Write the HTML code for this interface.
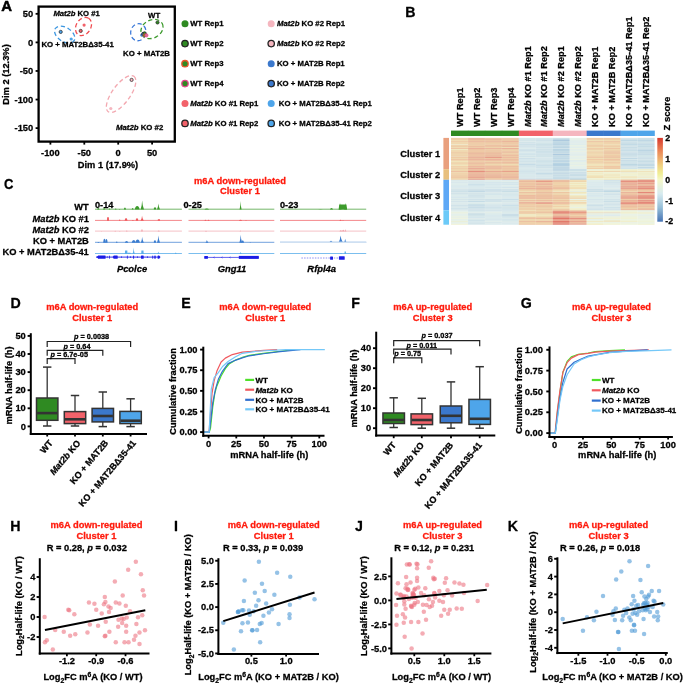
<!DOCTYPE html>
<html><head><meta charset="utf-8"><style>
html,body{margin:0;padding:0;background:#fff;overflow:hidden;}
svg{display:block;font-family:"Liberation Sans",sans-serif;will-change:transform;}
text{stroke-width:0.28px;stroke-linejoin:round;}
</style></head><body>
<svg width="685" height="683" viewBox="0 0 685 683">
<rect width="685" height="683" fill="#fff"/>
<text x="0" y="0" font-size="14.1" font-weight="bold" fill="#000" stroke="#000" style="stroke-width:0.5px" transform="translate(1.3 10.5) scale(1.06 1)">A</text>
<rect x="38.6" y="6.6" width="136.2" height="135" fill="none" stroke="#000" stroke-width="2.3"/>
<line x1="35.60" y1="13.82" x2="38.60" y2="13.82" stroke="#000" stroke-width="1.8"/>
<text x="33.20" y="17.12" font-size="9.3" text-anchor="end" fill="#000" stroke="#000" font-weight="bold">50</text>
<line x1="35.60" y1="42.40" x2="38.60" y2="42.40" stroke="#000" stroke-width="1.8"/>
<text x="33.20" y="45.70" font-size="9.3" text-anchor="end" fill="#000" stroke="#000" font-weight="bold">0</text>
<line x1="35.60" y1="70.97" x2="38.60" y2="70.97" stroke="#000" stroke-width="1.8"/>
<text x="33.20" y="74.27" font-size="9.3" text-anchor="end" fill="#000" stroke="#000" font-weight="bold">-50</text>
<line x1="35.60" y1="99.55" x2="38.60" y2="99.55" stroke="#000" stroke-width="1.8"/>
<text x="33.20" y="102.85" font-size="9.3" text-anchor="end" fill="#000" stroke="#000" font-weight="bold">-100</text>
<line x1="35.60" y1="128.12" x2="38.60" y2="128.12" stroke="#000" stroke-width="1.8"/>
<text x="33.20" y="131.43" font-size="9.3" text-anchor="end" fill="#000" stroke="#000" font-weight="bold">-150</text>
<line x1="50.40" y1="141.60" x2="50.40" y2="144.60" stroke="#000" stroke-width="1.8"/>
<text x="50.40" y="156.20" font-size="9.3" text-anchor="middle" fill="#000" stroke="#000" font-weight="bold">-100</text>
<line x1="84.30" y1="141.60" x2="84.30" y2="144.60" stroke="#000" stroke-width="1.8"/>
<text x="84.30" y="156.20" font-size="9.3" text-anchor="middle" fill="#000" stroke="#000" font-weight="bold">-50</text>
<line x1="118.20" y1="141.60" x2="118.20" y2="144.60" stroke="#000" stroke-width="1.8"/>
<text x="118.20" y="156.20" font-size="9.3" text-anchor="middle" fill="#000" stroke="#000" font-weight="bold">0</text>
<line x1="152.10" y1="141.60" x2="152.10" y2="144.60" stroke="#000" stroke-width="1.8"/>
<text x="152.10" y="156.20" font-size="9.3" text-anchor="middle" fill="#000" stroke="#000" font-weight="bold">50</text>
<text x="108.00" y="167.90" font-size="9.3" text-anchor="middle" fill="#000" stroke="#000" font-weight="bold">Dim 1 (17.9%)</text>
<text x="8.60" y="74.50" font-size="9.3" text-anchor="middle" fill="#000" stroke="#000" font-weight="bold" transform="rotate(-90 8.6 74.5)">Dim 2 (12.3%)</text>
<ellipse cx="83.5" cy="26.5" rx="9.7" ry="7.3" transform="rotate(-58 83.5 26.5)" fill="none" stroke="#f04a4e" stroke-width="1.3" stroke-dasharray="4.2 2.8"/>
<ellipse cx="64.7" cy="34.6" rx="11.2" ry="7" transform="rotate(33 64.7 34.6)" fill="none" stroke="#3a95e0" stroke-width="1.3" stroke-dasharray="4.2 2.8"/>
<ellipse cx="152" cy="29" rx="11.6" ry="9" transform="rotate(-28 152 29)" fill="none" stroke="#3c9a2c" stroke-width="1.3" stroke-dasharray="4.2 2.8"/>
<ellipse cx="138.3" cy="32.2" rx="7.6" ry="8.6" transform="rotate(15 138.3 32.2)" fill="none" stroke="#3a78d8" stroke-width="1.3" stroke-dasharray="4.2 2.8"/>
<ellipse cx="121.1" cy="94" rx="21.9" ry="8.9" transform="rotate(-54 121.1 94)" fill="none" stroke="#f3a8b0" stroke-width="1.3" stroke-dasharray="4.2 2.8"/>
<circle cx="84.10" cy="25.10" r="1.6" fill="#f2626a"/>
<circle cx="80.70" cy="30.90" r="1.6" fill="#f2626a" stroke="#222" stroke-width="0.7"/>
<circle cx="60.70" cy="31.90" r="1.6" fill="#4ea5ea" stroke="#222" stroke-width="0.7"/>
<circle cx="71.20" cy="39.00" r="1.6" fill="#4ea5ea"/>
<circle cx="131.60" cy="79.90" r="1.6" fill="#f5b6bf" stroke="#222" stroke-width="0.7"/>
<circle cx="110.80" cy="108.50" r="1.6" fill="#f5b6bf"/>
<circle cx="157.50" cy="22.50" r="1.6" fill="#2f8a22" stroke="#222" stroke-width="0.7"/>
<circle cx="141.80" cy="35.10" r="1.6" fill="#3b78cc"/>
<circle cx="143.20" cy="33.90" r="1.6" fill="#3b78cc" stroke="#222" stroke-width="0.7"/>
<circle cx="144.60" cy="33.30" r="1.6" fill="#2f8a22" stroke="#222" stroke-width="0.7"/>
<circle cx="144.60" cy="35.40" r="1.6" fill="#2f8a22" stroke="#e8552a" stroke-width="0.8"/>
<circle cx="146.40" cy="35.30" r="1.6" fill="#e86a96" stroke="#e0468c" stroke-width="0.8"/>
<text x="53.40" y="15.60" font-size="7.65" text-anchor="start" fill="#000" stroke="#000" font-weight="bold"><tspan font-style="italic">Mat2b</tspan> KO #1</text>
<text x="41.40" y="47.10" font-size="7.8" text-anchor="start" fill="#000" stroke="#000" font-weight="bold">KO + MAT2B&#916;35-41</text>
<text x="148.10" y="17.90" font-size="7.8" text-anchor="start" fill="#000" stroke="#000" font-weight="bold">WT</text>
<text x="123.10" y="55.90" font-size="7.8" text-anchor="start" fill="#000" stroke="#000" font-weight="bold">KO + MAT2B</text>
<text x="116.00" y="129.70" font-size="7.8" text-anchor="start" fill="#000" stroke="#000" font-weight="bold"><tspan font-style="italic">Mat2b</tspan> KO #2</text>
<circle cx="185.00" cy="23.70" r="3.5" fill="#2f8a22"/>
<text x="190.30" y="26.10" font-size="7.75" text-anchor="start" fill="#000" stroke="#000" font-weight="bold">WT Rep1</text>
<circle cx="185.00" cy="43.60" r="3.2" fill="#2f8a22" stroke="#222" stroke-width="1.3"/>
<text x="190.30" y="46.00" font-size="7.75" text-anchor="start" fill="#000" stroke="#000" font-weight="bold">WT Rep2</text>
<circle cx="185.00" cy="63.70" r="3.2" fill="#2f8a22" stroke="#e8552a" stroke-width="1.3"/>
<text x="190.30" y="66.10" font-size="7.75" text-anchor="start" fill="#000" stroke="#000" font-weight="bold">WT Rep3</text>
<circle cx="185.00" cy="83.60" r="3.2" fill="#2f8a22" stroke="#e0468c" stroke-width="1.3"/>
<text x="190.30" y="86.00" font-size="7.75" text-anchor="start" fill="#000" stroke="#000" font-weight="bold">WT Rep4</text>
<circle cx="185.00" cy="103.50" r="3.5" fill="#f2626a"/>
<text x="190.30" y="105.90" font-size="7.75" text-anchor="start" fill="#000" stroke="#000" font-weight="bold"><tspan font-style="italic">Mat2b</tspan> KO #1 Rep1</text>
<circle cx="185.00" cy="123.40" r="3.2" fill="#f2626a" stroke="#222" stroke-width="1.3"/>
<text x="190.30" y="125.80" font-size="7.75" text-anchor="start" fill="#000" stroke="#000" font-weight="bold"><tspan font-style="italic">Mat2b</tspan> KO #1 Rep2</text>
<circle cx="271.20" cy="23.70" r="3.5" fill="#f5b6bf"/>
<text x="277.00" y="26.10" font-size="7.75" text-anchor="start" fill="#000" stroke="#000" font-weight="bold"><tspan font-style="italic">Mat2b</tspan> KO #2 Rep1</text>
<circle cx="271.20" cy="43.60" r="3.2" fill="#f5b6bf" stroke="#222" stroke-width="1.3"/>
<text x="277.00" y="46.00" font-size="7.75" text-anchor="start" fill="#000" stroke="#000" font-weight="bold"><tspan font-style="italic">Mat2b</tspan> KO #2 Rep2</text>
<circle cx="271.20" cy="63.70" r="3.5" fill="#3b78cc"/>
<text x="277.00" y="66.10" font-size="7.75" text-anchor="start" fill="#000" stroke="#000" font-weight="bold">KO + MAT2B Rep1</text>
<circle cx="271.20" cy="83.60" r="3.2" fill="#3b78cc" stroke="#222" stroke-width="1.3"/>
<text x="277.00" y="86.00" font-size="7.75" text-anchor="start" fill="#000" stroke="#000" font-weight="bold">KO + MAT2B Rep2</text>
<circle cx="271.20" cy="103.50" r="3.5" fill="#4ea5ea"/>
<text x="278.80" y="105.90" font-size="7.75" text-anchor="start" fill="#000" stroke="#000" font-weight="bold">KO + MAT2B&#916;35-41 Rep1</text>
<circle cx="271.20" cy="123.40" r="3.2" fill="#4ea5ea" stroke="#222" stroke-width="1.3"/>
<text x="278.80" y="125.80" font-size="7.75" text-anchor="start" fill="#000" stroke="#000" font-weight="bold">KO + MAT2B&#916;35-41 Rep2</text>
<text x="405.30" y="16.80" font-size="14.2" text-anchor="start" fill="#000" stroke="#000" font-weight="bold">B</text>
<text x="462.68" y="126.90" font-size="9.2" text-anchor="start" fill="#000" stroke="#000" font-weight="bold" transform="rotate(-90 462.679 126.9)">WT Rep1</text>
<text x="479.64" y="126.90" font-size="9.2" text-anchor="start" fill="#000" stroke="#000" font-weight="bold" transform="rotate(-90 479.637 126.9)">WT Rep2</text>
<text x="496.60" y="126.90" font-size="9.2" text-anchor="start" fill="#000" stroke="#000" font-weight="bold" transform="rotate(-90 496.596 126.9)">WT Rep3</text>
<text x="513.55" y="126.90" font-size="9.2" text-anchor="start" fill="#000" stroke="#000" font-weight="bold" transform="rotate(-90 513.554 126.9)">WT Rep4</text>
<text x="530.51" y="126.90" font-size="9.2" text-anchor="start" fill="#000" stroke="#000" font-weight="bold" transform="rotate(-90 530.513 126.9)"><tspan font-style="italic">Mat2b</tspan> KO #1 Rep1</text>
<text x="547.47" y="126.90" font-size="9.2" text-anchor="start" fill="#000" stroke="#000" font-weight="bold" transform="rotate(-90 547.471 126.9)"><tspan font-style="italic">Mat2b</tspan> KO #1 Rep2</text>
<text x="564.43" y="126.90" font-size="9.2" text-anchor="start" fill="#000" stroke="#000" font-weight="bold" transform="rotate(-90 564.429 126.9)"><tspan font-style="italic">Mat2b</tspan> KO #2 Rep1</text>
<text x="581.39" y="126.90" font-size="9.2" text-anchor="start" fill="#000" stroke="#000" font-weight="bold" transform="rotate(-90 581.388 126.9)"><tspan font-style="italic">Mat2b</tspan> KO #2 Rep2</text>
<text x="598.35" y="126.90" font-size="9.2" text-anchor="start" fill="#000" stroke="#000" font-weight="bold" transform="rotate(-90 598.346 126.9)">KO + MAT2B Rep1</text>
<text x="615.30" y="126.90" font-size="9.2" text-anchor="start" fill="#000" stroke="#000" font-weight="bold" transform="rotate(-90 615.304 126.9)">KO + MAT2B Rep2</text>
<text x="632.26" y="126.90" font-size="9.2" text-anchor="start" fill="#000" stroke="#000" font-weight="bold" transform="rotate(-90 632.263 126.9)">KO + MAT2B&#916;35-41 Rep1</text>
<text x="649.22" y="126.90" font-size="9.2" text-anchor="start" fill="#000" stroke="#000" font-weight="bold" transform="rotate(-90 649.221 126.9)">KO + MAT2B&#916;35-41 Rep2</text>
<rect x="451.00" y="130.60" width="17.26" height="5.40" fill="#2f8a22"/>
<rect x="467.96" y="130.60" width="17.26" height="5.40" fill="#2f8a22"/>
<rect x="484.92" y="130.60" width="17.26" height="5.40" fill="#2f8a22"/>
<rect x="501.88" y="130.60" width="17.26" height="5.40" fill="#2f8a22"/>
<rect x="518.83" y="130.60" width="17.26" height="5.40" fill="#f2626a"/>
<rect x="535.79" y="130.60" width="17.26" height="5.40" fill="#f2626a"/>
<rect x="552.75" y="130.60" width="17.26" height="5.40" fill="#f5b6bf"/>
<rect x="569.71" y="130.60" width="17.26" height="5.40" fill="#f5b6bf"/>
<rect x="586.67" y="130.60" width="17.26" height="5.40" fill="#3b78cc"/>
<rect x="603.62" y="130.60" width="17.26" height="5.40" fill="#3b78cc"/>
<rect x="620.58" y="130.60" width="17.26" height="5.40" fill="#4ea5ea"/>
<rect x="637.54" y="130.60" width="17.26" height="5.40" fill="#4ea5ea"/>
<rect x="443.40" y="137.90" width="5.60" height="31.30" fill="#e9a07e"/>
<rect x="443.40" y="169.20" width="5.60" height="10.60" fill="#e8c07e"/>
<rect x="443.40" y="179.80" width="5.60" height="30.50" fill="#5ea8f6"/>
<rect x="443.40" y="210.30" width="5.60" height="14.40" fill="#6ccaf8"/>
<text x="440.20" y="157.40" font-size="9.35" text-anchor="end" fill="#000" stroke="#000" font-weight="bold">Cluster 1</text>
<text x="440.20" y="177.90" font-size="9.35" text-anchor="end" fill="#000" stroke="#000" font-weight="bold">Cluster 2</text>
<text x="440.20" y="199.20" font-size="9.35" text-anchor="end" fill="#000" stroke="#000" font-weight="bold">Cluster 3</text>
<text x="440.20" y="221.10" font-size="9.35" text-anchor="end" fill="#000" stroke="#000" font-weight="bold">Cluster 4</text>
<rect x="451.00" y="137.90" width="17.01" height="0.65" fill="#ebca98"/>
<rect x="467.96" y="137.90" width="17.01" height="0.65" fill="#e9b58b"/>
<rect x="484.92" y="137.90" width="17.01" height="0.65" fill="#e9b98d"/>
<rect x="501.88" y="137.90" width="17.01" height="0.65" fill="#eac091"/>
<rect x="518.83" y="137.90" width="17.01" height="0.65" fill="#cadfe5"/>
<rect x="535.79" y="137.90" width="17.01" height="0.65" fill="#cde1e6"/>
<rect x="552.75" y="137.90" width="17.01" height="0.65" fill="#b8d3e0"/>
<rect x="569.71" y="137.90" width="17.01" height="0.65" fill="#e2eee4"/>
<rect x="586.67" y="137.90" width="17.01" height="0.65" fill="#ebc997"/>
<rect x="603.62" y="137.90" width="17.01" height="0.65" fill="#ebc293"/>
<rect x="620.58" y="137.90" width="17.01" height="0.65" fill="#c5dbe4"/>
<rect x="637.54" y="137.90" width="17.01" height="0.65" fill="#adccdd"/>
<rect x="451.00" y="138.50" width="17.01" height="0.65" fill="#eabb8e"/>
<rect x="467.96" y="138.50" width="17.01" height="0.65" fill="#e49e83"/>
<rect x="484.92" y="138.50" width="17.01" height="0.65" fill="#e8b28a"/>
<rect x="501.88" y="138.50" width="17.01" height="0.65" fill="#e9b68c"/>
<rect x="518.83" y="138.50" width="17.01" height="0.65" fill="#cce1e6"/>
<rect x="535.79" y="138.50" width="17.01" height="0.65" fill="#cadfe5"/>
<rect x="552.75" y="138.50" width="17.01" height="0.65" fill="#c2d9e3"/>
<rect x="569.71" y="138.50" width="17.01" height="0.65" fill="#e2eee4"/>
<rect x="586.67" y="138.50" width="17.01" height="0.65" fill="#e9b88c"/>
<rect x="603.62" y="138.50" width="17.01" height="0.65" fill="#eaba8d"/>
<rect x="620.58" y="138.50" width="17.01" height="0.65" fill="#cce0e6"/>
<rect x="637.54" y="138.50" width="17.01" height="0.65" fill="#cadfe5"/>
<rect x="451.00" y="139.10" width="17.01" height="0.65" fill="#ebc796"/>
<rect x="467.96" y="139.10" width="17.01" height="0.65" fill="#e9b58b"/>
<rect x="484.92" y="139.10" width="17.01" height="0.65" fill="#e8b38b"/>
<rect x="501.88" y="139.10" width="17.01" height="0.65" fill="#ebc393"/>
<rect x="518.83" y="139.10" width="17.01" height="0.65" fill="#c4dbe3"/>
<rect x="535.79" y="139.10" width="17.01" height="0.65" fill="#c1d9e3"/>
<rect x="552.75" y="139.10" width="17.01" height="0.65" fill="#acccdd"/>
<rect x="569.71" y="139.10" width="17.01" height="0.65" fill="#deece5"/>
<rect x="586.67" y="139.10" width="17.01" height="0.65" fill="#ecce9b"/>
<rect x="603.62" y="139.10" width="17.01" height="0.65" fill="#eccd9a"/>
<rect x="620.58" y="139.10" width="17.01" height="0.65" fill="#b6d2df"/>
<rect x="637.54" y="139.10" width="17.01" height="0.65" fill="#b6d2df"/>
<rect x="451.00" y="139.71" width="17.01" height="0.65" fill="#eabf90"/>
<rect x="467.96" y="139.71" width="17.01" height="0.65" fill="#e3987f"/>
<rect x="484.92" y="139.71" width="17.01" height="0.65" fill="#e49c82"/>
<rect x="501.88" y="139.71" width="17.01" height="0.65" fill="#e7ae89"/>
<rect x="518.83" y="139.71" width="17.01" height="0.65" fill="#d4e6e9"/>
<rect x="535.79" y="139.71" width="17.01" height="0.65" fill="#d6e7e8"/>
<rect x="552.75" y="139.71" width="17.01" height="0.65" fill="#accbdd"/>
<rect x="569.71" y="139.71" width="17.01" height="0.65" fill="#e2eee3"/>
<rect x="586.67" y="139.71" width="17.01" height="0.65" fill="#e9b78c"/>
<rect x="603.62" y="139.71" width="17.01" height="0.65" fill="#e9b68c"/>
<rect x="620.58" y="139.71" width="17.01" height="0.65" fill="#cfe3e7"/>
<rect x="637.54" y="139.71" width="17.01" height="0.65" fill="#c9dfe5"/>
<rect x="451.00" y="140.31" width="17.01" height="0.65" fill="#edd9a5"/>
<rect x="467.96" y="140.31" width="17.01" height="0.65" fill="#eac091"/>
<rect x="484.92" y="140.31" width="17.01" height="0.65" fill="#eac192"/>
<rect x="501.88" y="140.31" width="17.01" height="0.65" fill="#eac091"/>
<rect x="518.83" y="140.31" width="17.01" height="0.65" fill="#c6dce4"/>
<rect x="535.79" y="140.31" width="17.01" height="0.65" fill="#bfd7e2"/>
<rect x="552.75" y="140.31" width="17.01" height="0.65" fill="#92bad5"/>
<rect x="569.71" y="140.31" width="17.01" height="0.65" fill="#dbeae7"/>
<rect x="586.67" y="140.31" width="17.01" height="0.65" fill="#ede1ae"/>
<rect x="603.62" y="140.31" width="17.01" height="0.65" fill="#edd9a6"/>
<rect x="620.58" y="140.31" width="17.01" height="0.65" fill="#a8c9dc"/>
<rect x="637.54" y="140.31" width="17.01" height="0.65" fill="#a7c8db"/>
<rect x="451.00" y="140.91" width="17.01" height="0.65" fill="#ebc897"/>
<rect x="467.96" y="140.91" width="17.01" height="0.65" fill="#ebc595"/>
<rect x="484.92" y="140.91" width="17.01" height="0.65" fill="#ebc494"/>
<rect x="501.88" y="140.91" width="17.01" height="0.65" fill="#eabc8e"/>
<rect x="518.83" y="140.91" width="17.01" height="0.65" fill="#d2e5e8"/>
<rect x="535.79" y="140.91" width="17.01" height="0.65" fill="#c8dde5"/>
<rect x="552.75" y="140.91" width="17.01" height="0.65" fill="#97bfd7"/>
<rect x="569.71" y="140.91" width="17.01" height="0.65" fill="#d1e4e8"/>
<rect x="586.67" y="140.91" width="17.01" height="0.65" fill="#ebcc99"/>
<rect x="603.62" y="140.91" width="17.01" height="0.65" fill="#eccd9b"/>
<rect x="620.58" y="140.91" width="17.01" height="0.65" fill="#b6d2df"/>
<rect x="637.54" y="140.91" width="17.01" height="0.65" fill="#c5dce4"/>
<rect x="451.00" y="141.51" width="17.01" height="0.65" fill="#eaba8d"/>
<rect x="467.96" y="141.51" width="17.01" height="0.65" fill="#e49c82"/>
<rect x="484.92" y="141.51" width="17.01" height="0.65" fill="#e49e83"/>
<rect x="501.88" y="141.51" width="17.01" height="0.65" fill="#e39279"/>
<rect x="518.83" y="141.51" width="17.01" height="0.65" fill="#d6e7e8"/>
<rect x="535.79" y="141.51" width="17.01" height="0.65" fill="#d1e4e8"/>
<rect x="552.75" y="141.51" width="17.01" height="0.65" fill="#c5dbe4"/>
<rect x="569.71" y="141.51" width="17.01" height="0.65" fill="#ddebe6"/>
<rect x="586.67" y="141.51" width="17.01" height="0.65" fill="#e7ae89"/>
<rect x="603.62" y="141.51" width="17.01" height="0.65" fill="#e7aa87"/>
<rect x="620.58" y="141.51" width="17.01" height="0.65" fill="#cfe2e7"/>
<rect x="637.54" y="141.51" width="17.01" height="0.65" fill="#bad4e0"/>
<rect x="451.00" y="142.11" width="17.01" height="0.65" fill="#eccd9a"/>
<rect x="467.96" y="142.11" width="17.01" height="0.65" fill="#ebc595"/>
<rect x="484.92" y="142.11" width="17.01" height="0.65" fill="#eabd8f"/>
<rect x="501.88" y="142.11" width="17.01" height="0.65" fill="#e9b88c"/>
<rect x="518.83" y="142.11" width="17.01" height="0.65" fill="#c1d9e2"/>
<rect x="535.79" y="142.11" width="17.01" height="0.65" fill="#cde1e7"/>
<rect x="552.75" y="142.11" width="17.01" height="0.65" fill="#b4d1df"/>
<rect x="569.71" y="142.11" width="17.01" height="0.65" fill="#dbeae6"/>
<rect x="586.67" y="142.11" width="17.01" height="0.65" fill="#eccd9b"/>
<rect x="603.62" y="142.11" width="17.01" height="0.65" fill="#ebc695"/>
<rect x="620.58" y="142.11" width="17.01" height="0.65" fill="#c2d9e3"/>
<rect x="637.54" y="142.11" width="17.01" height="0.65" fill="#c6dce4"/>
<rect x="451.00" y="142.72" width="17.01" height="0.65" fill="#ecd6a2"/>
<rect x="467.96" y="142.72" width="17.01" height="0.65" fill="#e8b18a"/>
<rect x="484.92" y="142.72" width="17.01" height="0.65" fill="#eabc8e"/>
<rect x="501.88" y="142.72" width="17.01" height="0.65" fill="#ebc595"/>
<rect x="518.83" y="142.72" width="17.01" height="0.65" fill="#cee2e7"/>
<rect x="535.79" y="142.72" width="17.01" height="0.65" fill="#cce1e6"/>
<rect x="552.75" y="142.72" width="17.01" height="0.65" fill="#a8c9dc"/>
<rect x="569.71" y="142.72" width="17.01" height="0.65" fill="#d6e7e8"/>
<rect x="586.67" y="142.72" width="17.01" height="0.65" fill="#ecd19d"/>
<rect x="603.62" y="142.72" width="17.01" height="0.65" fill="#ebcb99"/>
<rect x="620.58" y="142.72" width="17.01" height="0.65" fill="#bed7e2"/>
<rect x="637.54" y="142.72" width="17.01" height="0.65" fill="#c7dde4"/>
<rect x="451.00" y="143.32" width="17.01" height="0.65" fill="#eccf9c"/>
<rect x="467.96" y="143.32" width="17.01" height="0.65" fill="#ebc796"/>
<rect x="484.92" y="143.32" width="17.01" height="0.65" fill="#ebc796"/>
<rect x="501.88" y="143.32" width="17.01" height="0.65" fill="#eac091"/>
<rect x="518.83" y="143.32" width="17.01" height="0.65" fill="#cde1e7"/>
<rect x="535.79" y="143.32" width="17.01" height="0.65" fill="#c6dde4"/>
<rect x="552.75" y="143.32" width="17.01" height="0.65" fill="#adccdd"/>
<rect x="569.71" y="143.32" width="17.01" height="0.65" fill="#dbeae7"/>
<rect x="586.67" y="143.32" width="17.01" height="0.65" fill="#ecd4a0"/>
<rect x="603.62" y="143.32" width="17.01" height="0.65" fill="#ebcb99"/>
<rect x="620.58" y="143.32" width="17.01" height="0.65" fill="#bbd5e1"/>
<rect x="637.54" y="143.32" width="17.01" height="0.65" fill="#bcd5e1"/>
<rect x="451.00" y="143.92" width="17.01" height="0.65" fill="#ebc292"/>
<rect x="467.96" y="143.92" width="17.01" height="0.65" fill="#e5a184"/>
<rect x="484.92" y="143.92" width="17.01" height="0.65" fill="#e6a585"/>
<rect x="501.88" y="143.92" width="17.01" height="0.65" fill="#e49d83"/>
<rect x="518.83" y="143.92" width="17.01" height="0.65" fill="#d2e5e8"/>
<rect x="535.79" y="143.92" width="17.01" height="0.65" fill="#c8dee5"/>
<rect x="552.75" y="143.92" width="17.01" height="0.65" fill="#b8d3e0"/>
<rect x="569.71" y="143.92" width="17.01" height="0.65" fill="#e1ede4"/>
<rect x="586.67" y="143.92" width="17.01" height="0.65" fill="#e9b98d"/>
<rect x="603.62" y="143.92" width="17.01" height="0.65" fill="#eabc8e"/>
<rect x="620.58" y="143.92" width="17.01" height="0.65" fill="#cbe0e6"/>
<rect x="637.54" y="143.92" width="17.01" height="0.65" fill="#d1e4e8"/>
<rect x="451.00" y="144.52" width="17.01" height="0.65" fill="#ecf2d2"/>
<rect x="467.96" y="144.52" width="17.01" height="0.65" fill="#ecd19d"/>
<rect x="484.92" y="144.52" width="17.01" height="0.65" fill="#ecd39f"/>
<rect x="501.88" y="144.52" width="17.01" height="0.65" fill="#edd8a4"/>
<rect x="518.83" y="144.52" width="17.01" height="0.65" fill="#b5d1df"/>
<rect x="535.79" y="144.52" width="17.01" height="0.65" fill="#b8d3e0"/>
<rect x="552.75" y="144.52" width="17.01" height="0.65" fill="#99c0d8"/>
<rect x="569.71" y="144.52" width="17.01" height="0.65" fill="#d0e4e8"/>
<rect x="586.67" y="144.52" width="17.01" height="0.65" fill="#eddaa7"/>
<rect x="603.62" y="144.52" width="17.01" height="0.65" fill="#eee4b2"/>
<rect x="620.58" y="144.52" width="17.01" height="0.65" fill="#a3c6da"/>
<rect x="637.54" y="144.52" width="17.01" height="0.65" fill="#a4c6db"/>
<rect x="451.00" y="145.12" width="17.01" height="0.65" fill="#eccd9a"/>
<rect x="467.96" y="145.12" width="17.01" height="0.65" fill="#ebc695"/>
<rect x="484.92" y="145.12" width="17.01" height="0.65" fill="#eaba8d"/>
<rect x="501.88" y="145.12" width="17.01" height="0.65" fill="#e8b18a"/>
<rect x="518.83" y="145.12" width="17.01" height="0.65" fill="#c4dbe3"/>
<rect x="535.79" y="145.12" width="17.01" height="0.65" fill="#c6dce4"/>
<rect x="552.75" y="145.12" width="17.01" height="0.65" fill="#bfd7e2"/>
<rect x="569.71" y="145.12" width="17.01" height="0.65" fill="#e1eee4"/>
<rect x="586.67" y="145.12" width="17.01" height="0.65" fill="#eac091"/>
<rect x="603.62" y="145.12" width="17.01" height="0.65" fill="#ecd09c"/>
<rect x="620.58" y="145.12" width="17.01" height="0.65" fill="#c2d9e3"/>
<rect x="637.54" y="145.12" width="17.01" height="0.65" fill="#bed7e2"/>
<rect x="451.00" y="145.72" width="17.01" height="0.65" fill="#eaba8d"/>
<rect x="467.96" y="145.72" width="17.01" height="0.65" fill="#eaba8d"/>
<rect x="484.92" y="145.72" width="17.01" height="0.65" fill="#e5a084"/>
<rect x="501.88" y="145.72" width="17.01" height="0.65" fill="#e9b78c"/>
<rect x="518.83" y="145.72" width="17.01" height="0.65" fill="#d4e6e9"/>
<rect x="535.79" y="145.72" width="17.01" height="0.65" fill="#c2dae3"/>
<rect x="552.75" y="145.72" width="17.01" height="0.65" fill="#c0d8e2"/>
<rect x="569.71" y="145.72" width="17.01" height="0.65" fill="#e8f0d9"/>
<rect x="586.67" y="145.72" width="17.01" height="0.65" fill="#eac091"/>
<rect x="603.62" y="145.72" width="17.01" height="0.65" fill="#e9b78c"/>
<rect x="620.58" y="145.72" width="17.01" height="0.65" fill="#cee1e7"/>
<rect x="637.54" y="145.72" width="17.01" height="0.65" fill="#c7dde4"/>
<rect x="451.00" y="146.33" width="17.01" height="0.65" fill="#eac191"/>
<rect x="467.96" y="146.33" width="17.01" height="0.65" fill="#e6a987"/>
<rect x="484.92" y="146.33" width="17.01" height="0.65" fill="#e9b68c"/>
<rect x="501.88" y="146.33" width="17.01" height="0.65" fill="#e5a284"/>
<rect x="518.83" y="146.33" width="17.01" height="0.65" fill="#c5dce4"/>
<rect x="535.79" y="146.33" width="17.01" height="0.65" fill="#cce1e6"/>
<rect x="552.75" y="146.33" width="17.01" height="0.65" fill="#b1cfde"/>
<rect x="569.71" y="146.33" width="17.01" height="0.65" fill="#dfece5"/>
<rect x="586.67" y="146.33" width="17.01" height="0.65" fill="#ebc493"/>
<rect x="603.62" y="146.33" width="17.01" height="0.65" fill="#eac192"/>
<rect x="620.58" y="146.33" width="17.01" height="0.65" fill="#c8dee5"/>
<rect x="637.54" y="146.33" width="17.01" height="0.65" fill="#b1cfde"/>
<rect x="451.00" y="146.93" width="17.01" height="0.65" fill="#eddba8"/>
<rect x="467.96" y="146.93" width="17.01" height="0.65" fill="#ebcb99"/>
<rect x="484.92" y="146.93" width="17.01" height="0.65" fill="#ecce9b"/>
<rect x="501.88" y="146.93" width="17.01" height="0.65" fill="#ecd5a1"/>
<rect x="518.83" y="146.93" width="17.01" height="0.65" fill="#cbe0e6"/>
<rect x="535.79" y="146.93" width="17.01" height="0.65" fill="#c3dae3"/>
<rect x="552.75" y="146.93" width="17.01" height="0.65" fill="#b5d1df"/>
<rect x="569.71" y="146.93" width="17.01" height="0.65" fill="#d4e6e9"/>
<rect x="586.67" y="146.93" width="17.01" height="0.65" fill="#edddaa"/>
<rect x="603.62" y="146.93" width="17.01" height="0.65" fill="#eddfad"/>
<rect x="620.58" y="146.93" width="17.01" height="0.65" fill="#c1d8e2"/>
<rect x="637.54" y="146.93" width="17.01" height="0.65" fill="#c3dae3"/>
<rect x="451.00" y="147.53" width="17.01" height="0.65" fill="#ebcb99"/>
<rect x="467.96" y="147.53" width="17.01" height="0.65" fill="#e9b58b"/>
<rect x="484.92" y="147.53" width="17.01" height="0.65" fill="#eac191"/>
<rect x="501.88" y="147.53" width="17.01" height="0.65" fill="#eccf9c"/>
<rect x="518.83" y="147.53" width="17.01" height="0.65" fill="#d0e3e7"/>
<rect x="535.79" y="147.53" width="17.01" height="0.65" fill="#c2d9e3"/>
<rect x="552.75" y="147.53" width="17.01" height="0.65" fill="#a3c6da"/>
<rect x="569.71" y="147.53" width="17.01" height="0.65" fill="#dcebe6"/>
<rect x="586.67" y="147.53" width="17.01" height="0.65" fill="#ecd09d"/>
<rect x="603.62" y="147.53" width="17.01" height="0.65" fill="#ebc393"/>
<rect x="620.58" y="147.53" width="17.01" height="0.65" fill="#b2d0de"/>
<rect x="637.54" y="147.53" width="17.01" height="0.65" fill="#c4dbe3"/>
<rect x="451.00" y="148.13" width="17.01" height="0.65" fill="#e7aa87"/>
<rect x="467.96" y="148.13" width="17.01" height="0.65" fill="#e3967c"/>
<rect x="484.92" y="148.13" width="17.01" height="0.65" fill="#e5a184"/>
<rect x="501.88" y="148.13" width="17.01" height="0.65" fill="#e28d76"/>
<rect x="518.83" y="148.13" width="17.01" height="0.65" fill="#d5e7e8"/>
<rect x="535.79" y="148.13" width="17.01" height="0.65" fill="#d1e4e8"/>
<rect x="552.75" y="148.13" width="17.01" height="0.65" fill="#cce1e6"/>
<rect x="569.71" y="148.13" width="17.01" height="0.65" fill="#e4efe0"/>
<rect x="586.67" y="148.13" width="17.01" height="0.65" fill="#ebc393"/>
<rect x="603.62" y="148.13" width="17.01" height="0.65" fill="#e7af89"/>
<rect x="620.58" y="148.13" width="17.01" height="0.65" fill="#c3dae3"/>
<rect x="637.54" y="148.13" width="17.01" height="0.65" fill="#d0e3e8"/>
<rect x="451.00" y="148.73" width="17.01" height="0.65" fill="#ebca98"/>
<rect x="467.96" y="148.73" width="17.01" height="0.65" fill="#e7aa87"/>
<rect x="484.92" y="148.73" width="17.01" height="0.65" fill="#e6a786"/>
<rect x="501.88" y="148.73" width="17.01" height="0.65" fill="#e8b08a"/>
<rect x="518.83" y="148.73" width="17.01" height="0.65" fill="#d6e7e8"/>
<rect x="535.79" y="148.73" width="17.01" height="0.65" fill="#c9dee5"/>
<rect x="552.75" y="148.73" width="17.01" height="0.65" fill="#c3dae3"/>
<rect x="569.71" y="148.73" width="17.01" height="0.65" fill="#e8f0d9"/>
<rect x="586.67" y="148.73" width="17.01" height="0.65" fill="#e9b88c"/>
<rect x="603.62" y="148.73" width="17.01" height="0.65" fill="#ebc292"/>
<rect x="620.58" y="148.73" width="17.01" height="0.65" fill="#cce1e6"/>
<rect x="637.54" y="148.73" width="17.01" height="0.65" fill="#b2cfde"/>
<rect x="451.00" y="149.34" width="17.01" height="0.65" fill="#eee8b9"/>
<rect x="467.96" y="149.34" width="17.01" height="0.65" fill="#e9b88c"/>
<rect x="484.92" y="149.34" width="17.01" height="0.65" fill="#ebca98"/>
<rect x="501.88" y="149.34" width="17.01" height="0.65" fill="#ebc594"/>
<rect x="518.83" y="149.34" width="17.01" height="0.65" fill="#c5dbe4"/>
<rect x="535.79" y="149.34" width="17.01" height="0.65" fill="#c1d9e2"/>
<rect x="552.75" y="149.34" width="17.01" height="0.65" fill="#a0c4da"/>
<rect x="569.71" y="149.34" width="17.01" height="0.65" fill="#dbeae7"/>
<rect x="586.67" y="149.34" width="17.01" height="0.65" fill="#ebc998"/>
<rect x="603.62" y="149.34" width="17.01" height="0.65" fill="#ecd09c"/>
<rect x="620.58" y="149.34" width="17.01" height="0.65" fill="#c2d9e3"/>
<rect x="637.54" y="149.34" width="17.01" height="0.65" fill="#c2d9e3"/>
<rect x="451.00" y="149.94" width="17.01" height="0.65" fill="#ecd5a2"/>
<rect x="467.96" y="149.94" width="17.01" height="0.65" fill="#e9b78c"/>
<rect x="484.92" y="149.94" width="17.01" height="0.65" fill="#e7ad88"/>
<rect x="501.88" y="149.94" width="17.01" height="0.65" fill="#ebc494"/>
<rect x="518.83" y="149.94" width="17.01" height="0.65" fill="#c8dde5"/>
<rect x="535.79" y="149.94" width="17.01" height="0.65" fill="#cce1e6"/>
<rect x="552.75" y="149.94" width="17.01" height="0.65" fill="#bdd6e1"/>
<rect x="569.71" y="149.94" width="17.01" height="0.65" fill="#deece6"/>
<rect x="586.67" y="149.94" width="17.01" height="0.65" fill="#ebc494"/>
<rect x="603.62" y="149.94" width="17.01" height="0.65" fill="#ebc393"/>
<rect x="620.58" y="149.94" width="17.01" height="0.65" fill="#b9d4e0"/>
<rect x="637.54" y="149.94" width="17.01" height="0.65" fill="#afcede"/>
<rect x="451.00" y="150.54" width="17.01" height="0.65" fill="#ebcc9a"/>
<rect x="467.96" y="150.54" width="17.01" height="0.65" fill="#eabd8f"/>
<rect x="484.92" y="150.54" width="17.01" height="0.65" fill="#ebc292"/>
<rect x="501.88" y="150.54" width="17.01" height="0.65" fill="#ebc494"/>
<rect x="518.83" y="150.54" width="17.01" height="0.65" fill="#bfd7e2"/>
<rect x="535.79" y="150.54" width="17.01" height="0.65" fill="#c3dae3"/>
<rect x="552.75" y="150.54" width="17.01" height="0.65" fill="#9fc3d9"/>
<rect x="569.71" y="150.54" width="17.01" height="0.65" fill="#ddebe6"/>
<rect x="586.67" y="150.54" width="17.01" height="0.65" fill="#eee2af"/>
<rect x="603.62" y="150.54" width="17.01" height="0.65" fill="#ebc897"/>
<rect x="620.58" y="150.54" width="17.01" height="0.65" fill="#bad5e1"/>
<rect x="637.54" y="150.54" width="17.01" height="0.65" fill="#a5c7db"/>
<rect x="451.00" y="151.14" width="17.01" height="0.65" fill="#ebc292"/>
<rect x="467.96" y="151.14" width="17.01" height="0.65" fill="#e9b58b"/>
<rect x="484.92" y="151.14" width="17.01" height="0.65" fill="#e7ae89"/>
<rect x="501.88" y="151.14" width="17.01" height="0.65" fill="#e6a887"/>
<rect x="518.83" y="151.14" width="17.01" height="0.65" fill="#cee2e7"/>
<rect x="535.79" y="151.14" width="17.01" height="0.65" fill="#d1e4e8"/>
<rect x="552.75" y="151.14" width="17.01" height="0.65" fill="#c4dbe3"/>
<rect x="569.71" y="151.14" width="17.01" height="0.65" fill="#e5efde"/>
<rect x="586.67" y="151.14" width="17.01" height="0.65" fill="#eabb8e"/>
<rect x="603.62" y="151.14" width="17.01" height="0.65" fill="#e7ad88"/>
<rect x="620.58" y="151.14" width="17.01" height="0.65" fill="#cde1e7"/>
<rect x="637.54" y="151.14" width="17.01" height="0.65" fill="#cadfe5"/>
<rect x="451.00" y="151.74" width="17.01" height="0.65" fill="#eee2b0"/>
<rect x="467.96" y="151.74" width="17.01" height="0.65" fill="#ebc494"/>
<rect x="484.92" y="151.74" width="17.01" height="0.65" fill="#ecd19d"/>
<rect x="501.88" y="151.74" width="17.01" height="0.65" fill="#ecd6a2"/>
<rect x="518.83" y="151.74" width="17.01" height="0.65" fill="#cce0e6"/>
<rect x="535.79" y="151.74" width="17.01" height="0.65" fill="#9fc4d9"/>
<rect x="552.75" y="151.74" width="17.01" height="0.65" fill="#a1c5da"/>
<rect x="569.71" y="151.74" width="17.01" height="0.65" fill="#e0ede5"/>
<rect x="586.67" y="151.74" width="17.01" height="0.65" fill="#edeabf"/>
<rect x="603.62" y="151.74" width="17.01" height="0.65" fill="#eddaa7"/>
<rect x="620.58" y="151.74" width="17.01" height="0.65" fill="#c4dbe3"/>
<rect x="637.54" y="151.74" width="17.01" height="0.65" fill="#a9cadc"/>
<rect x="451.00" y="152.35" width="17.01" height="0.65" fill="#eabc8e"/>
<rect x="467.96" y="152.35" width="17.01" height="0.65" fill="#e7ae89"/>
<rect x="484.92" y="152.35" width="17.01" height="0.65" fill="#e7aa87"/>
<rect x="501.88" y="152.35" width="17.01" height="0.65" fill="#e7ab88"/>
<rect x="518.83" y="152.35" width="17.01" height="0.65" fill="#d5e6e9"/>
<rect x="535.79" y="152.35" width="17.01" height="0.65" fill="#cbdfe6"/>
<rect x="552.75" y="152.35" width="17.01" height="0.65" fill="#bad4e0"/>
<rect x="569.71" y="152.35" width="17.01" height="0.65" fill="#ddebe6"/>
<rect x="586.67" y="152.35" width="17.01" height="0.65" fill="#ebc292"/>
<rect x="603.62" y="152.35" width="17.01" height="0.65" fill="#e8b38b"/>
<rect x="620.58" y="152.35" width="17.01" height="0.65" fill="#c9dee5"/>
<rect x="637.54" y="152.35" width="17.01" height="0.65" fill="#c1d9e2"/>
<rect x="451.00" y="152.95" width="17.01" height="0.65" fill="#ebc393"/>
<rect x="467.96" y="152.95" width="17.01" height="0.65" fill="#e8b38b"/>
<rect x="484.92" y="152.95" width="17.01" height="0.65" fill="#eaba8d"/>
<rect x="501.88" y="152.95" width="17.01" height="0.65" fill="#ecd39f"/>
<rect x="518.83" y="152.95" width="17.01" height="0.65" fill="#cbe0e6"/>
<rect x="535.79" y="152.95" width="17.01" height="0.65" fill="#c5dce4"/>
<rect x="552.75" y="152.95" width="17.01" height="0.65" fill="#c0d8e2"/>
<rect x="569.71" y="152.95" width="17.01" height="0.65" fill="#ddebe6"/>
<rect x="586.67" y="152.95" width="17.01" height="0.65" fill="#ecd39f"/>
<rect x="603.62" y="152.95" width="17.01" height="0.65" fill="#ebc998"/>
<rect x="620.58" y="152.95" width="17.01" height="0.65" fill="#a7c9dc"/>
<rect x="637.54" y="152.95" width="17.01" height="0.65" fill="#c4dbe3"/>
<rect x="451.00" y="153.55" width="17.01" height="0.65" fill="#ebca98"/>
<rect x="467.96" y="153.55" width="17.01" height="0.65" fill="#e5a084"/>
<rect x="484.92" y="153.55" width="17.01" height="0.65" fill="#e5a083"/>
<rect x="501.88" y="153.55" width="17.01" height="0.65" fill="#eabb8e"/>
<rect x="518.83" y="153.55" width="17.01" height="0.65" fill="#cadfe6"/>
<rect x="535.79" y="153.55" width="17.01" height="0.65" fill="#cbe0e6"/>
<rect x="552.75" y="153.55" width="17.01" height="0.65" fill="#bcd5e1"/>
<rect x="569.71" y="153.55" width="17.01" height="0.65" fill="#deece5"/>
<rect x="586.67" y="153.55" width="17.01" height="0.65" fill="#ebc998"/>
<rect x="603.62" y="153.55" width="17.01" height="0.65" fill="#e7ad88"/>
<rect x="620.58" y="153.55" width="17.01" height="0.65" fill="#cde1e7"/>
<rect x="637.54" y="153.55" width="17.01" height="0.65" fill="#bad4e1"/>
<rect x="451.00" y="154.15" width="17.01" height="0.65" fill="#ecd09d"/>
<rect x="467.96" y="154.15" width="17.01" height="0.65" fill="#eabc8e"/>
<rect x="484.92" y="154.15" width="17.01" height="0.65" fill="#e9b98d"/>
<rect x="501.88" y="154.15" width="17.01" height="0.65" fill="#ebc393"/>
<rect x="518.83" y="154.15" width="17.01" height="0.65" fill="#bed7e2"/>
<rect x="535.79" y="154.15" width="17.01" height="0.65" fill="#c1d9e2"/>
<rect x="552.75" y="154.15" width="17.01" height="0.65" fill="#87b0d1"/>
<rect x="569.71" y="154.15" width="17.01" height="0.65" fill="#d6e7e8"/>
<rect x="586.67" y="154.15" width="17.01" height="0.65" fill="#eddba8"/>
<rect x="603.62" y="154.15" width="17.01" height="0.65" fill="#ecd09c"/>
<rect x="620.58" y="154.15" width="17.01" height="0.65" fill="#b0cede"/>
<rect x="637.54" y="154.15" width="17.01" height="0.65" fill="#b3d0df"/>
<rect x="451.00" y="154.75" width="17.01" height="0.65" fill="#eac192"/>
<rect x="467.96" y="154.75" width="17.01" height="0.65" fill="#e5a385"/>
<rect x="484.92" y="154.75" width="17.01" height="0.65" fill="#e7aa87"/>
<rect x="501.88" y="154.75" width="17.01" height="0.65" fill="#e8b18a"/>
<rect x="518.83" y="154.75" width="17.01" height="0.65" fill="#d4e6e9"/>
<rect x="535.79" y="154.75" width="17.01" height="0.65" fill="#cbdfe6"/>
<rect x="552.75" y="154.75" width="17.01" height="0.65" fill="#b1cfde"/>
<rect x="569.71" y="154.75" width="17.01" height="0.65" fill="#deece6"/>
<rect x="586.67" y="154.75" width="17.01" height="0.65" fill="#eac192"/>
<rect x="603.62" y="154.75" width="17.01" height="0.65" fill="#eabc8e"/>
<rect x="620.58" y="154.75" width="17.01" height="0.65" fill="#c9dee5"/>
<rect x="637.54" y="154.75" width="17.01" height="0.65" fill="#c5dce4"/>
<rect x="451.00" y="155.36" width="17.01" height="0.65" fill="#ebc897"/>
<rect x="467.96" y="155.36" width="17.01" height="0.65" fill="#e9b68c"/>
<rect x="484.92" y="155.36" width="17.01" height="0.65" fill="#e7ac88"/>
<rect x="501.88" y="155.36" width="17.01" height="0.65" fill="#e7ab88"/>
<rect x="518.83" y="155.36" width="17.01" height="0.65" fill="#d0e3e8"/>
<rect x="535.79" y="155.36" width="17.01" height="0.65" fill="#c7dde5"/>
<rect x="552.75" y="155.36" width="17.01" height="0.65" fill="#bdd6e1"/>
<rect x="569.71" y="155.36" width="17.01" height="0.65" fill="#dbeae6"/>
<rect x="586.67" y="155.36" width="17.01" height="0.65" fill="#ecd19d"/>
<rect x="603.62" y="155.36" width="17.01" height="0.65" fill="#eabf90"/>
<rect x="620.58" y="155.36" width="17.01" height="0.65" fill="#c0d8e2"/>
<rect x="637.54" y="155.36" width="17.01" height="0.65" fill="#c8dee5"/>
<rect x="451.00" y="155.96" width="17.01" height="0.65" fill="#edebc1"/>
<rect x="467.96" y="155.96" width="17.01" height="0.65" fill="#ebc695"/>
<rect x="484.92" y="155.96" width="17.01" height="0.65" fill="#e9b78c"/>
<rect x="501.88" y="155.96" width="17.01" height="0.65" fill="#ebc796"/>
<rect x="518.83" y="155.96" width="17.01" height="0.65" fill="#bbd5e1"/>
<rect x="535.79" y="155.96" width="17.01" height="0.65" fill="#b8d3e0"/>
<rect x="552.75" y="155.96" width="17.01" height="0.65" fill="#aecddd"/>
<rect x="569.71" y="155.96" width="17.01" height="0.65" fill="#dcebe6"/>
<rect x="586.67" y="155.96" width="17.01" height="0.65" fill="#ecd5a1"/>
<rect x="603.62" y="155.96" width="17.01" height="0.65" fill="#ebc695"/>
<rect x="620.58" y="155.96" width="17.01" height="0.65" fill="#c3dae3"/>
<rect x="637.54" y="155.96" width="17.01" height="0.65" fill="#b7d3e0"/>
<rect x="451.00" y="156.56" width="17.01" height="0.65" fill="#e9b68c"/>
<rect x="467.96" y="156.56" width="17.01" height="0.65" fill="#e49f83"/>
<rect x="484.92" y="156.56" width="17.01" height="0.65" fill="#e5a184"/>
<rect x="501.88" y="156.56" width="17.01" height="0.65" fill="#e9b58b"/>
<rect x="518.83" y="156.56" width="17.01" height="0.65" fill="#cfe3e7"/>
<rect x="535.79" y="156.56" width="17.01" height="0.65" fill="#cfe3e7"/>
<rect x="552.75" y="156.56" width="17.01" height="0.65" fill="#b9d4e0"/>
<rect x="569.71" y="156.56" width="17.01" height="0.65" fill="#e7f0db"/>
<rect x="586.67" y="156.56" width="17.01" height="0.65" fill="#eabb8e"/>
<rect x="603.62" y="156.56" width="17.01" height="0.65" fill="#e8b28a"/>
<rect x="620.58" y="156.56" width="17.01" height="0.65" fill="#c7dde5"/>
<rect x="637.54" y="156.56" width="17.01" height="0.65" fill="#d5e7e9"/>
<rect x="451.00" y="157.16" width="17.01" height="0.65" fill="#eabb8d"/>
<rect x="467.96" y="157.16" width="17.01" height="0.65" fill="#e49a81"/>
<rect x="484.92" y="157.16" width="17.01" height="0.65" fill="#de6c5a"/>
<rect x="501.88" y="157.16" width="17.01" height="0.65" fill="#e6a585"/>
<rect x="518.83" y="157.16" width="17.01" height="0.65" fill="#d8e8e8"/>
<rect x="535.79" y="157.16" width="17.01" height="0.65" fill="#d5e6e9"/>
<rect x="552.75" y="157.16" width="17.01" height="0.65" fill="#c2dae3"/>
<rect x="569.71" y="157.16" width="17.01" height="0.65" fill="#dfece5"/>
<rect x="586.67" y="157.16" width="17.01" height="0.65" fill="#e9b48b"/>
<rect x="603.62" y="157.16" width="17.01" height="0.65" fill="#e7ad88"/>
<rect x="620.58" y="157.16" width="17.01" height="0.65" fill="#d3e5e9"/>
<rect x="637.54" y="157.16" width="17.01" height="0.65" fill="#cfe2e7"/>
<rect x="451.00" y="157.76" width="17.01" height="0.65" fill="#ebc494"/>
<rect x="467.96" y="157.76" width="17.01" height="0.65" fill="#e7ab88"/>
<rect x="484.92" y="157.76" width="17.01" height="0.65" fill="#e8b08a"/>
<rect x="501.88" y="157.76" width="17.01" height="0.65" fill="#e9b58b"/>
<rect x="518.83" y="157.76" width="17.01" height="0.65" fill="#cbe0e6"/>
<rect x="535.79" y="157.76" width="17.01" height="0.65" fill="#cce0e6"/>
<rect x="552.75" y="157.76" width="17.01" height="0.65" fill="#a9c9dc"/>
<rect x="569.71" y="157.76" width="17.01" height="0.65" fill="#dcebe6"/>
<rect x="586.67" y="157.76" width="17.01" height="0.65" fill="#ebc796"/>
<rect x="603.62" y="157.76" width="17.01" height="0.65" fill="#ebcb99"/>
<rect x="620.58" y="157.76" width="17.01" height="0.65" fill="#c3dae3"/>
<rect x="637.54" y="157.76" width="17.01" height="0.65" fill="#acccdd"/>
<rect x="451.00" y="158.37" width="17.01" height="0.65" fill="#eccf9c"/>
<rect x="467.96" y="158.37" width="17.01" height="0.65" fill="#e9b58c"/>
<rect x="484.92" y="158.37" width="17.01" height="0.65" fill="#eabd8f"/>
<rect x="501.88" y="158.37" width="17.01" height="0.65" fill="#eac192"/>
<rect x="518.83" y="158.37" width="17.01" height="0.65" fill="#c0d8e2"/>
<rect x="535.79" y="158.37" width="17.01" height="0.65" fill="#cee2e7"/>
<rect x="552.75" y="158.37" width="17.01" height="0.65" fill="#b3d0df"/>
<rect x="569.71" y="158.37" width="17.01" height="0.65" fill="#e0ede5"/>
<rect x="586.67" y="158.37" width="17.01" height="0.65" fill="#ecd7a3"/>
<rect x="603.62" y="158.37" width="17.01" height="0.65" fill="#ebcc99"/>
<rect x="620.58" y="158.37" width="17.01" height="0.65" fill="#abcbdc"/>
<rect x="637.54" y="158.37" width="17.01" height="0.65" fill="#c3dae3"/>
<rect x="451.00" y="158.97" width="17.01" height="0.65" fill="#ebca98"/>
<rect x="467.96" y="158.97" width="17.01" height="0.65" fill="#e5a184"/>
<rect x="484.92" y="158.97" width="17.01" height="0.65" fill="#e59f83"/>
<rect x="501.88" y="158.97" width="17.01" height="0.65" fill="#e9b58b"/>
<rect x="518.83" y="158.97" width="17.01" height="0.65" fill="#c7dde5"/>
<rect x="535.79" y="158.97" width="17.01" height="0.65" fill="#c7dde4"/>
<rect x="552.75" y="158.97" width="17.01" height="0.65" fill="#b9d4e0"/>
<rect x="569.71" y="158.97" width="17.01" height="0.65" fill="#ddebe6"/>
<rect x="586.67" y="158.97" width="17.01" height="0.65" fill="#eaba8d"/>
<rect x="603.62" y="158.97" width="17.01" height="0.65" fill="#e8b28a"/>
<rect x="620.58" y="158.97" width="17.01" height="0.65" fill="#cee2e7"/>
<rect x="637.54" y="158.97" width="17.01" height="0.65" fill="#cce1e6"/>
<rect x="451.00" y="159.57" width="17.01" height="0.65" fill="#e7ac88"/>
<rect x="467.96" y="159.57" width="17.01" height="0.65" fill="#e5a284"/>
<rect x="484.92" y="159.57" width="17.01" height="0.65" fill="#e59f83"/>
<rect x="501.88" y="159.57" width="17.01" height="0.65" fill="#e6a786"/>
<rect x="518.83" y="159.57" width="17.01" height="0.65" fill="#cfe3e7"/>
<rect x="535.79" y="159.57" width="17.01" height="0.65" fill="#d0e3e8"/>
<rect x="552.75" y="159.57" width="17.01" height="0.65" fill="#c4dbe3"/>
<rect x="569.71" y="159.57" width="17.01" height="0.65" fill="#e9f1d7"/>
<rect x="586.67" y="159.57" width="17.01" height="0.65" fill="#eabe8f"/>
<rect x="603.62" y="159.57" width="17.01" height="0.65" fill="#e9b58b"/>
<rect x="620.58" y="159.57" width="17.01" height="0.65" fill="#cee2e7"/>
<rect x="637.54" y="159.57" width="17.01" height="0.65" fill="#cadfe6"/>
<rect x="451.00" y="160.17" width="17.01" height="0.65" fill="#ecce9b"/>
<rect x="467.96" y="160.17" width="17.01" height="0.65" fill="#eaba8d"/>
<rect x="484.92" y="160.17" width="17.01" height="0.65" fill="#e8b28a"/>
<rect x="501.88" y="160.17" width="17.01" height="0.65" fill="#e9b88c"/>
<rect x="518.83" y="160.17" width="17.01" height="0.65" fill="#cadfe6"/>
<rect x="535.79" y="160.17" width="17.01" height="0.65" fill="#c2d9e3"/>
<rect x="552.75" y="160.17" width="17.01" height="0.65" fill="#afcede"/>
<rect x="569.71" y="160.17" width="17.01" height="0.65" fill="#d1e4e8"/>
<rect x="586.67" y="160.17" width="17.01" height="0.65" fill="#ecd29e"/>
<rect x="603.62" y="160.17" width="17.01" height="0.65" fill="#ebc595"/>
<rect x="620.58" y="160.17" width="17.01" height="0.65" fill="#b4d0df"/>
<rect x="637.54" y="160.17" width="17.01" height="0.65" fill="#c2d9e3"/>
<rect x="451.00" y="160.77" width="17.01" height="0.65" fill="#ecd19d"/>
<rect x="467.96" y="160.77" width="17.01" height="0.65" fill="#e8af89"/>
<rect x="484.92" y="160.77" width="17.01" height="0.65" fill="#e8b38a"/>
<rect x="501.88" y="160.77" width="17.01" height="0.65" fill="#e8b089"/>
<rect x="518.83" y="160.77" width="17.01" height="0.65" fill="#d1e4e8"/>
<rect x="535.79" y="160.77" width="17.01" height="0.65" fill="#c8dee5"/>
<rect x="552.75" y="160.77" width="17.01" height="0.65" fill="#adccdd"/>
<rect x="569.71" y="160.77" width="17.01" height="0.65" fill="#dfece5"/>
<rect x="586.67" y="160.77" width="17.01" height="0.65" fill="#ebc595"/>
<rect x="603.62" y="160.77" width="17.01" height="0.65" fill="#eaba8d"/>
<rect x="620.58" y="160.77" width="17.01" height="0.65" fill="#c8dde5"/>
<rect x="637.54" y="160.77" width="17.01" height="0.65" fill="#bed7e1"/>
<rect x="451.00" y="161.38" width="17.01" height="0.65" fill="#ede1ae"/>
<rect x="467.96" y="161.38" width="17.01" height="0.65" fill="#ebc897"/>
<rect x="484.92" y="161.38" width="17.01" height="0.65" fill="#eccd9a"/>
<rect x="501.88" y="161.38" width="17.01" height="0.65" fill="#ebc998"/>
<rect x="518.83" y="161.38" width="17.01" height="0.65" fill="#c1d9e2"/>
<rect x="535.79" y="161.38" width="17.01" height="0.65" fill="#c0d8e2"/>
<rect x="552.75" y="161.38" width="17.01" height="0.65" fill="#abcbdd"/>
<rect x="569.71" y="161.38" width="17.01" height="0.65" fill="#d7e8e8"/>
<rect x="586.67" y="161.38" width="17.01" height="0.65" fill="#ebca98"/>
<rect x="603.62" y="161.38" width="17.01" height="0.65" fill="#ecd6a3"/>
<rect x="620.58" y="161.38" width="17.01" height="0.65" fill="#c3dae3"/>
<rect x="637.54" y="161.38" width="17.01" height="0.65" fill="#b6d2df"/>
<rect x="451.00" y="161.98" width="17.01" height="0.65" fill="#ebcb99"/>
<rect x="467.96" y="161.98" width="17.01" height="0.65" fill="#e5a485"/>
<rect x="484.92" y="161.98" width="17.01" height="0.65" fill="#e59f83"/>
<rect x="501.88" y="161.98" width="17.01" height="0.65" fill="#e5a083"/>
<rect x="518.83" y="161.98" width="17.01" height="0.65" fill="#ddebe6"/>
<rect x="535.79" y="161.98" width="17.01" height="0.65" fill="#d0e3e8"/>
<rect x="552.75" y="161.98" width="17.01" height="0.65" fill="#c9dfe5"/>
<rect x="569.71" y="161.98" width="17.01" height="0.65" fill="#e8f1d9"/>
<rect x="586.67" y="161.98" width="17.01" height="0.65" fill="#e8b08a"/>
<rect x="603.62" y="161.98" width="17.01" height="0.65" fill="#e7ad89"/>
<rect x="620.58" y="161.98" width="17.01" height="0.65" fill="#cbe0e6"/>
<rect x="637.54" y="161.98" width="17.01" height="0.65" fill="#cce1e6"/>
<rect x="451.00" y="162.58" width="17.01" height="0.65" fill="#ecd09d"/>
<rect x="467.96" y="162.58" width="17.01" height="0.65" fill="#ebc695"/>
<rect x="484.92" y="162.58" width="17.01" height="0.65" fill="#eac091"/>
<rect x="501.88" y="162.58" width="17.01" height="0.65" fill="#e9b68c"/>
<rect x="518.83" y="162.58" width="17.01" height="0.65" fill="#c5dbe4"/>
<rect x="535.79" y="162.58" width="17.01" height="0.65" fill="#c1d9e2"/>
<rect x="552.75" y="162.58" width="17.01" height="0.65" fill="#b7d2e0"/>
<rect x="569.71" y="162.58" width="17.01" height="0.65" fill="#dae9e7"/>
<rect x="586.67" y="162.58" width="17.01" height="0.65" fill="#eddca9"/>
<rect x="603.62" y="162.58" width="17.01" height="0.65" fill="#ecce9b"/>
<rect x="620.58" y="162.58" width="17.01" height="0.65" fill="#c2d9e3"/>
<rect x="637.54" y="162.58" width="17.01" height="0.65" fill="#c0d8e2"/>
<rect x="451.00" y="163.18" width="17.01" height="0.65" fill="#ebc897"/>
<rect x="467.96" y="163.18" width="17.01" height="0.65" fill="#e7ae89"/>
<rect x="484.92" y="163.18" width="17.01" height="0.65" fill="#eabe8f"/>
<rect x="501.88" y="163.18" width="17.01" height="0.65" fill="#eabf90"/>
<rect x="518.83" y="163.18" width="17.01" height="0.65" fill="#c5dce4"/>
<rect x="535.79" y="163.18" width="17.01" height="0.65" fill="#cbe0e6"/>
<rect x="552.75" y="163.18" width="17.01" height="0.65" fill="#a3c6da"/>
<rect x="569.71" y="163.18" width="17.01" height="0.65" fill="#deece5"/>
<rect x="586.67" y="163.18" width="17.01" height="0.65" fill="#ecd5a1"/>
<rect x="603.62" y="163.18" width="17.01" height="0.65" fill="#ecd09d"/>
<rect x="620.58" y="163.18" width="17.01" height="0.65" fill="#c5dbe4"/>
<rect x="637.54" y="163.18" width="17.01" height="0.65" fill="#c6dce4"/>
<rect x="451.00" y="163.78" width="17.01" height="0.65" fill="#ecce9b"/>
<rect x="467.96" y="163.78" width="17.01" height="0.65" fill="#e6a987"/>
<rect x="484.92" y="163.78" width="17.01" height="0.65" fill="#e8b38b"/>
<rect x="501.88" y="163.78" width="17.01" height="0.65" fill="#e8b38b"/>
<rect x="518.83" y="163.78" width="17.01" height="0.65" fill="#d5e7e9"/>
<rect x="535.79" y="163.78" width="17.01" height="0.65" fill="#cee2e7"/>
<rect x="552.75" y="163.78" width="17.01" height="0.65" fill="#afcdde"/>
<rect x="569.71" y="163.78" width="17.01" height="0.65" fill="#ebf1d4"/>
<rect x="586.67" y="163.78" width="17.01" height="0.65" fill="#ebc796"/>
<rect x="603.62" y="163.78" width="17.01" height="0.65" fill="#eabc8e"/>
<rect x="620.58" y="163.78" width="17.01" height="0.65" fill="#c1d9e2"/>
<rect x="637.54" y="163.78" width="17.01" height="0.65" fill="#c2dae3"/>
<rect x="451.00" y="164.38" width="17.01" height="0.65" fill="#ecd6a2"/>
<rect x="467.96" y="164.38" width="17.01" height="0.65" fill="#eabf90"/>
<rect x="484.92" y="164.38" width="17.01" height="0.65" fill="#ecd39f"/>
<rect x="501.88" y="164.38" width="17.01" height="0.65" fill="#edd9a5"/>
<rect x="518.83" y="164.38" width="17.01" height="0.65" fill="#b0cede"/>
<rect x="535.79" y="164.38" width="17.01" height="0.65" fill="#c4dbe3"/>
<rect x="552.75" y="164.38" width="17.01" height="0.65" fill="#9ac0d8"/>
<rect x="569.71" y="164.38" width="17.01" height="0.65" fill="#d7e8e8"/>
<rect x="586.67" y="164.38" width="17.01" height="0.65" fill="#eee3b1"/>
<rect x="603.62" y="164.38" width="17.01" height="0.65" fill="#eddba8"/>
<rect x="620.58" y="164.38" width="17.01" height="0.65" fill="#a7c8db"/>
<rect x="637.54" y="164.38" width="17.01" height="0.65" fill="#b0cede"/>
<rect x="451.00" y="164.99" width="17.01" height="0.65" fill="#ede0ad"/>
<rect x="467.96" y="164.99" width="17.01" height="0.65" fill="#ebc292"/>
<rect x="484.92" y="164.99" width="17.01" height="0.65" fill="#ebc494"/>
<rect x="501.88" y="164.99" width="17.01" height="0.65" fill="#ebcb99"/>
<rect x="518.83" y="164.99" width="17.01" height="0.65" fill="#bdd6e1"/>
<rect x="535.79" y="164.99" width="17.01" height="0.65" fill="#c0d8e2"/>
<rect x="552.75" y="164.99" width="17.01" height="0.65" fill="#9dc3d9"/>
<rect x="569.71" y="164.99" width="17.01" height="0.65" fill="#dfece5"/>
<rect x="586.67" y="164.99" width="17.01" height="0.65" fill="#ecd6a2"/>
<rect x="603.62" y="164.99" width="17.01" height="0.65" fill="#ecd6a2"/>
<rect x="620.58" y="164.99" width="17.01" height="0.65" fill="#b2d0de"/>
<rect x="637.54" y="164.99" width="17.01" height="0.65" fill="#aacbdc"/>
<rect x="451.00" y="165.59" width="17.01" height="0.65" fill="#eddaa7"/>
<rect x="467.96" y="165.59" width="17.01" height="0.65" fill="#eabb8e"/>
<rect x="484.92" y="165.59" width="17.01" height="0.65" fill="#eabd8f"/>
<rect x="501.88" y="165.59" width="17.01" height="0.65" fill="#eabf90"/>
<rect x="518.83" y="165.59" width="17.01" height="0.65" fill="#d3e6e9"/>
<rect x="535.79" y="165.59" width="17.01" height="0.65" fill="#bbd5e1"/>
<rect x="552.75" y="165.59" width="17.01" height="0.65" fill="#aacadc"/>
<rect x="569.71" y="165.59" width="17.01" height="0.65" fill="#e8f0d9"/>
<rect x="586.67" y="165.59" width="17.01" height="0.65" fill="#eee3b0"/>
<rect x="603.62" y="165.59" width="17.01" height="0.65" fill="#ecd19e"/>
<rect x="620.58" y="165.59" width="17.01" height="0.65" fill="#c0d8e2"/>
<rect x="637.54" y="165.59" width="17.01" height="0.65" fill="#bbd5e1"/>
<rect x="451.00" y="166.19" width="17.01" height="0.65" fill="#ebc695"/>
<rect x="467.96" y="166.19" width="17.01" height="0.65" fill="#e6a686"/>
<rect x="484.92" y="166.19" width="17.01" height="0.65" fill="#e7ac88"/>
<rect x="501.88" y="166.19" width="17.01" height="0.65" fill="#e7a987"/>
<rect x="518.83" y="166.19" width="17.01" height="0.65" fill="#c4dbe3"/>
<rect x="535.79" y="166.19" width="17.01" height="0.65" fill="#c5dbe4"/>
<rect x="552.75" y="166.19" width="17.01" height="0.65" fill="#bbd5e1"/>
<rect x="569.71" y="166.19" width="17.01" height="0.65" fill="#dcebe6"/>
<rect x="586.67" y="166.19" width="17.01" height="0.65" fill="#ebc997"/>
<rect x="603.62" y="166.19" width="17.01" height="0.65" fill="#e9b78c"/>
<rect x="620.58" y="166.19" width="17.01" height="0.65" fill="#c4dae3"/>
<rect x="637.54" y="166.19" width="17.01" height="0.65" fill="#c9dee5"/>
<rect x="451.00" y="166.79" width="17.01" height="0.65" fill="#eabe8f"/>
<rect x="467.96" y="166.79" width="17.01" height="0.65" fill="#e5a083"/>
<rect x="484.92" y="166.79" width="17.01" height="0.65" fill="#e6a886"/>
<rect x="501.88" y="166.79" width="17.01" height="0.65" fill="#e9b58b"/>
<rect x="518.83" y="166.79" width="17.01" height="0.65" fill="#d1e4e8"/>
<rect x="535.79" y="166.79" width="17.01" height="0.65" fill="#cfe2e7"/>
<rect x="552.75" y="166.79" width="17.01" height="0.65" fill="#b8d3e0"/>
<rect x="569.71" y="166.79" width="17.01" height="0.65" fill="#e1eee4"/>
<rect x="586.67" y="166.79" width="17.01" height="0.65" fill="#e9b88c"/>
<rect x="603.62" y="166.79" width="17.01" height="0.65" fill="#eabd8f"/>
<rect x="620.58" y="166.79" width="17.01" height="0.65" fill="#cde1e7"/>
<rect x="637.54" y="166.79" width="17.01" height="0.65" fill="#d2e5e8"/>
<rect x="451.00" y="167.39" width="17.01" height="0.65" fill="#ecd09d"/>
<rect x="467.96" y="167.39" width="17.01" height="0.65" fill="#e9b98d"/>
<rect x="484.92" y="167.39" width="17.01" height="0.65" fill="#e8af89"/>
<rect x="501.88" y="167.39" width="17.01" height="0.65" fill="#eabc8e"/>
<rect x="518.83" y="167.39" width="17.01" height="0.65" fill="#cfe2e7"/>
<rect x="535.79" y="167.39" width="17.01" height="0.65" fill="#c0d8e2"/>
<rect x="552.75" y="167.39" width="17.01" height="0.65" fill="#aecddd"/>
<rect x="569.71" y="167.39" width="17.01" height="0.65" fill="#dcebe6"/>
<rect x="586.67" y="167.39" width="17.01" height="0.65" fill="#eddca9"/>
<rect x="603.62" y="167.39" width="17.01" height="0.65" fill="#eabf90"/>
<rect x="620.58" y="167.39" width="17.01" height="0.65" fill="#c7dde4"/>
<rect x="637.54" y="167.39" width="17.01" height="0.65" fill="#a8c9dc"/>
<rect x="451.00" y="168.00" width="17.01" height="0.65" fill="#eac191"/>
<rect x="467.96" y="168.00" width="17.01" height="0.65" fill="#e5a084"/>
<rect x="484.92" y="168.00" width="17.01" height="0.65" fill="#e6a485"/>
<rect x="501.88" y="168.00" width="17.01" height="0.65" fill="#e9b68c"/>
<rect x="518.83" y="168.00" width="17.01" height="0.65" fill="#d0e3e7"/>
<rect x="535.79" y="168.00" width="17.01" height="0.65" fill="#d5e6e9"/>
<rect x="552.75" y="168.00" width="17.01" height="0.65" fill="#b8d3e0"/>
<rect x="569.71" y="168.00" width="17.01" height="0.65" fill="#ddebe6"/>
<rect x="586.67" y="168.00" width="17.01" height="0.65" fill="#ebc695"/>
<rect x="603.62" y="168.00" width="17.01" height="0.65" fill="#eac091"/>
<rect x="620.58" y="168.00" width="17.01" height="0.65" fill="#cbe0e6"/>
<rect x="637.54" y="168.00" width="17.01" height="0.65" fill="#d1e4e8"/>
<rect x="451.00" y="168.60" width="17.01" height="0.65" fill="#ebc293"/>
<rect x="467.96" y="168.60" width="17.01" height="0.65" fill="#e28f77"/>
<rect x="484.92" y="168.60" width="17.01" height="0.65" fill="#e8b089"/>
<rect x="501.88" y="168.60" width="17.01" height="0.65" fill="#e9b48b"/>
<rect x="518.83" y="168.60" width="17.01" height="0.65" fill="#d2e5e8"/>
<rect x="535.79" y="168.60" width="17.01" height="0.65" fill="#cde1e7"/>
<rect x="552.75" y="168.60" width="17.01" height="0.65" fill="#aecddd"/>
<rect x="569.71" y="168.60" width="17.01" height="0.65" fill="#dbeae6"/>
<rect x="586.67" y="168.60" width="17.01" height="0.65" fill="#eabf90"/>
<rect x="603.62" y="168.60" width="17.01" height="0.65" fill="#eaba8d"/>
<rect x="620.58" y="168.60" width="17.01" height="0.65" fill="#bfd8e2"/>
<rect x="637.54" y="168.60" width="17.01" height="0.65" fill="#c4dbe3"/>
<rect x="451.00" y="169.20" width="17.01" height="0.64" fill="#ebcb99"/>
<rect x="467.96" y="169.20" width="17.01" height="0.64" fill="#e9b58b"/>
<rect x="484.92" y="169.20" width="17.01" height="0.64" fill="#eabb8e"/>
<rect x="501.88" y="169.20" width="17.01" height="0.64" fill="#eabd8f"/>
<rect x="518.83" y="169.20" width="17.01" height="0.64" fill="#d0e3e7"/>
<rect x="535.79" y="169.20" width="17.01" height="0.64" fill="#cde1e6"/>
<rect x="552.75" y="169.20" width="17.01" height="0.64" fill="#afcede"/>
<rect x="569.71" y="169.20" width="17.01" height="0.64" fill="#c4dbe4"/>
<rect x="586.67" y="169.20" width="17.01" height="0.64" fill="#e8f1d8"/>
<rect x="603.62" y="169.20" width="17.01" height="0.64" fill="#edefca"/>
<rect x="620.58" y="169.20" width="17.01" height="0.64" fill="#edeec7"/>
<rect x="637.54" y="169.20" width="17.01" height="0.64" fill="#edecc3"/>
<rect x="451.00" y="169.79" width="17.01" height="0.64" fill="#eccd9a"/>
<rect x="467.96" y="169.79" width="17.01" height="0.64" fill="#e8b08a"/>
<rect x="484.92" y="169.79" width="17.01" height="0.64" fill="#ebc393"/>
<rect x="501.88" y="169.79" width="17.01" height="0.64" fill="#e9b88d"/>
<rect x="518.83" y="169.79" width="17.01" height="0.64" fill="#c6dce4"/>
<rect x="535.79" y="169.79" width="17.01" height="0.64" fill="#c7dde5"/>
<rect x="552.75" y="169.79" width="17.01" height="0.64" fill="#a8c9dc"/>
<rect x="569.71" y="169.79" width="17.01" height="0.64" fill="#a8c9dc"/>
<rect x="586.67" y="169.79" width="17.01" height="0.64" fill="#ecefcc"/>
<rect x="603.62" y="169.79" width="17.01" height="0.64" fill="#edecc4"/>
<rect x="620.58" y="169.79" width="17.01" height="0.64" fill="#ecf2d3"/>
<rect x="637.54" y="169.79" width="17.01" height="0.64" fill="#ededc7"/>
<rect x="451.00" y="170.38" width="17.01" height="0.64" fill="#eccf9c"/>
<rect x="467.96" y="170.38" width="17.01" height="0.64" fill="#e7ad88"/>
<rect x="484.92" y="170.38" width="17.01" height="0.64" fill="#ebc292"/>
<rect x="501.88" y="170.38" width="17.01" height="0.64" fill="#eabc8e"/>
<rect x="518.83" y="170.38" width="17.01" height="0.64" fill="#cbe0e6"/>
<rect x="535.79" y="170.38" width="17.01" height="0.64" fill="#cbe0e6"/>
<rect x="552.75" y="170.38" width="17.01" height="0.64" fill="#b5d1df"/>
<rect x="569.71" y="170.38" width="17.01" height="0.64" fill="#c3dae3"/>
<rect x="586.67" y="170.38" width="17.01" height="0.64" fill="#ecf2d1"/>
<rect x="603.62" y="170.38" width="17.01" height="0.64" fill="#edebc1"/>
<rect x="620.58" y="170.38" width="17.01" height="0.64" fill="#eee7b6"/>
<rect x="637.54" y="170.38" width="17.01" height="0.64" fill="#eaf1d6"/>
<rect x="451.00" y="170.97" width="17.01" height="0.64" fill="#e7a987"/>
<rect x="467.96" y="170.97" width="17.01" height="0.64" fill="#dc6150"/>
<rect x="484.92" y="170.97" width="17.01" height="0.64" fill="#de705d"/>
<rect x="501.88" y="170.97" width="17.01" height="0.64" fill="#dc5d4d"/>
<rect x="518.83" y="170.97" width="17.01" height="0.64" fill="#d3e5e9"/>
<rect x="535.79" y="170.97" width="17.01" height="0.64" fill="#c9dee5"/>
<rect x="552.75" y="170.97" width="17.01" height="0.64" fill="#cfe3e7"/>
<rect x="569.71" y="170.97" width="17.01" height="0.64" fill="#d5e7e9"/>
<rect x="586.67" y="170.97" width="17.01" height="0.64" fill="#ebc796"/>
<rect x="603.62" y="170.97" width="17.01" height="0.64" fill="#e9b78c"/>
<rect x="620.58" y="170.97" width="17.01" height="0.64" fill="#ebca98"/>
<rect x="637.54" y="170.97" width="17.01" height="0.64" fill="#eccd9a"/>
<rect x="451.00" y="171.56" width="17.01" height="0.64" fill="#e9b88c"/>
<rect x="467.96" y="171.56" width="17.01" height="0.64" fill="#e07c67"/>
<rect x="484.92" y="171.56" width="17.01" height="0.64" fill="#e7ae89"/>
<rect x="501.88" y="171.56" width="17.01" height="0.64" fill="#e6a786"/>
<rect x="518.83" y="171.56" width="17.01" height="0.64" fill="#bbd5e1"/>
<rect x="535.79" y="171.56" width="17.01" height="0.64" fill="#d2e5e8"/>
<rect x="552.75" y="171.56" width="17.01" height="0.64" fill="#c1d9e2"/>
<rect x="569.71" y="171.56" width="17.01" height="0.64" fill="#cee2e7"/>
<rect x="586.67" y="171.56" width="17.01" height="0.64" fill="#ecd09d"/>
<rect x="603.62" y="171.56" width="17.01" height="0.64" fill="#eddeab"/>
<rect x="620.58" y="171.56" width="17.01" height="0.64" fill="#eee3b1"/>
<rect x="637.54" y="171.56" width="17.01" height="0.64" fill="#eee7b8"/>
<rect x="451.00" y="172.14" width="17.01" height="0.64" fill="#edd7a4"/>
<rect x="467.96" y="172.14" width="17.01" height="0.64" fill="#e8b48b"/>
<rect x="484.92" y="172.14" width="17.01" height="0.64" fill="#eabf90"/>
<rect x="501.88" y="172.14" width="17.01" height="0.64" fill="#eabe90"/>
<rect x="518.83" y="172.14" width="17.01" height="0.64" fill="#c6dde4"/>
<rect x="535.79" y="172.14" width="17.01" height="0.64" fill="#c8dee5"/>
<rect x="552.75" y="172.14" width="17.01" height="0.64" fill="#b6d2df"/>
<rect x="569.71" y="172.14" width="17.01" height="0.64" fill="#b9d4e0"/>
<rect x="586.67" y="172.14" width="17.01" height="0.64" fill="#ecf1cf"/>
<rect x="603.62" y="172.14" width="17.01" height="0.64" fill="#ebf2d4"/>
<rect x="620.58" y="172.14" width="17.01" height="0.64" fill="#e3eee3"/>
<rect x="637.54" y="172.14" width="17.01" height="0.64" fill="#ecefcb"/>
<rect x="451.00" y="172.73" width="17.01" height="0.64" fill="#ebc796"/>
<rect x="467.96" y="172.73" width="17.01" height="0.64" fill="#e49d82"/>
<rect x="484.92" y="172.73" width="17.01" height="0.64" fill="#e6a987"/>
<rect x="501.88" y="172.73" width="17.01" height="0.64" fill="#e9b78c"/>
<rect x="518.83" y="172.73" width="17.01" height="0.64" fill="#d7e8e8"/>
<rect x="535.79" y="172.73" width="17.01" height="0.64" fill="#cce1e6"/>
<rect x="552.75" y="172.73" width="17.01" height="0.64" fill="#c6dce4"/>
<rect x="569.71" y="172.73" width="17.01" height="0.64" fill="#c6dde4"/>
<rect x="586.67" y="172.73" width="17.01" height="0.64" fill="#eee8ba"/>
<rect x="603.62" y="172.73" width="17.01" height="0.64" fill="#ededc5"/>
<rect x="620.58" y="172.73" width="17.01" height="0.64" fill="#ede1ae"/>
<rect x="637.54" y="172.73" width="17.01" height="0.64" fill="#ede9bc"/>
<rect x="451.00" y="173.32" width="17.01" height="0.64" fill="#ebc897"/>
<rect x="467.96" y="173.32" width="17.01" height="0.64" fill="#e8b089"/>
<rect x="484.92" y="173.32" width="17.01" height="0.64" fill="#e8b28a"/>
<rect x="501.88" y="173.32" width="17.01" height="0.64" fill="#eaba8d"/>
<rect x="518.83" y="173.32" width="17.01" height="0.64" fill="#cbdfe6"/>
<rect x="535.79" y="173.32" width="17.01" height="0.64" fill="#b1cfde"/>
<rect x="552.75" y="173.32" width="17.01" height="0.64" fill="#b2cfde"/>
<rect x="569.71" y="173.32" width="17.01" height="0.64" fill="#c5dbe4"/>
<rect x="586.67" y="173.32" width="17.01" height="0.64" fill="#eee8ba"/>
<rect x="603.62" y="173.32" width="17.01" height="0.64" fill="#edeec9"/>
<rect x="620.58" y="173.32" width="17.01" height="0.64" fill="#ecefcb"/>
<rect x="637.54" y="173.32" width="17.01" height="0.64" fill="#ede9bc"/>
<rect x="451.00" y="173.91" width="17.01" height="0.64" fill="#ebc696"/>
<rect x="467.96" y="173.91" width="17.01" height="0.64" fill="#e6a485"/>
<rect x="484.92" y="173.91" width="17.01" height="0.64" fill="#e9b78c"/>
<rect x="501.88" y="173.91" width="17.01" height="0.64" fill="#e7ae89"/>
<rect x="518.83" y="173.91" width="17.01" height="0.64" fill="#c6dce4"/>
<rect x="535.79" y="173.91" width="17.01" height="0.64" fill="#c7dde4"/>
<rect x="552.75" y="173.91" width="17.01" height="0.64" fill="#b6d2df"/>
<rect x="569.71" y="173.91" width="17.01" height="0.64" fill="#c1d9e2"/>
<rect x="586.67" y="173.91" width="17.01" height="0.64" fill="#edeabd"/>
<rect x="603.62" y="173.91" width="17.01" height="0.64" fill="#eddfac"/>
<rect x="620.58" y="173.91" width="17.01" height="0.64" fill="#ecf2d3"/>
<rect x="637.54" y="173.91" width="17.01" height="0.64" fill="#eaf1d6"/>
<rect x="451.00" y="174.50" width="17.01" height="0.64" fill="#ebc796"/>
<rect x="467.96" y="174.50" width="17.01" height="0.64" fill="#e5a184"/>
<rect x="484.92" y="174.50" width="17.01" height="0.64" fill="#e6a686"/>
<rect x="501.88" y="174.50" width="17.01" height="0.64" fill="#e7ad88"/>
<rect x="518.83" y="174.50" width="17.01" height="0.64" fill="#d3e5e9"/>
<rect x="535.79" y="174.50" width="17.01" height="0.64" fill="#c1d9e2"/>
<rect x="552.75" y="174.50" width="17.01" height="0.64" fill="#c5dce4"/>
<rect x="569.71" y="174.50" width="17.01" height="0.64" fill="#b8d3e0"/>
<rect x="586.67" y="174.50" width="17.01" height="0.64" fill="#edebbf"/>
<rect x="603.62" y="174.50" width="17.01" height="0.64" fill="#eee8b9"/>
<rect x="620.58" y="174.50" width="17.01" height="0.64" fill="#ede9bc"/>
<rect x="637.54" y="174.50" width="17.01" height="0.64" fill="#eee5b2"/>
<rect x="451.00" y="175.09" width="17.01" height="0.64" fill="#ebc997"/>
<rect x="467.96" y="175.09" width="17.01" height="0.64" fill="#e6a786"/>
<rect x="484.92" y="175.09" width="17.01" height="0.64" fill="#e6a585"/>
<rect x="501.88" y="175.09" width="17.01" height="0.64" fill="#e8b18a"/>
<rect x="518.83" y="175.09" width="17.01" height="0.64" fill="#cfe3e7"/>
<rect x="535.79" y="175.09" width="17.01" height="0.64" fill="#cfe3e7"/>
<rect x="552.75" y="175.09" width="17.01" height="0.64" fill="#bfd7e2"/>
<rect x="569.71" y="175.09" width="17.01" height="0.64" fill="#b6d2df"/>
<rect x="586.67" y="175.09" width="17.01" height="0.64" fill="#eddba8"/>
<rect x="603.62" y="175.09" width="17.01" height="0.64" fill="#eddaa6"/>
<rect x="620.58" y="175.09" width="17.01" height="0.64" fill="#e9f1d8"/>
<rect x="637.54" y="175.09" width="17.01" height="0.64" fill="#ededc7"/>
<rect x="451.00" y="175.68" width="17.01" height="0.64" fill="#eabb8e"/>
<rect x="467.96" y="175.68" width="17.01" height="0.64" fill="#e5a084"/>
<rect x="484.92" y="175.68" width="17.01" height="0.64" fill="#e7ae89"/>
<rect x="501.88" y="175.68" width="17.01" height="0.64" fill="#e9b48b"/>
<rect x="518.83" y="175.68" width="17.01" height="0.64" fill="#d0e3e7"/>
<rect x="535.79" y="175.68" width="17.01" height="0.64" fill="#d0e3e8"/>
<rect x="552.75" y="175.68" width="17.01" height="0.64" fill="#b2d0de"/>
<rect x="569.71" y="175.68" width="17.01" height="0.64" fill="#bed6e1"/>
<rect x="586.67" y="175.68" width="17.01" height="0.64" fill="#eee8b9"/>
<rect x="603.62" y="175.68" width="17.01" height="0.64" fill="#ecefcb"/>
<rect x="620.58" y="175.68" width="17.01" height="0.64" fill="#ede9bc"/>
<rect x="637.54" y="175.68" width="17.01" height="0.64" fill="#edecc3"/>
<rect x="451.00" y="176.27" width="17.01" height="0.64" fill="#ebc695"/>
<rect x="467.96" y="176.27" width="17.01" height="0.64" fill="#e7ac88"/>
<rect x="484.92" y="176.27" width="17.01" height="0.64" fill="#e7af89"/>
<rect x="501.88" y="176.27" width="17.01" height="0.64" fill="#e7ac88"/>
<rect x="518.83" y="176.27" width="17.01" height="0.64" fill="#cbe0e6"/>
<rect x="535.79" y="176.27" width="17.01" height="0.64" fill="#cadfe6"/>
<rect x="552.75" y="176.27" width="17.01" height="0.64" fill="#c5dbe4"/>
<rect x="569.71" y="176.27" width="17.01" height="0.64" fill="#cce1e6"/>
<rect x="586.67" y="176.27" width="17.01" height="0.64" fill="#eddba8"/>
<rect x="603.62" y="176.27" width="17.01" height="0.64" fill="#ede9bd"/>
<rect x="620.58" y="176.27" width="17.01" height="0.64" fill="#edeabd"/>
<rect x="637.54" y="176.27" width="17.01" height="0.64" fill="#e8f0da"/>
<rect x="451.00" y="176.86" width="17.01" height="0.64" fill="#e8b18a"/>
<rect x="467.96" y="176.86" width="17.01" height="0.64" fill="#df7763"/>
<rect x="484.92" y="176.86" width="17.01" height="0.64" fill="#e07d68"/>
<rect x="501.88" y="176.86" width="17.01" height="0.64" fill="#e5a083"/>
<rect x="518.83" y="176.86" width="17.01" height="0.64" fill="#d9e9e7"/>
<rect x="535.79" y="176.86" width="17.01" height="0.64" fill="#d3e5e9"/>
<rect x="552.75" y="176.86" width="17.01" height="0.64" fill="#bcd5e1"/>
<rect x="569.71" y="176.86" width="17.01" height="0.64" fill="#d0e3e7"/>
<rect x="586.67" y="176.86" width="17.01" height="0.64" fill="#ebca98"/>
<rect x="603.62" y="176.86" width="17.01" height="0.64" fill="#edddaa"/>
<rect x="620.58" y="176.86" width="17.01" height="0.64" fill="#ebcc9a"/>
<rect x="637.54" y="176.86" width="17.01" height="0.64" fill="#ecd39f"/>
<rect x="451.00" y="177.44" width="17.01" height="0.64" fill="#eabe8f"/>
<rect x="467.96" y="177.44" width="17.01" height="0.64" fill="#e4987f"/>
<rect x="484.92" y="177.44" width="17.01" height="0.64" fill="#e7ad88"/>
<rect x="501.88" y="177.44" width="17.01" height="0.64" fill="#e6a485"/>
<rect x="518.83" y="177.44" width="17.01" height="0.64" fill="#cde1e7"/>
<rect x="535.79" y="177.44" width="17.01" height="0.64" fill="#cfe2e7"/>
<rect x="552.75" y="177.44" width="17.01" height="0.64" fill="#b6d2e0"/>
<rect x="569.71" y="177.44" width="17.01" height="0.64" fill="#c5dbe4"/>
<rect x="586.67" y="177.44" width="17.01" height="0.64" fill="#eddba7"/>
<rect x="603.62" y="177.44" width="17.01" height="0.64" fill="#eee2af"/>
<rect x="620.58" y="177.44" width="17.01" height="0.64" fill="#eee8ba"/>
<rect x="637.54" y="177.44" width="17.01" height="0.64" fill="#edefca"/>
<rect x="451.00" y="178.03" width="17.01" height="0.64" fill="#ecd09d"/>
<rect x="467.96" y="178.03" width="17.01" height="0.64" fill="#e8b18a"/>
<rect x="484.92" y="178.03" width="17.01" height="0.64" fill="#eabb8e"/>
<rect x="501.88" y="178.03" width="17.01" height="0.64" fill="#eabb8d"/>
<rect x="518.83" y="178.03" width="17.01" height="0.64" fill="#c8dde5"/>
<rect x="535.79" y="178.03" width="17.01" height="0.64" fill="#cbe0e6"/>
<rect x="552.75" y="178.03" width="17.01" height="0.64" fill="#acccdd"/>
<rect x="569.71" y="178.03" width="17.01" height="0.64" fill="#b4d1df"/>
<rect x="586.67" y="178.03" width="17.01" height="0.64" fill="#ecefcb"/>
<rect x="603.62" y="178.03" width="17.01" height="0.64" fill="#ecf1d0"/>
<rect x="620.58" y="178.03" width="17.01" height="0.64" fill="#e8f1d9"/>
<rect x="637.54" y="178.03" width="17.01" height="0.64" fill="#e4efe0"/>
<rect x="451.00" y="178.62" width="17.01" height="0.64" fill="#ebc695"/>
<rect x="467.96" y="178.62" width="17.01" height="0.64" fill="#e7ad88"/>
<rect x="484.92" y="178.62" width="17.01" height="0.64" fill="#eabf90"/>
<rect x="501.88" y="178.62" width="17.01" height="0.64" fill="#e8b38b"/>
<rect x="518.83" y="178.62" width="17.01" height="0.64" fill="#cce0e6"/>
<rect x="535.79" y="178.62" width="17.01" height="0.64" fill="#c0d8e2"/>
<rect x="552.75" y="178.62" width="17.01" height="0.64" fill="#c1d8e2"/>
<rect x="569.71" y="178.62" width="17.01" height="0.64" fill="#bed7e2"/>
<rect x="586.67" y="178.62" width="17.01" height="0.64" fill="#ecf0cd"/>
<rect x="603.62" y="178.62" width="17.01" height="0.64" fill="#eee9bb"/>
<rect x="620.58" y="178.62" width="17.01" height="0.64" fill="#eee8b9"/>
<rect x="637.54" y="178.62" width="17.01" height="0.64" fill="#eaf1d6"/>
<rect x="451.00" y="179.21" width="17.01" height="0.64" fill="#ebc796"/>
<rect x="467.96" y="179.21" width="17.01" height="0.64" fill="#e1846d"/>
<rect x="484.92" y="179.21" width="17.01" height="0.64" fill="#e8af89"/>
<rect x="501.88" y="179.21" width="17.01" height="0.64" fill="#e5a284"/>
<rect x="518.83" y="179.21" width="17.01" height="0.64" fill="#cbe0e6"/>
<rect x="535.79" y="179.21" width="17.01" height="0.64" fill="#cfe2e7"/>
<rect x="552.75" y="179.21" width="17.01" height="0.64" fill="#cde1e7"/>
<rect x="569.71" y="179.21" width="17.01" height="0.64" fill="#abcbdc"/>
<rect x="586.67" y="179.21" width="17.01" height="0.64" fill="#edeabe"/>
<rect x="603.62" y="179.21" width="17.01" height="0.64" fill="#eee2af"/>
<rect x="620.58" y="179.21" width="17.01" height="0.64" fill="#eee8ba"/>
<rect x="637.54" y="179.21" width="17.01" height="0.64" fill="#ededc6"/>
<rect x="451.00" y="179.80" width="17.01" height="0.65" fill="#dae9e7"/>
<rect x="467.96" y="179.80" width="17.01" height="0.65" fill="#cde1e7"/>
<rect x="484.92" y="179.80" width="17.01" height="0.65" fill="#dbeae6"/>
<rect x="501.88" y="179.80" width="17.01" height="0.65" fill="#cfe3e7"/>
<rect x="518.83" y="179.80" width="17.01" height="0.65" fill="#e18972"/>
<rect x="535.79" y="179.80" width="17.01" height="0.65" fill="#e3937b"/>
<rect x="552.75" y="179.80" width="17.01" height="0.65" fill="#e5a385"/>
<rect x="569.71" y="179.80" width="17.01" height="0.65" fill="#eac191"/>
<rect x="586.67" y="179.80" width="17.01" height="0.65" fill="#dae9e7"/>
<rect x="603.62" y="179.80" width="17.01" height="0.65" fill="#d1e4e8"/>
<rect x="620.58" y="179.80" width="17.01" height="0.65" fill="#e29078"/>
<rect x="637.54" y="179.80" width="17.01" height="0.65" fill="#d84034"/>
<rect x="451.00" y="180.40" width="17.01" height="0.65" fill="#cfe2e7"/>
<rect x="467.96" y="180.40" width="17.01" height="0.65" fill="#d4e6e9"/>
<rect x="484.92" y="180.40" width="17.01" height="0.65" fill="#d4e6e9"/>
<rect x="501.88" y="180.40" width="17.01" height="0.65" fill="#d5e6e9"/>
<rect x="518.83" y="180.40" width="17.01" height="0.65" fill="#ebc494"/>
<rect x="535.79" y="180.40" width="17.01" height="0.65" fill="#e7ad88"/>
<rect x="552.75" y="180.40" width="17.01" height="0.65" fill="#e8b38b"/>
<rect x="569.71" y="180.40" width="17.01" height="0.65" fill="#edd8a4"/>
<rect x="586.67" y="180.40" width="17.01" height="0.65" fill="#d7e8e8"/>
<rect x="603.62" y="180.40" width="17.01" height="0.65" fill="#c2dae3"/>
<rect x="620.58" y="180.40" width="17.01" height="0.65" fill="#e59f83"/>
<rect x="637.54" y="180.40" width="17.01" height="0.65" fill="#e28c74"/>
<rect x="451.00" y="181.00" width="17.01" height="0.65" fill="#d7e8e8"/>
<rect x="467.96" y="181.00" width="17.01" height="0.65" fill="#d6e7e8"/>
<rect x="484.92" y="181.00" width="17.01" height="0.65" fill="#dae9e7"/>
<rect x="501.88" y="181.00" width="17.01" height="0.65" fill="#ddebe6"/>
<rect x="518.83" y="181.00" width="17.01" height="0.65" fill="#e49a81"/>
<rect x="535.79" y="181.00" width="17.01" height="0.65" fill="#dc5c4b"/>
<rect x="552.75" y="181.00" width="17.01" height="0.65" fill="#e6a485"/>
<rect x="569.71" y="181.00" width="17.01" height="0.65" fill="#ebc292"/>
<rect x="586.67" y="181.00" width="17.01" height="0.65" fill="#d9e9e7"/>
<rect x="603.62" y="181.00" width="17.01" height="0.65" fill="#daeae7"/>
<rect x="620.58" y="181.00" width="17.01" height="0.65" fill="#dd6956"/>
<rect x="637.54" y="181.00" width="17.01" height="0.65" fill="#de6a58"/>
<rect x="451.00" y="181.59" width="17.01" height="0.65" fill="#d6e7e8"/>
<rect x="467.96" y="181.59" width="17.01" height="0.65" fill="#cde1e7"/>
<rect x="484.92" y="181.59" width="17.01" height="0.65" fill="#d4e6e9"/>
<rect x="501.88" y="181.59" width="17.01" height="0.65" fill="#d7e8e8"/>
<rect x="518.83" y="181.59" width="17.01" height="0.65" fill="#e9b68c"/>
<rect x="535.79" y="181.59" width="17.01" height="0.65" fill="#e6a686"/>
<rect x="552.75" y="181.59" width="17.01" height="0.65" fill="#e8b18a"/>
<rect x="569.71" y="181.59" width="17.01" height="0.65" fill="#ecd4a0"/>
<rect x="586.67" y="181.59" width="17.01" height="0.65" fill="#d4e6e9"/>
<rect x="603.62" y="181.59" width="17.01" height="0.65" fill="#c6dce4"/>
<rect x="620.58" y="181.59" width="17.01" height="0.65" fill="#e07e69"/>
<rect x="637.54" y="181.59" width="17.01" height="0.65" fill="#e0806a"/>
<rect x="451.00" y="182.19" width="17.01" height="0.65" fill="#cde1e7"/>
<rect x="467.96" y="182.19" width="17.01" height="0.65" fill="#cce0e6"/>
<rect x="484.92" y="182.19" width="17.01" height="0.65" fill="#cadfe6"/>
<rect x="501.88" y="182.19" width="17.01" height="0.65" fill="#c6dde4"/>
<rect x="518.83" y="182.19" width="17.01" height="0.65" fill="#ebc393"/>
<rect x="535.79" y="182.19" width="17.01" height="0.65" fill="#eaba8d"/>
<rect x="552.75" y="182.19" width="17.01" height="0.65" fill="#ebc897"/>
<rect x="569.71" y="182.19" width="17.01" height="0.65" fill="#ededc7"/>
<rect x="586.67" y="182.19" width="17.01" height="0.65" fill="#d3e5e9"/>
<rect x="603.62" y="182.19" width="17.01" height="0.65" fill="#c5dbe4"/>
<rect x="620.58" y="182.19" width="17.01" height="0.65" fill="#e6a786"/>
<rect x="637.54" y="182.19" width="17.01" height="0.65" fill="#e7ad88"/>
<rect x="451.00" y="182.79" width="17.01" height="0.65" fill="#d8e8e8"/>
<rect x="467.96" y="182.79" width="17.01" height="0.65" fill="#cde1e7"/>
<rect x="484.92" y="182.79" width="17.01" height="0.65" fill="#cadfe6"/>
<rect x="501.88" y="182.79" width="17.01" height="0.65" fill="#cfe2e7"/>
<rect x="518.83" y="182.79" width="17.01" height="0.65" fill="#e9b98d"/>
<rect x="535.79" y="182.79" width="17.01" height="0.65" fill="#eabd8f"/>
<rect x="552.75" y="182.79" width="17.01" height="0.65" fill="#ebc494"/>
<rect x="569.71" y="182.79" width="17.01" height="0.65" fill="#eee2b0"/>
<rect x="586.67" y="182.79" width="17.01" height="0.65" fill="#cee2e7"/>
<rect x="603.62" y="182.79" width="17.01" height="0.65" fill="#cfe3e7"/>
<rect x="620.58" y="182.79" width="17.01" height="0.65" fill="#e5a184"/>
<rect x="637.54" y="182.79" width="17.01" height="0.65" fill="#e3977e"/>
<rect x="451.00" y="183.39" width="17.01" height="0.65" fill="#d7e8e8"/>
<rect x="467.96" y="183.39" width="17.01" height="0.65" fill="#cee2e7"/>
<rect x="484.92" y="183.39" width="17.01" height="0.65" fill="#d2e4e8"/>
<rect x="501.88" y="183.39" width="17.01" height="0.65" fill="#d0e3e8"/>
<rect x="518.83" y="183.39" width="17.01" height="0.65" fill="#e8b48b"/>
<rect x="535.79" y="183.39" width="17.01" height="0.65" fill="#e6a987"/>
<rect x="552.75" y="183.39" width="17.01" height="0.65" fill="#ebc494"/>
<rect x="569.71" y="183.39" width="17.01" height="0.65" fill="#eddeab"/>
<rect x="586.67" y="183.39" width="17.01" height="0.65" fill="#d4e6e9"/>
<rect x="603.62" y="183.39" width="17.01" height="0.65" fill="#cce0e6"/>
<rect x="620.58" y="183.39" width="17.01" height="0.65" fill="#e49e83"/>
<rect x="637.54" y="183.39" width="17.01" height="0.65" fill="#e1846e"/>
<rect x="451.00" y="183.99" width="17.01" height="0.65" fill="#d9e9e7"/>
<rect x="467.96" y="183.99" width="17.01" height="0.65" fill="#b2cfde"/>
<rect x="484.92" y="183.99" width="17.01" height="0.65" fill="#cadfe6"/>
<rect x="501.88" y="183.99" width="17.01" height="0.65" fill="#c1d8e2"/>
<rect x="518.83" y="183.99" width="17.01" height="0.65" fill="#eaba8d"/>
<rect x="535.79" y="183.99" width="17.01" height="0.65" fill="#e5a485"/>
<rect x="552.75" y="183.99" width="17.01" height="0.65" fill="#edd8a5"/>
<rect x="569.71" y="183.99" width="17.01" height="0.65" fill="#eee9bb"/>
<rect x="586.67" y="183.99" width="17.01" height="0.65" fill="#d1e4e8"/>
<rect x="603.62" y="183.99" width="17.01" height="0.65" fill="#cadfe5"/>
<rect x="620.58" y="183.99" width="17.01" height="0.65" fill="#e7aa87"/>
<rect x="637.54" y="183.99" width="17.01" height="0.65" fill="#eab98d"/>
<rect x="451.00" y="184.58" width="17.01" height="0.65" fill="#d6e7e8"/>
<rect x="467.96" y="184.58" width="17.01" height="0.65" fill="#cfe3e7"/>
<rect x="484.92" y="184.58" width="17.01" height="0.65" fill="#cee2e7"/>
<rect x="501.88" y="184.58" width="17.01" height="0.65" fill="#d5e7e9"/>
<rect x="518.83" y="184.58" width="17.01" height="0.65" fill="#e9b68c"/>
<rect x="535.79" y="184.58" width="17.01" height="0.65" fill="#e6a786"/>
<rect x="552.75" y="184.58" width="17.01" height="0.65" fill="#eabc8e"/>
<rect x="569.71" y="184.58" width="17.01" height="0.65" fill="#edebc0"/>
<rect x="586.67" y="184.58" width="17.01" height="0.65" fill="#d4e6e9"/>
<rect x="603.62" y="184.58" width="17.01" height="0.65" fill="#d3e5e9"/>
<rect x="620.58" y="184.58" width="17.01" height="0.65" fill="#e3947b"/>
<rect x="637.54" y="184.58" width="17.01" height="0.65" fill="#e59f83"/>
<rect x="451.00" y="185.18" width="17.01" height="0.65" fill="#d3e5e8"/>
<rect x="467.96" y="185.18" width="17.01" height="0.65" fill="#cbdfe6"/>
<rect x="484.92" y="185.18" width="17.01" height="0.65" fill="#d4e6e9"/>
<rect x="501.88" y="185.18" width="17.01" height="0.65" fill="#d7e8e8"/>
<rect x="518.83" y="185.18" width="17.01" height="0.65" fill="#ebc595"/>
<rect x="535.79" y="185.18" width="17.01" height="0.65" fill="#ebc494"/>
<rect x="552.75" y="185.18" width="17.01" height="0.65" fill="#eabf90"/>
<rect x="569.71" y="185.18" width="17.01" height="0.65" fill="#eddeab"/>
<rect x="586.67" y="185.18" width="17.01" height="0.65" fill="#d4e6e9"/>
<rect x="603.62" y="185.18" width="17.01" height="0.65" fill="#d1e4e8"/>
<rect x="620.58" y="185.18" width="17.01" height="0.65" fill="#e8b18a"/>
<rect x="637.54" y="185.18" width="17.01" height="0.65" fill="#e7ac88"/>
<rect x="451.00" y="185.78" width="17.01" height="0.65" fill="#cfe2e7"/>
<rect x="467.96" y="185.78" width="17.01" height="0.65" fill="#c4dbe4"/>
<rect x="484.92" y="185.78" width="17.01" height="0.65" fill="#cce0e6"/>
<rect x="501.88" y="185.78" width="17.01" height="0.65" fill="#ddebe6"/>
<rect x="518.83" y="185.78" width="17.01" height="0.65" fill="#e5a385"/>
<rect x="535.79" y="185.78" width="17.01" height="0.65" fill="#e7ad88"/>
<rect x="552.75" y="185.78" width="17.01" height="0.65" fill="#eabd8f"/>
<rect x="569.71" y="185.78" width="17.01" height="0.65" fill="#edd9a6"/>
<rect x="586.67" y="185.78" width="17.01" height="0.65" fill="#d0e3e8"/>
<rect x="603.62" y="185.78" width="17.01" height="0.65" fill="#d8e8e8"/>
<rect x="620.58" y="185.78" width="17.01" height="0.65" fill="#e59f83"/>
<rect x="637.54" y="185.78" width="17.01" height="0.65" fill="#e5a084"/>
<rect x="451.00" y="186.38" width="17.01" height="0.65" fill="#d3e6e9"/>
<rect x="467.96" y="186.38" width="17.01" height="0.65" fill="#d3e5e9"/>
<rect x="484.92" y="186.38" width="17.01" height="0.65" fill="#d4e6e9"/>
<rect x="501.88" y="186.38" width="17.01" height="0.65" fill="#d2e5e8"/>
<rect x="518.83" y="186.38" width="17.01" height="0.65" fill="#e6a987"/>
<rect x="535.79" y="186.38" width="17.01" height="0.65" fill="#e6a786"/>
<rect x="552.75" y="186.38" width="17.01" height="0.65" fill="#eabf90"/>
<rect x="569.71" y="186.38" width="17.01" height="0.65" fill="#eee6b4"/>
<rect x="586.67" y="186.38" width="17.01" height="0.65" fill="#cfe3e7"/>
<rect x="603.62" y="186.38" width="17.01" height="0.65" fill="#d0e3e8"/>
<rect x="620.58" y="186.38" width="17.01" height="0.65" fill="#e39178"/>
<rect x="637.54" y="186.38" width="17.01" height="0.65" fill="#e07d67"/>
<rect x="451.00" y="186.98" width="17.01" height="0.65" fill="#d3e5e9"/>
<rect x="467.96" y="186.98" width="17.01" height="0.65" fill="#c9dee5"/>
<rect x="484.92" y="186.98" width="17.01" height="0.65" fill="#cce0e6"/>
<rect x="501.88" y="186.98" width="17.01" height="0.65" fill="#c3dae3"/>
<rect x="518.83" y="186.98" width="17.01" height="0.65" fill="#e9b88c"/>
<rect x="535.79" y="186.98" width="17.01" height="0.65" fill="#e7a987"/>
<rect x="552.75" y="186.98" width="17.01" height="0.65" fill="#e9b98d"/>
<rect x="569.71" y="186.98" width="17.01" height="0.65" fill="#eee1af"/>
<rect x="586.67" y="186.98" width="17.01" height="0.65" fill="#d1e4e8"/>
<rect x="603.62" y="186.98" width="17.01" height="0.65" fill="#d5e7e9"/>
<rect x="620.58" y="186.98" width="17.01" height="0.65" fill="#e5a385"/>
<rect x="637.54" y="186.98" width="17.01" height="0.65" fill="#e28f77"/>
<rect x="451.00" y="187.57" width="17.01" height="0.65" fill="#d4e6e9"/>
<rect x="467.96" y="187.57" width="17.01" height="0.65" fill="#d5e7e9"/>
<rect x="484.92" y="187.57" width="17.01" height="0.65" fill="#cde1e6"/>
<rect x="501.88" y="187.57" width="17.01" height="0.65" fill="#cee2e7"/>
<rect x="518.83" y="187.57" width="17.01" height="0.65" fill="#eabc8e"/>
<rect x="535.79" y="187.57" width="17.01" height="0.65" fill="#e8b38b"/>
<rect x="552.75" y="187.57" width="17.01" height="0.65" fill="#e8b18a"/>
<rect x="569.71" y="187.57" width="17.01" height="0.65" fill="#ecd29e"/>
<rect x="586.67" y="187.57" width="17.01" height="0.65" fill="#d3e5e9"/>
<rect x="603.62" y="187.57" width="17.01" height="0.65" fill="#d3e6e9"/>
<rect x="620.58" y="187.57" width="17.01" height="0.65" fill="#e3967d"/>
<rect x="637.54" y="187.57" width="17.01" height="0.65" fill="#e28c74"/>
<rect x="451.00" y="188.17" width="17.01" height="0.65" fill="#cfe2e7"/>
<rect x="467.96" y="188.17" width="17.01" height="0.65" fill="#cde1e7"/>
<rect x="484.92" y="188.17" width="17.01" height="0.65" fill="#d6e7e8"/>
<rect x="501.88" y="188.17" width="17.01" height="0.65" fill="#dae9e7"/>
<rect x="518.83" y="188.17" width="17.01" height="0.65" fill="#e7ac88"/>
<rect x="535.79" y="188.17" width="17.01" height="0.65" fill="#e7aa87"/>
<rect x="552.75" y="188.17" width="17.01" height="0.65" fill="#e9b68c"/>
<rect x="569.71" y="188.17" width="17.01" height="0.65" fill="#eddba8"/>
<rect x="586.67" y="188.17" width="17.01" height="0.65" fill="#d1e4e8"/>
<rect x="603.62" y="188.17" width="17.01" height="0.65" fill="#dae9e7"/>
<rect x="620.58" y="188.17" width="17.01" height="0.65" fill="#e49e83"/>
<rect x="637.54" y="188.17" width="17.01" height="0.65" fill="#e1826c"/>
<rect x="451.00" y="188.77" width="17.01" height="0.65" fill="#dfece5"/>
<rect x="467.96" y="188.77" width="17.01" height="0.65" fill="#d7e8e8"/>
<rect x="484.92" y="188.77" width="17.01" height="0.65" fill="#d5e7e9"/>
<rect x="501.88" y="188.77" width="17.01" height="0.65" fill="#dae9e7"/>
<rect x="518.83" y="188.77" width="17.01" height="0.65" fill="#e07e68"/>
<rect x="535.79" y="188.77" width="17.01" height="0.65" fill="#df7864"/>
<rect x="552.75" y="188.77" width="17.01" height="0.65" fill="#e4987f"/>
<rect x="569.71" y="188.77" width="17.01" height="0.65" fill="#ebc897"/>
<rect x="586.67" y="188.77" width="17.01" height="0.65" fill="#dceae6"/>
<rect x="603.62" y="188.77" width="17.01" height="0.65" fill="#d7e8e8"/>
<rect x="620.58" y="188.77" width="17.01" height="0.65" fill="#dc6150"/>
<rect x="637.54" y="188.77" width="17.01" height="0.65" fill="#d84034"/>
<rect x="451.00" y="189.37" width="17.01" height="0.65" fill="#c6dce4"/>
<rect x="467.96" y="189.37" width="17.01" height="0.65" fill="#c3dae3"/>
<rect x="484.92" y="189.37" width="17.01" height="0.65" fill="#c0d8e2"/>
<rect x="501.88" y="189.37" width="17.01" height="0.65" fill="#c2d9e3"/>
<rect x="518.83" y="189.37" width="17.01" height="0.65" fill="#ebcc9a"/>
<rect x="535.79" y="189.37" width="17.01" height="0.65" fill="#eabc8e"/>
<rect x="552.75" y="189.37" width="17.01" height="0.65" fill="#ecd39f"/>
<rect x="569.71" y="189.37" width="17.01" height="0.65" fill="#e9f1d7"/>
<rect x="586.67" y="189.37" width="17.01" height="0.65" fill="#bad4e0"/>
<rect x="603.62" y="189.37" width="17.01" height="0.65" fill="#cfe3e7"/>
<rect x="620.58" y="189.37" width="17.01" height="0.65" fill="#eac191"/>
<rect x="637.54" y="189.37" width="17.01" height="0.65" fill="#eabc8e"/>
<rect x="451.00" y="189.97" width="17.01" height="0.65" fill="#c8dee5"/>
<rect x="467.96" y="189.97" width="17.01" height="0.65" fill="#b9d4e0"/>
<rect x="484.92" y="189.97" width="17.01" height="0.65" fill="#c6dce4"/>
<rect x="501.88" y="189.97" width="17.01" height="0.65" fill="#c9dee5"/>
<rect x="518.83" y="189.97" width="17.01" height="0.65" fill="#eccd9b"/>
<rect x="535.79" y="189.97" width="17.01" height="0.65" fill="#ebc393"/>
<rect x="552.75" y="189.97" width="17.01" height="0.65" fill="#eddaa7"/>
<rect x="569.71" y="189.97" width="17.01" height="0.65" fill="#edecc3"/>
<rect x="586.67" y="189.97" width="17.01" height="0.65" fill="#c4dbe4"/>
<rect x="603.62" y="189.97" width="17.01" height="0.65" fill="#b5d1df"/>
<rect x="620.58" y="189.97" width="17.01" height="0.65" fill="#eabe90"/>
<rect x="637.54" y="189.97" width="17.01" height="0.65" fill="#eabd8e"/>
<rect x="451.00" y="190.56" width="17.01" height="0.65" fill="#c7dde4"/>
<rect x="467.96" y="190.56" width="17.01" height="0.65" fill="#c6dce4"/>
<rect x="484.92" y="190.56" width="17.01" height="0.65" fill="#bfd7e2"/>
<rect x="501.88" y="190.56" width="17.01" height="0.65" fill="#c6dce4"/>
<rect x="518.83" y="190.56" width="17.01" height="0.65" fill="#ebc393"/>
<rect x="535.79" y="190.56" width="17.01" height="0.65" fill="#eabf90"/>
<rect x="552.75" y="190.56" width="17.01" height="0.65" fill="#ecd39f"/>
<rect x="569.71" y="190.56" width="17.01" height="0.65" fill="#ecf1d0"/>
<rect x="586.67" y="190.56" width="17.01" height="0.65" fill="#c8dee5"/>
<rect x="603.62" y="190.56" width="17.01" height="0.65" fill="#c6dce4"/>
<rect x="620.58" y="190.56" width="17.01" height="0.65" fill="#e9b68c"/>
<rect x="637.54" y="190.56" width="17.01" height="0.65" fill="#e9b68c"/>
<rect x="451.00" y="191.16" width="17.01" height="0.65" fill="#c0d8e2"/>
<rect x="467.96" y="191.16" width="17.01" height="0.65" fill="#abcbdd"/>
<rect x="484.92" y="191.16" width="17.01" height="0.65" fill="#c2d9e3"/>
<rect x="501.88" y="191.16" width="17.01" height="0.65" fill="#b4d1df"/>
<rect x="518.83" y="191.16" width="17.01" height="0.65" fill="#ede0ad"/>
<rect x="535.79" y="191.16" width="17.01" height="0.65" fill="#ebc897"/>
<rect x="552.75" y="191.16" width="17.01" height="0.65" fill="#edecc3"/>
<rect x="569.71" y="191.16" width="17.01" height="0.65" fill="#d9e9e7"/>
<rect x="586.67" y="191.16" width="17.01" height="0.65" fill="#afcede"/>
<rect x="603.62" y="191.16" width="17.01" height="0.65" fill="#9ec3d9"/>
<rect x="620.58" y="191.16" width="17.01" height="0.65" fill="#eddca9"/>
<rect x="637.54" y="191.16" width="17.01" height="0.65" fill="#ebc695"/>
<rect x="451.00" y="191.76" width="17.01" height="0.65" fill="#c0d8e2"/>
<rect x="467.96" y="191.76" width="17.01" height="0.65" fill="#bad4e1"/>
<rect x="484.92" y="191.76" width="17.01" height="0.65" fill="#cce1e6"/>
<rect x="501.88" y="191.76" width="17.01" height="0.65" fill="#c4dbe3"/>
<rect x="518.83" y="191.76" width="17.01" height="0.65" fill="#ebca98"/>
<rect x="535.79" y="191.76" width="17.01" height="0.65" fill="#eabd8f"/>
<rect x="552.75" y="191.76" width="17.01" height="0.65" fill="#ebc494"/>
<rect x="569.71" y="191.76" width="17.01" height="0.65" fill="#eee4b2"/>
<rect x="586.67" y="191.76" width="17.01" height="0.65" fill="#d1e4e8"/>
<rect x="603.62" y="191.76" width="17.01" height="0.65" fill="#cadfe5"/>
<rect x="620.58" y="191.76" width="17.01" height="0.65" fill="#e9b48b"/>
<rect x="637.54" y="191.76" width="17.01" height="0.65" fill="#e5a284"/>
<rect x="451.00" y="192.36" width="17.01" height="0.65" fill="#d5e7e9"/>
<rect x="467.96" y="192.36" width="17.01" height="0.65" fill="#d5e7e9"/>
<rect x="484.92" y="192.36" width="17.01" height="0.65" fill="#d6e7e8"/>
<rect x="501.88" y="192.36" width="17.01" height="0.65" fill="#d5e7e9"/>
<rect x="518.83" y="192.36" width="17.01" height="0.65" fill="#e7ad88"/>
<rect x="535.79" y="192.36" width="17.01" height="0.65" fill="#e7aa87"/>
<rect x="552.75" y="192.36" width="17.01" height="0.65" fill="#e8b48b"/>
<rect x="569.71" y="192.36" width="17.01" height="0.65" fill="#eddfac"/>
<rect x="586.67" y="192.36" width="17.01" height="0.65" fill="#dceae6"/>
<rect x="603.62" y="192.36" width="17.01" height="0.65" fill="#d7e8e8"/>
<rect x="620.58" y="192.36" width="17.01" height="0.65" fill="#e59f83"/>
<rect x="637.54" y="192.36" width="17.01" height="0.65" fill="#db5a4a"/>
<rect x="451.00" y="192.96" width="17.01" height="0.65" fill="#c9dee5"/>
<rect x="467.96" y="192.96" width="17.01" height="0.65" fill="#d8e9e7"/>
<rect x="484.92" y="192.96" width="17.01" height="0.65" fill="#d6e7e8"/>
<rect x="501.88" y="192.96" width="17.01" height="0.65" fill="#dbeae6"/>
<rect x="518.83" y="192.96" width="17.01" height="0.65" fill="#eabb8e"/>
<rect x="535.79" y="192.96" width="17.01" height="0.65" fill="#e5a485"/>
<rect x="552.75" y="192.96" width="17.01" height="0.65" fill="#e9b58b"/>
<rect x="569.71" y="192.96" width="17.01" height="0.65" fill="#edd9a6"/>
<rect x="586.67" y="192.96" width="17.01" height="0.65" fill="#d5e7e9"/>
<rect x="603.62" y="192.96" width="17.01" height="0.65" fill="#d7e8e8"/>
<rect x="620.58" y="192.96" width="17.01" height="0.65" fill="#e7aa87"/>
<rect x="637.54" y="192.96" width="17.01" height="0.65" fill="#e5a184"/>
<rect x="451.00" y="193.55" width="17.01" height="0.65" fill="#c3dae3"/>
<rect x="467.96" y="193.55" width="17.01" height="0.65" fill="#bcd5e1"/>
<rect x="484.92" y="193.55" width="17.01" height="0.65" fill="#c6dce4"/>
<rect x="501.88" y="193.55" width="17.01" height="0.65" fill="#c6dce4"/>
<rect x="518.83" y="193.55" width="17.01" height="0.65" fill="#ecd19d"/>
<rect x="535.79" y="193.55" width="17.01" height="0.65" fill="#eccd9b"/>
<rect x="552.75" y="193.55" width="17.01" height="0.65" fill="#eddba8"/>
<rect x="569.71" y="193.55" width="17.01" height="0.65" fill="#ecf1cf"/>
<rect x="586.67" y="193.55" width="17.01" height="0.65" fill="#cbe0e6"/>
<rect x="603.62" y="193.55" width="17.01" height="0.65" fill="#c5dbe4"/>
<rect x="620.58" y="193.55" width="17.01" height="0.65" fill="#ebc393"/>
<rect x="637.54" y="193.55" width="17.01" height="0.65" fill="#e8af89"/>
<rect x="451.00" y="194.15" width="17.01" height="0.65" fill="#cfe3e7"/>
<rect x="467.96" y="194.15" width="17.01" height="0.65" fill="#cde1e7"/>
<rect x="484.92" y="194.15" width="17.01" height="0.65" fill="#c7dde5"/>
<rect x="501.88" y="194.15" width="17.01" height="0.65" fill="#cee2e7"/>
<rect x="518.83" y="194.15" width="17.01" height="0.65" fill="#ecce9b"/>
<rect x="535.79" y="194.15" width="17.01" height="0.65" fill="#e9b78c"/>
<rect x="552.75" y="194.15" width="17.01" height="0.65" fill="#ebcb99"/>
<rect x="569.71" y="194.15" width="17.01" height="0.65" fill="#e8f0d9"/>
<rect x="586.67" y="194.15" width="17.01" height="0.65" fill="#cfe3e7"/>
<rect x="603.62" y="194.15" width="17.01" height="0.65" fill="#c4dbe3"/>
<rect x="620.58" y="194.15" width="17.01" height="0.65" fill="#e7ab88"/>
<rect x="637.54" y="194.15" width="17.01" height="0.65" fill="#e8b48b"/>
<rect x="451.00" y="194.75" width="17.01" height="0.65" fill="#d0e3e7"/>
<rect x="467.96" y="194.75" width="17.01" height="0.65" fill="#c7dde4"/>
<rect x="484.92" y="194.75" width="17.01" height="0.65" fill="#cde1e7"/>
<rect x="501.88" y="194.75" width="17.01" height="0.65" fill="#c8dee5"/>
<rect x="518.83" y="194.75" width="17.01" height="0.65" fill="#eabc8e"/>
<rect x="535.79" y="194.75" width="17.01" height="0.65" fill="#e9b88d"/>
<rect x="552.75" y="194.75" width="17.01" height="0.65" fill="#ebc595"/>
<rect x="569.71" y="194.75" width="17.01" height="0.65" fill="#e6f0dd"/>
<rect x="586.67" y="194.75" width="17.01" height="0.65" fill="#d5e6e9"/>
<rect x="603.62" y="194.75" width="17.01" height="0.65" fill="#cce0e6"/>
<rect x="620.58" y="194.75" width="17.01" height="0.65" fill="#eabc8e"/>
<rect x="637.54" y="194.75" width="17.01" height="0.65" fill="#e6a786"/>
<rect x="451.00" y="195.35" width="17.01" height="0.65" fill="#d7e8e8"/>
<rect x="467.96" y="195.35" width="17.01" height="0.65" fill="#c6dce4"/>
<rect x="484.92" y="195.35" width="17.01" height="0.65" fill="#d7e8e8"/>
<rect x="501.88" y="195.35" width="17.01" height="0.65" fill="#cee2e7"/>
<rect x="518.83" y="195.35" width="17.01" height="0.65" fill="#e6a686"/>
<rect x="535.79" y="195.35" width="17.01" height="0.65" fill="#e8b089"/>
<rect x="552.75" y="195.35" width="17.01" height="0.65" fill="#e9b98d"/>
<rect x="569.71" y="195.35" width="17.01" height="0.65" fill="#eee5b3"/>
<rect x="586.67" y="195.35" width="17.01" height="0.65" fill="#cbe0e6"/>
<rect x="603.62" y="195.35" width="17.01" height="0.65" fill="#d5e7e9"/>
<rect x="620.58" y="195.35" width="17.01" height="0.65" fill="#e49e83"/>
<rect x="637.54" y="195.35" width="17.01" height="0.65" fill="#e0816b"/>
<rect x="451.00" y="195.95" width="17.01" height="0.65" fill="#d1e4e8"/>
<rect x="467.96" y="195.95" width="17.01" height="0.65" fill="#c5dce4"/>
<rect x="484.92" y="195.95" width="17.01" height="0.65" fill="#cee2e7"/>
<rect x="501.88" y="195.95" width="17.01" height="0.65" fill="#cee2e7"/>
<rect x="518.83" y="195.95" width="17.01" height="0.65" fill="#e9b88d"/>
<rect x="535.79" y="195.95" width="17.01" height="0.65" fill="#e5a485"/>
<rect x="552.75" y="195.95" width="17.01" height="0.65" fill="#e9b68c"/>
<rect x="569.71" y="195.95" width="17.01" height="0.65" fill="#eddeab"/>
<rect x="586.67" y="195.95" width="17.01" height="0.65" fill="#d5e6e9"/>
<rect x="603.62" y="195.95" width="17.01" height="0.65" fill="#d1e4e8"/>
<rect x="620.58" y="195.95" width="17.01" height="0.65" fill="#e49d82"/>
<rect x="637.54" y="195.95" width="17.01" height="0.65" fill="#e0816b"/>
<rect x="451.00" y="196.55" width="17.01" height="0.65" fill="#d1e4e8"/>
<rect x="467.96" y="196.55" width="17.01" height="0.65" fill="#c7dde4"/>
<rect x="484.92" y="196.55" width="17.01" height="0.65" fill="#d9e9e7"/>
<rect x="501.88" y="196.55" width="17.01" height="0.65" fill="#d3e5e9"/>
<rect x="518.83" y="196.55" width="17.01" height="0.65" fill="#e6a886"/>
<rect x="535.79" y="196.55" width="17.01" height="0.65" fill="#e8b38b"/>
<rect x="552.75" y="196.55" width="17.01" height="0.65" fill="#eab98d"/>
<rect x="569.71" y="196.55" width="17.01" height="0.65" fill="#eddaa7"/>
<rect x="586.67" y="196.55" width="17.01" height="0.65" fill="#cce0e6"/>
<rect x="603.62" y="196.55" width="17.01" height="0.65" fill="#cfe3e7"/>
<rect x="620.58" y="196.55" width="17.01" height="0.65" fill="#e29078"/>
<rect x="637.54" y="196.55" width="17.01" height="0.65" fill="#df7561"/>
<rect x="451.00" y="197.14" width="17.01" height="0.65" fill="#d3e6e9"/>
<rect x="467.96" y="197.14" width="17.01" height="0.65" fill="#cbe0e6"/>
<rect x="484.92" y="197.14" width="17.01" height="0.65" fill="#d8e8e8"/>
<rect x="501.88" y="197.14" width="17.01" height="0.65" fill="#d9e9e7"/>
<rect x="518.83" y="197.14" width="17.01" height="0.65" fill="#e6a585"/>
<rect x="535.79" y="197.14" width="17.01" height="0.65" fill="#e6a786"/>
<rect x="552.75" y="197.14" width="17.01" height="0.65" fill="#e6a786"/>
<rect x="569.71" y="197.14" width="17.01" height="0.65" fill="#ebcb99"/>
<rect x="586.67" y="197.14" width="17.01" height="0.65" fill="#dae9e7"/>
<rect x="603.62" y="197.14" width="17.01" height="0.65" fill="#d3e5e9"/>
<rect x="620.58" y="197.14" width="17.01" height="0.65" fill="#e07d68"/>
<rect x="637.54" y="197.14" width="17.01" height="0.65" fill="#dc604f"/>
<rect x="451.00" y="197.74" width="17.01" height="0.65" fill="#c1d8e2"/>
<rect x="467.96" y="197.74" width="17.01" height="0.65" fill="#c9dee5"/>
<rect x="484.92" y="197.74" width="17.01" height="0.65" fill="#cce0e6"/>
<rect x="501.88" y="197.74" width="17.01" height="0.65" fill="#c9dee5"/>
<rect x="518.83" y="197.74" width="17.01" height="0.65" fill="#eac091"/>
<rect x="535.79" y="197.74" width="17.01" height="0.65" fill="#ebc292"/>
<rect x="552.75" y="197.74" width="17.01" height="0.65" fill="#ebcc9a"/>
<rect x="569.71" y="197.74" width="17.01" height="0.65" fill="#edefca"/>
<rect x="586.67" y="197.74" width="17.01" height="0.65" fill="#cfe3e7"/>
<rect x="603.62" y="197.74" width="17.01" height="0.65" fill="#d3e5e9"/>
<rect x="620.58" y="197.74" width="17.01" height="0.65" fill="#e9b78c"/>
<rect x="637.54" y="197.74" width="17.01" height="0.65" fill="#e49e83"/>
<rect x="451.00" y="198.34" width="17.01" height="0.65" fill="#daeae7"/>
<rect x="467.96" y="198.34" width="17.01" height="0.65" fill="#d6e7e8"/>
<rect x="484.92" y="198.34" width="17.01" height="0.65" fill="#ddebe6"/>
<rect x="501.88" y="198.34" width="17.01" height="0.65" fill="#d4e6e9"/>
<rect x="518.83" y="198.34" width="17.01" height="0.65" fill="#e6a987"/>
<rect x="535.79" y="198.34" width="17.01" height="0.65" fill="#e6a686"/>
<rect x="552.75" y="198.34" width="17.01" height="0.65" fill="#e7aa87"/>
<rect x="569.71" y="198.34" width="17.01" height="0.65" fill="#ebc897"/>
<rect x="586.67" y="198.34" width="17.01" height="0.65" fill="#d9e9e7"/>
<rect x="603.62" y="198.34" width="17.01" height="0.65" fill="#d7e8e8"/>
<rect x="620.58" y="198.34" width="17.01" height="0.65" fill="#e28b74"/>
<rect x="637.54" y="198.34" width="17.01" height="0.65" fill="#de705d"/>
<rect x="451.00" y="198.94" width="17.01" height="0.65" fill="#cde1e6"/>
<rect x="467.96" y="198.94" width="17.01" height="0.65" fill="#bed7e1"/>
<rect x="484.92" y="198.94" width="17.01" height="0.65" fill="#bad5e1"/>
<rect x="501.88" y="198.94" width="17.01" height="0.65" fill="#bfd7e2"/>
<rect x="518.83" y="198.94" width="17.01" height="0.65" fill="#edd8a5"/>
<rect x="535.79" y="198.94" width="17.01" height="0.65" fill="#ebc494"/>
<rect x="552.75" y="198.94" width="17.01" height="0.65" fill="#ecd09d"/>
<rect x="569.71" y="198.94" width="17.01" height="0.65" fill="#e0ede5"/>
<rect x="586.67" y="198.94" width="17.01" height="0.65" fill="#cce0e6"/>
<rect x="603.62" y="198.94" width="17.01" height="0.65" fill="#c9dee5"/>
<rect x="620.58" y="198.94" width="17.01" height="0.65" fill="#ebc594"/>
<rect x="637.54" y="198.94" width="17.01" height="0.65" fill="#ebc595"/>
<rect x="451.00" y="199.54" width="17.01" height="0.65" fill="#c7dde4"/>
<rect x="467.96" y="199.54" width="17.01" height="0.65" fill="#c8dde5"/>
<rect x="484.92" y="199.54" width="17.01" height="0.65" fill="#c6dce4"/>
<rect x="501.88" y="199.54" width="17.01" height="0.65" fill="#b7d3e0"/>
<rect x="518.83" y="199.54" width="17.01" height="0.65" fill="#ebc796"/>
<rect x="535.79" y="199.54" width="17.01" height="0.65" fill="#ebca99"/>
<rect x="552.75" y="199.54" width="17.01" height="0.65" fill="#ebc897"/>
<rect x="569.71" y="199.54" width="17.01" height="0.65" fill="#e8f1d9"/>
<rect x="586.67" y="199.54" width="17.01" height="0.65" fill="#c6dce4"/>
<rect x="603.62" y="199.54" width="17.01" height="0.65" fill="#c3dae3"/>
<rect x="620.58" y="199.54" width="17.01" height="0.65" fill="#eabc8e"/>
<rect x="637.54" y="199.54" width="17.01" height="0.65" fill="#e6a786"/>
<rect x="451.00" y="200.13" width="17.01" height="0.65" fill="#d7e7e8"/>
<rect x="467.96" y="200.13" width="17.01" height="0.65" fill="#d1e4e8"/>
<rect x="484.92" y="200.13" width="17.01" height="0.65" fill="#c8dee5"/>
<rect x="501.88" y="200.13" width="17.01" height="0.65" fill="#cee2e7"/>
<rect x="518.83" y="200.13" width="17.01" height="0.65" fill="#e9b68c"/>
<rect x="535.79" y="200.13" width="17.01" height="0.65" fill="#e8b08a"/>
<rect x="552.75" y="200.13" width="17.01" height="0.65" fill="#e9b58b"/>
<rect x="569.71" y="200.13" width="17.01" height="0.65" fill="#eee2af"/>
<rect x="586.67" y="200.13" width="17.01" height="0.65" fill="#d0e3e8"/>
<rect x="603.62" y="200.13" width="17.01" height="0.65" fill="#cbe0e6"/>
<rect x="620.58" y="200.13" width="17.01" height="0.65" fill="#e8af89"/>
<rect x="637.54" y="200.13" width="17.01" height="0.65" fill="#e1856e"/>
<rect x="451.00" y="200.73" width="17.01" height="0.65" fill="#d7e8e8"/>
<rect x="467.96" y="200.73" width="17.01" height="0.65" fill="#cce0e6"/>
<rect x="484.92" y="200.73" width="17.01" height="0.65" fill="#c4dbe3"/>
<rect x="501.88" y="200.73" width="17.01" height="0.65" fill="#d5e7e9"/>
<rect x="518.83" y="200.73" width="17.01" height="0.65" fill="#e5a184"/>
<rect x="535.79" y="200.73" width="17.01" height="0.65" fill="#e59f83"/>
<rect x="552.75" y="200.73" width="17.01" height="0.65" fill="#e7aa87"/>
<rect x="569.71" y="200.73" width="17.01" height="0.65" fill="#ebca98"/>
<rect x="586.67" y="200.73" width="17.01" height="0.65" fill="#dbeae7"/>
<rect x="603.62" y="200.73" width="17.01" height="0.65" fill="#d2e4e8"/>
<rect x="620.58" y="200.73" width="17.01" height="0.65" fill="#df7863"/>
<rect x="637.54" y="200.73" width="17.01" height="0.65" fill="#de6c59"/>
<rect x="451.00" y="201.33" width="17.01" height="0.65" fill="#c3dae3"/>
<rect x="467.96" y="201.33" width="17.01" height="0.65" fill="#b0cede"/>
<rect x="484.92" y="201.33" width="17.01" height="0.65" fill="#c3dae3"/>
<rect x="501.88" y="201.33" width="17.01" height="0.65" fill="#c7dde4"/>
<rect x="518.83" y="201.33" width="17.01" height="0.65" fill="#eddca9"/>
<rect x="535.79" y="201.33" width="17.01" height="0.65" fill="#eddaa6"/>
<rect x="552.75" y="201.33" width="17.01" height="0.65" fill="#ecd09d"/>
<rect x="569.71" y="201.33" width="17.01" height="0.65" fill="#e8f1d9"/>
<rect x="586.67" y="201.33" width="17.01" height="0.65" fill="#cfe2e7"/>
<rect x="603.62" y="201.33" width="17.01" height="0.65" fill="#b6d2df"/>
<rect x="620.58" y="201.33" width="17.01" height="0.65" fill="#eabb8e"/>
<rect x="637.54" y="201.33" width="17.01" height="0.65" fill="#e7ad88"/>
<rect x="451.00" y="201.93" width="17.01" height="0.65" fill="#d8e8e8"/>
<rect x="467.96" y="201.93" width="17.01" height="0.65" fill="#d7e7e8"/>
<rect x="484.92" y="201.93" width="17.01" height="0.65" fill="#d7e7e8"/>
<rect x="501.88" y="201.93" width="17.01" height="0.65" fill="#dbeae6"/>
<rect x="518.83" y="201.93" width="17.01" height="0.65" fill="#e39279"/>
<rect x="535.79" y="201.93" width="17.01" height="0.65" fill="#e28b74"/>
<rect x="552.75" y="201.93" width="17.01" height="0.65" fill="#e8b18a"/>
<rect x="569.71" y="201.93" width="17.01" height="0.65" fill="#ebc695"/>
<rect x="586.67" y="201.93" width="17.01" height="0.65" fill="#d7e8e8"/>
<rect x="603.62" y="201.93" width="17.01" height="0.65" fill="#dae9e7"/>
<rect x="620.58" y="201.93" width="17.01" height="0.65" fill="#de6c59"/>
<rect x="637.54" y="201.93" width="17.01" height="0.65" fill="#d84034"/>
<rect x="451.00" y="202.53" width="17.01" height="0.65" fill="#d3e5e9"/>
<rect x="467.96" y="202.53" width="17.01" height="0.65" fill="#d3e5e9"/>
<rect x="484.92" y="202.53" width="17.01" height="0.65" fill="#dbeae7"/>
<rect x="501.88" y="202.53" width="17.01" height="0.65" fill="#d0e3e8"/>
<rect x="518.83" y="202.53" width="17.01" height="0.65" fill="#e7aa87"/>
<rect x="535.79" y="202.53" width="17.01" height="0.65" fill="#e49980"/>
<rect x="552.75" y="202.53" width="17.01" height="0.65" fill="#e7aa87"/>
<rect x="569.71" y="202.53" width="17.01" height="0.65" fill="#ecd39f"/>
<rect x="586.67" y="202.53" width="17.01" height="0.65" fill="#cee2e7"/>
<rect x="603.62" y="202.53" width="17.01" height="0.65" fill="#cce0e6"/>
<rect x="620.58" y="202.53" width="17.01" height="0.65" fill="#e3927a"/>
<rect x="637.54" y="202.53" width="17.01" height="0.65" fill="#e07d68"/>
<rect x="451.00" y="203.12" width="17.01" height="0.65" fill="#d8e8e8"/>
<rect x="467.96" y="203.12" width="17.01" height="0.65" fill="#dcebe6"/>
<rect x="484.92" y="203.12" width="17.01" height="0.65" fill="#ddebe6"/>
<rect x="501.88" y="203.12" width="17.01" height="0.65" fill="#d2e4e8"/>
<rect x="518.83" y="203.12" width="17.01" height="0.65" fill="#e49e83"/>
<rect x="535.79" y="203.12" width="17.01" height="0.65" fill="#de715e"/>
<rect x="552.75" y="203.12" width="17.01" height="0.65" fill="#e5a284"/>
<rect x="569.71" y="203.12" width="17.01" height="0.65" fill="#ebc594"/>
<rect x="586.67" y="203.12" width="17.01" height="0.65" fill="#ddebe6"/>
<rect x="603.62" y="203.12" width="17.01" height="0.65" fill="#d6e7e8"/>
<rect x="620.58" y="203.12" width="17.01" height="0.65" fill="#da4f41"/>
<rect x="637.54" y="203.12" width="17.01" height="0.65" fill="#db5546"/>
<rect x="451.00" y="203.72" width="17.01" height="0.65" fill="#cfe2e7"/>
<rect x="467.96" y="203.72" width="17.01" height="0.65" fill="#c3dae3"/>
<rect x="484.92" y="203.72" width="17.01" height="0.65" fill="#cbe0e6"/>
<rect x="501.88" y="203.72" width="17.01" height="0.65" fill="#d3e5e9"/>
<rect x="518.83" y="203.72" width="17.01" height="0.65" fill="#ebc695"/>
<rect x="535.79" y="203.72" width="17.01" height="0.65" fill="#eabf90"/>
<rect x="552.75" y="203.72" width="17.01" height="0.65" fill="#ebc796"/>
<rect x="569.71" y="203.72" width="17.01" height="0.65" fill="#edefca"/>
<rect x="586.67" y="203.72" width="17.01" height="0.65" fill="#d2e5e8"/>
<rect x="603.62" y="203.72" width="17.01" height="0.65" fill="#c2d9e3"/>
<rect x="620.58" y="203.72" width="17.01" height="0.65" fill="#e8b089"/>
<rect x="637.54" y="203.72" width="17.01" height="0.65" fill="#e8b28a"/>
<rect x="451.00" y="204.32" width="17.01" height="0.65" fill="#d5e6e9"/>
<rect x="467.96" y="204.32" width="17.01" height="0.65" fill="#c0d8e2"/>
<rect x="484.92" y="204.32" width="17.01" height="0.65" fill="#d2e5e8"/>
<rect x="501.88" y="204.32" width="17.01" height="0.65" fill="#cce0e6"/>
<rect x="518.83" y="204.32" width="17.01" height="0.65" fill="#eac091"/>
<rect x="535.79" y="204.32" width="17.01" height="0.65" fill="#ebc796"/>
<rect x="552.75" y="204.32" width="17.01" height="0.65" fill="#ebc796"/>
<rect x="569.71" y="204.32" width="17.01" height="0.65" fill="#eee9bb"/>
<rect x="586.67" y="204.32" width="17.01" height="0.65" fill="#cadfe5"/>
<rect x="603.62" y="204.32" width="17.01" height="0.65" fill="#c7dde4"/>
<rect x="620.58" y="204.32" width="17.01" height="0.65" fill="#e6a586"/>
<rect x="637.54" y="204.32" width="17.01" height="0.65" fill="#e8b18a"/>
<rect x="451.00" y="204.92" width="17.01" height="0.65" fill="#c9dee5"/>
<rect x="467.96" y="204.92" width="17.01" height="0.65" fill="#cadfe6"/>
<rect x="484.92" y="204.92" width="17.01" height="0.65" fill="#cce0e6"/>
<rect x="501.88" y="204.92" width="17.01" height="0.65" fill="#cbe0e6"/>
<rect x="518.83" y="204.92" width="17.01" height="0.65" fill="#e9b88d"/>
<rect x="535.79" y="204.92" width="17.01" height="0.65" fill="#eabe90"/>
<rect x="552.75" y="204.92" width="17.01" height="0.65" fill="#ebc796"/>
<rect x="569.71" y="204.92" width="17.01" height="0.65" fill="#eee4b2"/>
<rect x="586.67" y="204.92" width="17.01" height="0.65" fill="#c6dde4"/>
<rect x="603.62" y="204.92" width="17.01" height="0.65" fill="#d0e3e8"/>
<rect x="620.58" y="204.92" width="17.01" height="0.65" fill="#e6a485"/>
<rect x="637.54" y="204.92" width="17.01" height="0.65" fill="#e9b68c"/>
<rect x="451.00" y="205.52" width="17.01" height="0.65" fill="#c2dae3"/>
<rect x="467.96" y="205.52" width="17.01" height="0.65" fill="#b0cede"/>
<rect x="484.92" y="205.52" width="17.01" height="0.65" fill="#c9dee5"/>
<rect x="501.88" y="205.52" width="17.01" height="0.65" fill="#b5d1df"/>
<rect x="518.83" y="205.52" width="17.01" height="0.65" fill="#ebca98"/>
<rect x="535.79" y="205.52" width="17.01" height="0.65" fill="#eabb8e"/>
<rect x="552.75" y="205.52" width="17.01" height="0.65" fill="#ede0ad"/>
<rect x="569.71" y="205.52" width="17.01" height="0.65" fill="#e9f1d7"/>
<rect x="586.67" y="205.52" width="17.01" height="0.65" fill="#bad4e0"/>
<rect x="603.62" y="205.52" width="17.01" height="0.65" fill="#cbdfe6"/>
<rect x="620.58" y="205.52" width="17.01" height="0.65" fill="#ebc292"/>
<rect x="637.54" y="205.52" width="17.01" height="0.65" fill="#e9b88d"/>
<rect x="451.00" y="206.11" width="17.01" height="0.65" fill="#d3e5e9"/>
<rect x="467.96" y="206.11" width="17.01" height="0.65" fill="#c8dee5"/>
<rect x="484.92" y="206.11" width="17.01" height="0.65" fill="#cde1e7"/>
<rect x="501.88" y="206.11" width="17.01" height="0.65" fill="#cadfe5"/>
<rect x="518.83" y="206.11" width="17.01" height="0.65" fill="#eabd8f"/>
<rect x="535.79" y="206.11" width="17.01" height="0.65" fill="#eabe8f"/>
<rect x="552.75" y="206.11" width="17.01" height="0.65" fill="#ebc393"/>
<rect x="569.71" y="206.11" width="17.01" height="0.65" fill="#ecf1cf"/>
<rect x="586.67" y="206.11" width="17.01" height="0.65" fill="#cce1e6"/>
<rect x="603.62" y="206.11" width="17.01" height="0.65" fill="#d7e8e8"/>
<rect x="620.58" y="206.11" width="17.01" height="0.65" fill="#e7ab87"/>
<rect x="637.54" y="206.11" width="17.01" height="0.65" fill="#e7ae89"/>
<rect x="451.00" y="206.71" width="17.01" height="0.65" fill="#cbdfe6"/>
<rect x="467.96" y="206.71" width="17.01" height="0.65" fill="#c2d9e3"/>
<rect x="484.92" y="206.71" width="17.01" height="0.65" fill="#cadfe5"/>
<rect x="501.88" y="206.71" width="17.01" height="0.65" fill="#d2e5e8"/>
<rect x="518.83" y="206.71" width="17.01" height="0.65" fill="#e9b88d"/>
<rect x="535.79" y="206.71" width="17.01" height="0.65" fill="#e8b28a"/>
<rect x="552.75" y="206.71" width="17.01" height="0.65" fill="#ebc796"/>
<rect x="569.71" y="206.71" width="17.01" height="0.65" fill="#edebc0"/>
<rect x="586.67" y="206.71" width="17.01" height="0.65" fill="#d7e8e8"/>
<rect x="603.62" y="206.71" width="17.01" height="0.65" fill="#d0e3e7"/>
<rect x="620.58" y="206.71" width="17.01" height="0.65" fill="#e8af89"/>
<rect x="637.54" y="206.71" width="17.01" height="0.65" fill="#e8b28a"/>
<rect x="451.00" y="207.31" width="17.01" height="0.65" fill="#d5e7e9"/>
<rect x="467.96" y="207.31" width="17.01" height="0.65" fill="#b5d1df"/>
<rect x="484.92" y="207.31" width="17.01" height="0.65" fill="#c4dbe3"/>
<rect x="501.88" y="207.31" width="17.01" height="0.65" fill="#c6dce4"/>
<rect x="518.83" y="207.31" width="17.01" height="0.65" fill="#ecd29e"/>
<rect x="535.79" y="207.31" width="17.01" height="0.65" fill="#ebca98"/>
<rect x="552.75" y="207.31" width="17.01" height="0.65" fill="#eee2b0"/>
<rect x="569.71" y="207.31" width="17.01" height="0.65" fill="#e2eee4"/>
<rect x="586.67" y="207.31" width="17.01" height="0.65" fill="#d1e4e8"/>
<rect x="603.62" y="207.31" width="17.01" height="0.65" fill="#bfd8e2"/>
<rect x="620.58" y="207.31" width="17.01" height="0.65" fill="#eabb8d"/>
<rect x="637.54" y="207.31" width="17.01" height="0.65" fill="#ebc695"/>
<rect x="451.00" y="207.91" width="17.01" height="0.65" fill="#cfe2e7"/>
<rect x="467.96" y="207.91" width="17.01" height="0.65" fill="#cfe2e7"/>
<rect x="484.92" y="207.91" width="17.01" height="0.65" fill="#c4dbe3"/>
<rect x="501.88" y="207.91" width="17.01" height="0.65" fill="#cee2e7"/>
<rect x="518.83" y="207.91" width="17.01" height="0.65" fill="#eac091"/>
<rect x="535.79" y="207.91" width="17.01" height="0.65" fill="#eabf90"/>
<rect x="552.75" y="207.91" width="17.01" height="0.65" fill="#ebc594"/>
<rect x="569.71" y="207.91" width="17.01" height="0.65" fill="#edefca"/>
<rect x="586.67" y="207.91" width="17.01" height="0.65" fill="#c9dee5"/>
<rect x="603.62" y="207.91" width="17.01" height="0.65" fill="#cbe0e6"/>
<rect x="620.58" y="207.91" width="17.01" height="0.65" fill="#ebc494"/>
<rect x="637.54" y="207.91" width="17.01" height="0.65" fill="#e7ab87"/>
<rect x="451.00" y="208.51" width="17.01" height="0.65" fill="#c0d8e2"/>
<rect x="467.96" y="208.51" width="17.01" height="0.65" fill="#c1d9e3"/>
<rect x="484.92" y="208.51" width="17.01" height="0.65" fill="#cbe0e6"/>
<rect x="501.88" y="208.51" width="17.01" height="0.65" fill="#c4dbe3"/>
<rect x="518.83" y="208.51" width="17.01" height="0.65" fill="#ebc494"/>
<rect x="535.79" y="208.51" width="17.01" height="0.65" fill="#ebcb99"/>
<rect x="552.75" y="208.51" width="17.01" height="0.65" fill="#eddca9"/>
<rect x="569.71" y="208.51" width="17.01" height="0.65" fill="#edeabe"/>
<rect x="586.67" y="208.51" width="17.01" height="0.65" fill="#cbe0e6"/>
<rect x="603.62" y="208.51" width="17.01" height="0.65" fill="#cce1e6"/>
<rect x="620.58" y="208.51" width="17.01" height="0.65" fill="#eac192"/>
<rect x="637.54" y="208.51" width="17.01" height="0.65" fill="#e8af89"/>
<rect x="451.00" y="209.10" width="17.01" height="0.65" fill="#d4e6e9"/>
<rect x="467.96" y="209.10" width="17.01" height="0.65" fill="#cce0e6"/>
<rect x="484.92" y="209.10" width="17.01" height="0.65" fill="#d5e7e9"/>
<rect x="501.88" y="209.10" width="17.01" height="0.65" fill="#cadfe6"/>
<rect x="518.83" y="209.10" width="17.01" height="0.65" fill="#ebc292"/>
<rect x="535.79" y="209.10" width="17.01" height="0.65" fill="#eabd8f"/>
<rect x="552.75" y="209.10" width="17.01" height="0.65" fill="#e9b98d"/>
<rect x="569.71" y="209.10" width="17.01" height="0.65" fill="#ede9bc"/>
<rect x="586.67" y="209.10" width="17.01" height="0.65" fill="#cadfe6"/>
<rect x="603.62" y="209.10" width="17.01" height="0.65" fill="#c8dee5"/>
<rect x="620.58" y="209.10" width="17.01" height="0.65" fill="#e7ab88"/>
<rect x="637.54" y="209.10" width="17.01" height="0.65" fill="#e7ab88"/>
<rect x="451.00" y="209.70" width="17.01" height="0.65" fill="#c9dfe5"/>
<rect x="467.96" y="209.70" width="17.01" height="0.65" fill="#c5dbe4"/>
<rect x="484.92" y="209.70" width="17.01" height="0.65" fill="#c5dce4"/>
<rect x="501.88" y="209.70" width="17.01" height="0.65" fill="#cbe0e6"/>
<rect x="518.83" y="209.70" width="17.01" height="0.65" fill="#ebc695"/>
<rect x="535.79" y="209.70" width="17.01" height="0.65" fill="#e9b98d"/>
<rect x="552.75" y="209.70" width="17.01" height="0.65" fill="#ebc696"/>
<rect x="569.71" y="209.70" width="17.01" height="0.65" fill="#ede9bc"/>
<rect x="586.67" y="209.70" width="17.01" height="0.65" fill="#c0d8e2"/>
<rect x="603.62" y="209.70" width="17.01" height="0.65" fill="#c8dde5"/>
<rect x="620.58" y="209.70" width="17.01" height="0.65" fill="#e9b78c"/>
<rect x="637.54" y="209.70" width="17.01" height="0.65" fill="#e6a485"/>
<rect x="451.00" y="210.30" width="17.01" height="0.65" fill="#d8e8e7"/>
<rect x="467.96" y="210.30" width="17.01" height="0.65" fill="#c4dbe3"/>
<rect x="484.92" y="210.30" width="17.01" height="0.65" fill="#c9dee5"/>
<rect x="501.88" y="210.30" width="17.01" height="0.65" fill="#cbe0e6"/>
<rect x="518.83" y="210.30" width="17.01" height="0.65" fill="#eee1af"/>
<rect x="535.79" y="210.30" width="17.01" height="0.65" fill="#ecd09d"/>
<rect x="552.75" y="210.30" width="17.01" height="0.65" fill="#e9b68c"/>
<rect x="569.71" y="210.30" width="17.01" height="0.65" fill="#ebca98"/>
<rect x="586.67" y="210.30" width="17.01" height="0.65" fill="#e3eee2"/>
<rect x="603.62" y="210.30" width="17.01" height="0.65" fill="#dfece5"/>
<rect x="620.58" y="210.30" width="17.01" height="0.65" fill="#e5efde"/>
<rect x="637.54" y="210.30" width="17.01" height="0.65" fill="#e1eee4"/>
<rect x="451.00" y="210.90" width="17.01" height="0.65" fill="#dfece5"/>
<rect x="467.96" y="210.90" width="17.01" height="0.65" fill="#d7e7e8"/>
<rect x="484.92" y="210.90" width="17.01" height="0.65" fill="#d4e6e9"/>
<rect x="501.88" y="210.90" width="17.01" height="0.65" fill="#d7e8e8"/>
<rect x="518.83" y="210.90" width="17.01" height="0.65" fill="#eac091"/>
<rect x="535.79" y="210.90" width="17.01" height="0.65" fill="#ebc897"/>
<rect x="552.75" y="210.90" width="17.01" height="0.65" fill="#e18771"/>
<rect x="569.71" y="210.90" width="17.01" height="0.65" fill="#e28972"/>
<rect x="586.67" y="210.90" width="17.01" height="0.65" fill="#edecc3"/>
<rect x="603.62" y="210.90" width="17.01" height="0.65" fill="#ededc6"/>
<rect x="620.58" y="210.90" width="17.01" height="0.65" fill="#edefc9"/>
<rect x="637.54" y="210.90" width="17.01" height="0.65" fill="#eaf1d6"/>
<rect x="451.00" y="211.49" width="17.01" height="0.65" fill="#e0ede5"/>
<rect x="467.96" y="211.49" width="17.01" height="0.65" fill="#cde1e6"/>
<rect x="484.92" y="211.49" width="17.01" height="0.65" fill="#d8e8e8"/>
<rect x="501.88" y="211.49" width="17.01" height="0.65" fill="#cce0e6"/>
<rect x="518.83" y="211.49" width="17.01" height="0.65" fill="#ebc292"/>
<rect x="535.79" y="211.49" width="17.01" height="0.65" fill="#eabd8f"/>
<rect x="552.75" y="211.49" width="17.01" height="0.65" fill="#df735f"/>
<rect x="569.71" y="211.49" width="17.01" height="0.65" fill="#e6a686"/>
<rect x="586.67" y="211.49" width="17.01" height="0.65" fill="#e9f1d8"/>
<rect x="603.62" y="211.49" width="17.01" height="0.65" fill="#e9f1d8"/>
<rect x="620.58" y="211.49" width="17.01" height="0.65" fill="#e8f0d9"/>
<rect x="637.54" y="211.49" width="17.01" height="0.65" fill="#e2eee4"/>
<rect x="451.00" y="212.09" width="17.01" height="0.65" fill="#dfece5"/>
<rect x="467.96" y="212.09" width="17.01" height="0.65" fill="#d7e8e8"/>
<rect x="484.92" y="212.09" width="17.01" height="0.65" fill="#d6e7e8"/>
<rect x="501.88" y="212.09" width="17.01" height="0.65" fill="#cce0e6"/>
<rect x="518.83" y="212.09" width="17.01" height="0.65" fill="#ecd5a1"/>
<rect x="535.79" y="212.09" width="17.01" height="0.65" fill="#ebc393"/>
<rect x="552.75" y="212.09" width="17.01" height="0.65" fill="#e28d75"/>
<rect x="569.71" y="212.09" width="17.01" height="0.65" fill="#e8af89"/>
<rect x="586.67" y="212.09" width="17.01" height="0.65" fill="#e7f0db"/>
<rect x="603.62" y="212.09" width="17.01" height="0.65" fill="#e1ede4"/>
<rect x="620.58" y="212.09" width="17.01" height="0.65" fill="#ecf0cc"/>
<rect x="637.54" y="212.09" width="17.01" height="0.65" fill="#e9f1d8"/>
<rect x="451.00" y="212.68" width="17.01" height="0.65" fill="#edeec7"/>
<rect x="467.96" y="212.68" width="17.01" height="0.65" fill="#dbeae7"/>
<rect x="484.92" y="212.68" width="17.01" height="0.65" fill="#e6f0dd"/>
<rect x="501.88" y="212.68" width="17.01" height="0.65" fill="#dcebe6"/>
<rect x="518.83" y="212.68" width="17.01" height="0.65" fill="#e5a083"/>
<rect x="535.79" y="212.68" width="17.01" height="0.65" fill="#e49e83"/>
<rect x="552.75" y="212.68" width="17.01" height="0.65" fill="#d84034"/>
<rect x="569.71" y="212.68" width="17.01" height="0.65" fill="#d84034"/>
<rect x="586.67" y="212.68" width="17.01" height="0.65" fill="#ebc896"/>
<rect x="603.62" y="212.68" width="17.01" height="0.65" fill="#ebc393"/>
<rect x="620.58" y="212.68" width="17.01" height="0.65" fill="#eee7b7"/>
<rect x="637.54" y="212.68" width="17.01" height="0.65" fill="#eee7b8"/>
<rect x="451.00" y="213.28" width="17.01" height="0.65" fill="#e3eee3"/>
<rect x="467.96" y="213.28" width="17.01" height="0.65" fill="#c1d9e2"/>
<rect x="484.92" y="213.28" width="17.01" height="0.65" fill="#d2e5e8"/>
<rect x="501.88" y="213.28" width="17.01" height="0.65" fill="#d0e3e8"/>
<rect x="518.83" y="213.28" width="17.01" height="0.65" fill="#ebc998"/>
<rect x="535.79" y="213.28" width="17.01" height="0.65" fill="#ecd4a0"/>
<rect x="552.75" y="213.28" width="17.01" height="0.65" fill="#e28f77"/>
<rect x="569.71" y="213.28" width="17.01" height="0.65" fill="#e9b98d"/>
<rect x="586.67" y="213.28" width="17.01" height="0.65" fill="#e0ede5"/>
<rect x="603.62" y="213.28" width="17.01" height="0.65" fill="#deece6"/>
<rect x="620.58" y="213.28" width="17.01" height="0.65" fill="#ecf1cf"/>
<rect x="637.54" y="213.28" width="17.01" height="0.65" fill="#ecf0ce"/>
<rect x="451.00" y="213.88" width="17.01" height="0.65" fill="#dcebe6"/>
<rect x="467.96" y="213.88" width="17.01" height="0.65" fill="#c9dfe5"/>
<rect x="484.92" y="213.88" width="17.01" height="0.65" fill="#dcebe6"/>
<rect x="501.88" y="213.88" width="17.01" height="0.65" fill="#d1e4e8"/>
<rect x="518.83" y="213.88" width="17.01" height="0.65" fill="#ecd39f"/>
<rect x="535.79" y="213.88" width="17.01" height="0.65" fill="#ecd6a2"/>
<rect x="552.75" y="213.88" width="17.01" height="0.65" fill="#e5a184"/>
<rect x="569.71" y="213.88" width="17.01" height="0.65" fill="#e6a686"/>
<rect x="586.67" y="213.88" width="17.01" height="0.65" fill="#ededc5"/>
<rect x="603.62" y="213.88" width="17.01" height="0.65" fill="#e6f0dd"/>
<rect x="620.58" y="213.88" width="17.01" height="0.65" fill="#e4efe0"/>
<rect x="637.54" y="213.88" width="17.01" height="0.65" fill="#e3eee2"/>
<rect x="451.00" y="214.47" width="17.01" height="0.65" fill="#deece5"/>
<rect x="467.96" y="214.47" width="17.01" height="0.65" fill="#bad4e0"/>
<rect x="484.92" y="214.47" width="17.01" height="0.65" fill="#cfe3e7"/>
<rect x="501.88" y="214.47" width="17.01" height="0.65" fill="#b2cfde"/>
<rect x="518.83" y="214.47" width="17.01" height="0.65" fill="#edeabe"/>
<rect x="535.79" y="214.47" width="17.01" height="0.65" fill="#eddaa7"/>
<rect x="552.75" y="214.47" width="17.01" height="0.65" fill="#e9b58b"/>
<rect x="569.71" y="214.47" width="17.01" height="0.65" fill="#eabc8e"/>
<rect x="586.67" y="214.47" width="17.01" height="0.65" fill="#dbeae7"/>
<rect x="603.62" y="214.47" width="17.01" height="0.65" fill="#d6e7e8"/>
<rect x="620.58" y="214.47" width="17.01" height="0.65" fill="#e4efe0"/>
<rect x="637.54" y="214.47" width="17.01" height="0.65" fill="#e3eee2"/>
<rect x="451.00" y="215.07" width="17.01" height="0.65" fill="#e2eee4"/>
<rect x="467.96" y="215.07" width="17.01" height="0.65" fill="#c7dde4"/>
<rect x="484.92" y="215.07" width="17.01" height="0.65" fill="#cde1e7"/>
<rect x="501.88" y="215.07" width="17.01" height="0.65" fill="#b0cede"/>
<rect x="518.83" y="215.07" width="17.01" height="0.65" fill="#eee8b9"/>
<rect x="535.79" y="215.07" width="17.01" height="0.65" fill="#eddfad"/>
<rect x="552.75" y="215.07" width="17.01" height="0.65" fill="#e6a886"/>
<rect x="569.71" y="215.07" width="17.01" height="0.65" fill="#ebcc99"/>
<rect x="586.67" y="215.07" width="17.01" height="0.65" fill="#d7e8e8"/>
<rect x="603.62" y="215.07" width="17.01" height="0.65" fill="#d1e4e8"/>
<rect x="620.58" y="215.07" width="17.01" height="0.65" fill="#e0ede5"/>
<rect x="637.54" y="215.07" width="17.01" height="0.65" fill="#e1ede4"/>
<rect x="451.00" y="215.66" width="17.01" height="0.65" fill="#d8e9e7"/>
<rect x="467.96" y="215.66" width="17.01" height="0.65" fill="#c8dee5"/>
<rect x="484.92" y="215.66" width="17.01" height="0.65" fill="#d3e6e9"/>
<rect x="501.88" y="215.66" width="17.01" height="0.65" fill="#c9dee5"/>
<rect x="518.83" y="215.66" width="17.01" height="0.65" fill="#eee2b0"/>
<rect x="535.79" y="215.66" width="17.01" height="0.65" fill="#eee2b0"/>
<rect x="552.75" y="215.66" width="17.01" height="0.65" fill="#e8b38b"/>
<rect x="569.71" y="215.66" width="17.01" height="0.65" fill="#ebc393"/>
<rect x="586.67" y="215.66" width="17.01" height="0.65" fill="#ddebe6"/>
<rect x="603.62" y="215.66" width="17.01" height="0.65" fill="#dcebe6"/>
<rect x="620.58" y="215.66" width="17.01" height="0.65" fill="#ecf2d2"/>
<rect x="637.54" y="215.66" width="17.01" height="0.65" fill="#e1eee4"/>
<rect x="451.00" y="216.26" width="17.01" height="0.65" fill="#e5efdf"/>
<rect x="467.96" y="216.26" width="17.01" height="0.65" fill="#cee2e7"/>
<rect x="484.92" y="216.26" width="17.01" height="0.65" fill="#cee2e7"/>
<rect x="501.88" y="216.26" width="17.01" height="0.65" fill="#c4dbe3"/>
<rect x="518.83" y="216.26" width="17.01" height="0.65" fill="#eee5b3"/>
<rect x="535.79" y="216.26" width="17.01" height="0.65" fill="#edd7a4"/>
<rect x="552.75" y="216.26" width="17.01" height="0.65" fill="#e49c82"/>
<rect x="569.71" y="216.26" width="17.01" height="0.65" fill="#eabc8e"/>
<rect x="586.67" y="216.26" width="17.01" height="0.65" fill="#dcebe6"/>
<rect x="603.62" y="216.26" width="17.01" height="0.65" fill="#e3eee3"/>
<rect x="620.58" y="216.26" width="17.01" height="0.65" fill="#e7f0db"/>
<rect x="637.54" y="216.26" width="17.01" height="0.65" fill="#e7f0dc"/>
<rect x="451.00" y="216.85" width="17.01" height="0.65" fill="#ecf0cd"/>
<rect x="467.96" y="216.85" width="17.01" height="0.65" fill="#cee2e7"/>
<rect x="484.92" y="216.85" width="17.01" height="0.65" fill="#dbeae7"/>
<rect x="501.88" y="216.85" width="17.01" height="0.65" fill="#cde1e7"/>
<rect x="518.83" y="216.85" width="17.01" height="0.65" fill="#eab98d"/>
<rect x="535.79" y="216.85" width="17.01" height="0.65" fill="#e9b78c"/>
<rect x="552.75" y="216.85" width="17.01" height="0.65" fill="#dc5e4e"/>
<rect x="569.71" y="216.85" width="17.01" height="0.65" fill="#e1856f"/>
<rect x="586.67" y="216.85" width="17.01" height="0.65" fill="#edeabd"/>
<rect x="603.62" y="216.85" width="17.01" height="0.65" fill="#eee3b1"/>
<rect x="620.58" y="216.85" width="17.01" height="0.65" fill="#edebc0"/>
<rect x="637.54" y="216.85" width="17.01" height="0.65" fill="#ecf0ce"/>
<rect x="451.00" y="217.45" width="17.01" height="0.65" fill="#dcebe6"/>
<rect x="467.96" y="217.45" width="17.01" height="0.65" fill="#c8dee5"/>
<rect x="484.92" y="217.45" width="17.01" height="0.65" fill="#cfe3e7"/>
<rect x="501.88" y="217.45" width="17.01" height="0.65" fill="#cbe0e6"/>
<rect x="518.83" y="217.45" width="17.01" height="0.65" fill="#eabb8d"/>
<rect x="535.79" y="217.45" width="17.01" height="0.65" fill="#ebc594"/>
<rect x="552.75" y="217.45" width="17.01" height="0.65" fill="#e18871"/>
<rect x="569.71" y="217.45" width="17.01" height="0.65" fill="#e9b58b"/>
<rect x="586.67" y="217.45" width="17.01" height="0.65" fill="#e3efe1"/>
<rect x="603.62" y="217.45" width="17.01" height="0.65" fill="#e6f0dd"/>
<rect x="620.58" y="217.45" width="17.01" height="0.65" fill="#eaf1d6"/>
<rect x="637.54" y="217.45" width="17.01" height="0.65" fill="#e1ede5"/>
<rect x="451.00" y="218.05" width="17.01" height="0.65" fill="#e8f1d9"/>
<rect x="467.96" y="218.05" width="17.01" height="0.65" fill="#dceae6"/>
<rect x="484.92" y="218.05" width="17.01" height="0.65" fill="#d0e3e7"/>
<rect x="501.88" y="218.05" width="17.01" height="0.65" fill="#d7e8e8"/>
<rect x="518.83" y="218.05" width="17.01" height="0.65" fill="#e7ae89"/>
<rect x="535.79" y="218.05" width="17.01" height="0.65" fill="#e6a887"/>
<rect x="552.75" y="218.05" width="17.01" height="0.65" fill="#d84034"/>
<rect x="569.71" y="218.05" width="17.01" height="0.65" fill="#de6a58"/>
<rect x="586.67" y="218.05" width="17.01" height="0.65" fill="#eddca9"/>
<rect x="603.62" y="218.05" width="17.01" height="0.65" fill="#edeabd"/>
<rect x="620.58" y="218.05" width="17.01" height="0.65" fill="#edeec7"/>
<rect x="637.54" y="218.05" width="17.01" height="0.65" fill="#e5efde"/>
<rect x="451.00" y="218.64" width="17.01" height="0.65" fill="#e8f0da"/>
<rect x="467.96" y="218.64" width="17.01" height="0.65" fill="#d2e4e8"/>
<rect x="484.92" y="218.64" width="17.01" height="0.65" fill="#d3e5e9"/>
<rect x="501.88" y="218.64" width="17.01" height="0.65" fill="#cfe3e7"/>
<rect x="518.83" y="218.64" width="17.01" height="0.65" fill="#e8b18a"/>
<rect x="535.79" y="218.64" width="17.01" height="0.65" fill="#e7ab88"/>
<rect x="552.75" y="218.64" width="17.01" height="0.65" fill="#dd6654"/>
<rect x="569.71" y="218.64" width="17.01" height="0.65" fill="#e07f6a"/>
<rect x="586.67" y="218.64" width="17.01" height="0.65" fill="#ecf2d1"/>
<rect x="603.62" y="218.64" width="17.01" height="0.65" fill="#eaf1d5"/>
<rect x="620.58" y="218.64" width="17.01" height="0.65" fill="#ecf1d0"/>
<rect x="637.54" y="218.64" width="17.01" height="0.65" fill="#e8f0d9"/>
<rect x="451.00" y="219.24" width="17.01" height="0.65" fill="#e0ede5"/>
<rect x="467.96" y="219.24" width="17.01" height="0.65" fill="#dbeae7"/>
<rect x="484.92" y="219.24" width="17.01" height="0.65" fill="#cde1e6"/>
<rect x="501.88" y="219.24" width="17.01" height="0.65" fill="#cce0e6"/>
<rect x="518.83" y="219.24" width="17.01" height="0.65" fill="#eccd9a"/>
<rect x="535.79" y="219.24" width="17.01" height="0.65" fill="#ebc998"/>
<rect x="552.75" y="219.24" width="17.01" height="0.65" fill="#e1856e"/>
<rect x="569.71" y="219.24" width="17.01" height="0.65" fill="#e5a184"/>
<rect x="586.67" y="219.24" width="17.01" height="0.65" fill="#e1ede4"/>
<rect x="603.62" y="219.24" width="17.01" height="0.65" fill="#e9f1d8"/>
<rect x="620.58" y="219.24" width="17.01" height="0.65" fill="#e7f0db"/>
<rect x="637.54" y="219.24" width="17.01" height="0.65" fill="#e8f1d9"/>
<rect x="451.00" y="219.83" width="17.01" height="0.65" fill="#d4e6e9"/>
<rect x="467.96" y="219.83" width="17.01" height="0.65" fill="#afcdde"/>
<rect x="484.92" y="219.83" width="17.01" height="0.65" fill="#cee2e7"/>
<rect x="501.88" y="219.83" width="17.01" height="0.65" fill="#c7dde4"/>
<rect x="518.83" y="219.83" width="17.01" height="0.65" fill="#edddaa"/>
<rect x="535.79" y="219.83" width="17.01" height="0.65" fill="#eee8b9"/>
<rect x="552.75" y="219.83" width="17.01" height="0.65" fill="#e7ad88"/>
<rect x="569.71" y="219.83" width="17.01" height="0.65" fill="#ebc292"/>
<rect x="586.67" y="219.83" width="17.01" height="0.65" fill="#d8e8e8"/>
<rect x="603.62" y="219.83" width="17.01" height="0.65" fill="#dae9e7"/>
<rect x="620.58" y="219.83" width="17.01" height="0.65" fill="#e7f0db"/>
<rect x="637.54" y="219.83" width="17.01" height="0.65" fill="#e4efe1"/>
<rect x="451.00" y="220.43" width="17.01" height="0.65" fill="#e5efdf"/>
<rect x="467.96" y="220.43" width="17.01" height="0.65" fill="#cbe0e6"/>
<rect x="484.92" y="220.43" width="17.01" height="0.65" fill="#d4e6e9"/>
<rect x="501.88" y="220.43" width="17.01" height="0.65" fill="#cfe3e7"/>
<rect x="518.83" y="220.43" width="17.01" height="0.65" fill="#ebc494"/>
<rect x="535.79" y="220.43" width="17.01" height="0.65" fill="#ebc293"/>
<rect x="552.75" y="220.43" width="17.01" height="0.65" fill="#e1856e"/>
<rect x="569.71" y="220.43" width="17.01" height="0.65" fill="#e6a786"/>
<rect x="586.67" y="220.43" width="17.01" height="0.65" fill="#eaf1d5"/>
<rect x="603.62" y="220.43" width="17.01" height="0.65" fill="#eee5b3"/>
<rect x="620.58" y="220.43" width="17.01" height="0.65" fill="#ecf0cc"/>
<rect x="637.54" y="220.43" width="17.01" height="0.65" fill="#ecf2d2"/>
<rect x="451.00" y="221.03" width="17.01" height="0.65" fill="#eee8ba"/>
<rect x="467.96" y="221.03" width="17.01" height="0.65" fill="#d3e6e9"/>
<rect x="484.92" y="221.03" width="17.01" height="0.65" fill="#e1ede5"/>
<rect x="501.88" y="221.03" width="17.01" height="0.65" fill="#deece6"/>
<rect x="518.83" y="221.03" width="17.01" height="0.65" fill="#e28e76"/>
<rect x="535.79" y="221.03" width="17.01" height="0.65" fill="#e18871"/>
<rect x="552.75" y="221.03" width="17.01" height="0.65" fill="#d84034"/>
<rect x="569.71" y="221.03" width="17.01" height="0.65" fill="#de6c5a"/>
<rect x="586.67" y="221.03" width="17.01" height="0.65" fill="#edd9a6"/>
<rect x="603.62" y="221.03" width="17.01" height="0.65" fill="#ecd09d"/>
<rect x="620.58" y="221.03" width="17.01" height="0.65" fill="#eee4b1"/>
<rect x="637.54" y="221.03" width="17.01" height="0.65" fill="#edeec8"/>
<rect x="451.00" y="221.62" width="17.01" height="0.65" fill="#dfece5"/>
<rect x="467.96" y="221.62" width="17.01" height="0.65" fill="#cde1e7"/>
<rect x="484.92" y="221.62" width="17.01" height="0.65" fill="#d4e6e9"/>
<rect x="501.88" y="221.62" width="17.01" height="0.65" fill="#cbe0e6"/>
<rect x="518.83" y="221.62" width="17.01" height="0.65" fill="#ecd5a1"/>
<rect x="535.79" y="221.62" width="17.01" height="0.65" fill="#eabe90"/>
<rect x="552.75" y="221.62" width="17.01" height="0.65" fill="#de6e5b"/>
<rect x="569.71" y="221.62" width="17.01" height="0.65" fill="#e7ac88"/>
<rect x="586.67" y="221.62" width="17.01" height="0.65" fill="#edefca"/>
<rect x="603.62" y="221.62" width="17.01" height="0.65" fill="#ecf2d1"/>
<rect x="620.58" y="221.62" width="17.01" height="0.65" fill="#ecf1cf"/>
<rect x="637.54" y="221.62" width="17.01" height="0.65" fill="#eaf1d5"/>
<rect x="451.00" y="222.22" width="17.01" height="0.65" fill="#e1eee4"/>
<rect x="467.96" y="222.22" width="17.01" height="0.65" fill="#d0e4e8"/>
<rect x="484.92" y="222.22" width="17.01" height="0.65" fill="#cadfe6"/>
<rect x="501.88" y="222.22" width="17.01" height="0.65" fill="#d6e7e8"/>
<rect x="518.83" y="222.22" width="17.01" height="0.65" fill="#ebc393"/>
<rect x="535.79" y="222.22" width="17.01" height="0.65" fill="#eac091"/>
<rect x="552.75" y="222.22" width="17.01" height="0.65" fill="#df7662"/>
<rect x="569.71" y="222.22" width="17.01" height="0.65" fill="#e7ac88"/>
<rect x="586.67" y="222.22" width="17.01" height="0.65" fill="#e3efe2"/>
<rect x="603.62" y="222.22" width="17.01" height="0.65" fill="#e2eee4"/>
<rect x="620.58" y="222.22" width="17.01" height="0.65" fill="#e3eee3"/>
<rect x="637.54" y="222.22" width="17.01" height="0.65" fill="#e6efdd"/>
<rect x="451.00" y="222.81" width="17.01" height="0.65" fill="#e6f0dd"/>
<rect x="467.96" y="222.81" width="17.01" height="0.65" fill="#c3dae3"/>
<rect x="484.92" y="222.81" width="17.01" height="0.65" fill="#deebe6"/>
<rect x="501.88" y="222.81" width="17.01" height="0.65" fill="#dae9e7"/>
<rect x="518.83" y="222.81" width="17.01" height="0.65" fill="#ebc896"/>
<rect x="535.79" y="222.81" width="17.01" height="0.65" fill="#eabd8f"/>
<rect x="552.75" y="222.81" width="17.01" height="0.65" fill="#df7763"/>
<rect x="569.71" y="222.81" width="17.01" height="0.65" fill="#e6a485"/>
<rect x="586.67" y="222.81" width="17.01" height="0.65" fill="#ecf1d0"/>
<rect x="603.62" y="222.81" width="17.01" height="0.65" fill="#ecf1cf"/>
<rect x="620.58" y="222.81" width="17.01" height="0.65" fill="#e7f0db"/>
<rect x="637.54" y="222.81" width="17.01" height="0.65" fill="#eaf1d5"/>
<rect x="451.00" y="223.41" width="17.01" height="0.65" fill="#e4efe1"/>
<rect x="467.96" y="223.41" width="17.01" height="0.65" fill="#cadfe5"/>
<rect x="484.92" y="223.41" width="17.01" height="0.65" fill="#d4e6e9"/>
<rect x="501.88" y="223.41" width="17.01" height="0.65" fill="#cfe3e7"/>
<rect x="518.83" y="223.41" width="17.01" height="0.65" fill="#ebc393"/>
<rect x="535.79" y="223.41" width="17.01" height="0.65" fill="#ebc997"/>
<rect x="552.75" y="223.41" width="17.01" height="0.65" fill="#df7864"/>
<rect x="569.71" y="223.41" width="17.01" height="0.65" fill="#e49e83"/>
<rect x="586.67" y="223.41" width="17.01" height="0.65" fill="#ededc6"/>
<rect x="603.62" y="223.41" width="17.01" height="0.65" fill="#ecf2d2"/>
<rect x="620.58" y="223.41" width="17.01" height="0.65" fill="#e9f1d8"/>
<rect x="637.54" y="223.41" width="17.01" height="0.65" fill="#e8f0d9"/>
<rect x="451.00" y="224.00" width="17.01" height="0.65" fill="#ecefcb"/>
<rect x="467.96" y="224.00" width="17.01" height="0.65" fill="#d2e5e8"/>
<rect x="484.92" y="224.00" width="17.01" height="0.65" fill="#d4e6e9"/>
<rect x="501.88" y="224.00" width="17.01" height="0.65" fill="#d5e7e9"/>
<rect x="518.83" y="224.00" width="17.01" height="0.65" fill="#eabc8e"/>
<rect x="535.79" y="224.00" width="17.01" height="0.65" fill="#eabe8f"/>
<rect x="552.75" y="224.00" width="17.01" height="0.65" fill="#de705d"/>
<rect x="569.71" y="224.00" width="17.01" height="0.65" fill="#e49a80"/>
<rect x="586.67" y="224.00" width="17.01" height="0.65" fill="#eee6b4"/>
<rect x="603.62" y="224.00" width="17.01" height="0.65" fill="#edefca"/>
<rect x="620.58" y="224.00" width="17.01" height="0.65" fill="#eaf1d5"/>
<rect x="637.54" y="224.00" width="17.01" height="0.65" fill="#edeec8"/>
<line x1="467.96" y1="137.90" x2="467.96" y2="224.60" stroke="#ffffff" stroke-width="0.35" stroke-opacity="0.35"/>
<line x1="484.92" y1="137.90" x2="484.92" y2="224.60" stroke="#ffffff" stroke-width="0.35" stroke-opacity="0.35"/>
<line x1="501.88" y1="137.90" x2="501.88" y2="224.60" stroke="#ffffff" stroke-width="0.35" stroke-opacity="0.35"/>
<line x1="518.83" y1="137.90" x2="518.83" y2="224.60" stroke="#ffffff" stroke-width="0.35" stroke-opacity="0.35"/>
<line x1="535.79" y1="137.90" x2="535.79" y2="224.60" stroke="#ffffff" stroke-width="0.35" stroke-opacity="0.35"/>
<line x1="552.75" y1="137.90" x2="552.75" y2="224.60" stroke="#ffffff" stroke-width="0.35" stroke-opacity="0.35"/>
<line x1="569.71" y1="137.90" x2="569.71" y2="224.60" stroke="#ffffff" stroke-width="0.35" stroke-opacity="0.35"/>
<line x1="586.67" y1="137.90" x2="586.67" y2="224.60" stroke="#ffffff" stroke-width="0.35" stroke-opacity="0.35"/>
<line x1="603.62" y1="137.90" x2="603.62" y2="224.60" stroke="#ffffff" stroke-width="0.35" stroke-opacity="0.35"/>
<line x1="620.58" y1="137.90" x2="620.58" y2="224.60" stroke="#ffffff" stroke-width="0.35" stroke-opacity="0.35"/>
<line x1="637.54" y1="137.90" x2="637.54" y2="224.60" stroke="#ffffff" stroke-width="0.35" stroke-opacity="0.35"/>
<defs><linearGradient id="zg" x1="0" y1="1" x2="0" y2="0"><stop offset="0.000" stop-color="#4673b4"/><stop offset="0.167" stop-color="#96bed7"/><stop offset="0.333" stop-color="#d7ebf0"/><stop offset="0.500" stop-color="#f5f8c8"/><stop offset="0.575" stop-color="#f0ee96"/><stop offset="0.667" stop-color="#f0d282"/><stop offset="0.833" stop-color="#ec8c5a"/><stop offset="1.000" stop-color="#d8382c"/></linearGradient></defs>
<rect x="657.30" y="137.90" width="5.60" height="83.80" fill="url(#zg)"/>
<text x="665.30" y="141.40" font-size="8.8" text-anchor="start" fill="#000" stroke="#000" font-weight="bold">2</text>
<text x="665.30" y="162.10" font-size="8.8" text-anchor="start" fill="#000" stroke="#000" font-weight="bold">1</text>
<text x="665.30" y="182.80" font-size="8.8" text-anchor="start" fill="#000" stroke="#000" font-weight="bold">0</text>
<text x="665.30" y="203.50" font-size="8.8" text-anchor="start" fill="#000" stroke="#000" font-weight="bold">-1</text>
<text x="665.30" y="224.30" font-size="8.8" text-anchor="start" fill="#000" stroke="#000" font-weight="bold">-2</text>
<text x="669.80" y="130.50" font-size="9.5" text-anchor="start" fill="#000" stroke="#000" font-weight="bold" transform="rotate(-90 669.8 130.5)">Z score</text>
<text x="0" y="0" font-size="14.2" font-weight="bold" fill="#000" stroke="#000" transform="translate(3.9 189.4) scale(0.92 1)">C</text>
<text x="240.00" y="183.60" font-size="9.35" text-anchor="middle" fill="#ff1a0c" stroke="#ff1a0c" font-weight="bold">m6A down-regulated</text>
<text x="240.00" y="194.20" font-size="9.35" text-anchor="middle" fill="#ff1a0c" stroke="#ff1a0c" font-weight="bold">Cluster 1</text>
<text x="88.80" y="210.10" font-size="9.3" text-anchor="end" fill="#000" stroke="#000" font-weight="bold">WT</text>
<text x="88.80" y="221.90" font-size="9.3" text-anchor="end" fill="#000" stroke="#000" font-weight="bold"><tspan font-style="italic">Mat2b</tspan> KO #1</text>
<text x="88.80" y="233.20" font-size="9.3" text-anchor="end" fill="#000" stroke="#000" font-weight="bold"><tspan font-style="italic">Mat2b</tspan> KO #2</text>
<text x="88.80" y="244.20" font-size="9.3" text-anchor="end" fill="#000" stroke="#000" font-weight="bold">KO + MAT2B</text>
<text x="88.80" y="255.30" font-size="9.3" text-anchor="end" fill="#000" stroke="#000" font-weight="bold">KO + MAT2B&#916;35-41</text>
<text x="95.00" y="207.60" font-size="9.2" text-anchor="start" fill="#000" stroke="#000" font-weight="bold">0-14</text>
<text x="183.50" y="207.60" font-size="9.2" text-anchor="start" fill="#000" stroke="#000" font-weight="bold">0-25</text>
<text x="280.00" y="207.60" font-size="9.2" text-anchor="start" fill="#000" stroke="#000" font-weight="bold">0-23</text>
<line x1="95.00" y1="209.20" x2="181.90" y2="209.20" stroke="#3d9b2c" stroke-width="0.9" stroke-opacity="0.8"/>
<line x1="95.00" y1="220.40" x2="181.90" y2="220.40" stroke="#f0585c" stroke-width="0.9" stroke-opacity="0.8"/>
<line x1="95.00" y1="231.10" x2="181.90" y2="231.10" stroke="#f2a8b0" stroke-width="0.9" stroke-opacity="0.8"/>
<line x1="95.00" y1="242.30" x2="181.90" y2="242.30" stroke="#3a7ccf" stroke-width="0.9" stroke-opacity="0.8"/>
<line x1="95.00" y1="253.50" x2="181.90" y2="253.50" stroke="#5aaeea" stroke-width="1.1" stroke-opacity="0.8"/>
<line x1="188.50" y1="209.20" x2="274.30" y2="209.20" stroke="#3d9b2c" stroke-width="0.9" stroke-opacity="0.8"/>
<line x1="188.50" y1="220.40" x2="274.30" y2="220.40" stroke="#f0585c" stroke-width="0.9" stroke-opacity="0.8"/>
<line x1="188.50" y1="231.10" x2="274.30" y2="231.10" stroke="#f2a8b0" stroke-width="0.9" stroke-opacity="0.8"/>
<line x1="188.50" y1="242.30" x2="274.30" y2="242.30" stroke="#3a7ccf" stroke-width="0.9" stroke-opacity="0.8"/>
<line x1="188.50" y1="253.50" x2="274.30" y2="253.50" stroke="#5aaeea" stroke-width="1.1" stroke-opacity="0.8"/>
<line x1="280.00" y1="209.20" x2="366.20" y2="209.20" stroke="#3d9b2c" stroke-width="0.9" stroke-opacity="0.8"/>
<line x1="280.00" y1="220.40" x2="366.20" y2="220.40" stroke="#f0585c" stroke-width="0.9" stroke-opacity="0.8"/>
<line x1="280.00" y1="231.10" x2="366.20" y2="231.10" stroke="#f2a8b0" stroke-width="0.9" stroke-opacity="0.8"/>
<line x1="280.00" y1="242.30" x2="366.20" y2="242.30" stroke="#3a7ccf" stroke-width="0.9" stroke-opacity="0.8"/>
<line x1="280.00" y1="253.50" x2="366.20" y2="253.50" stroke="#5aaeea" stroke-width="1.1" stroke-opacity="0.8"/>
<path d="M97.30 209.60 Q97.50 207.90 98.30 207.90 Q99.10 207.90 99.30 209.60 Z" fill="#3d9b2c"/>
<path d="M103.10 209.60 Q103.30 208.10 104.10 208.10 Q104.90 208.10 105.10 209.60 Z" fill="#3d9b2c"/>
<path d="M108.70 209.60 Q108.86 208.60 109.50 208.60 Q110.14 208.60 110.30 209.60 Z" fill="#3d9b2c"/>
<path d="M114.90 209.60 Q115.06 208.60 115.70 208.60 Q116.34 208.60 116.50 209.60 Z" fill="#3d9b2c"/>
<path d="M118.90 209.60 Q119.04 209.00 119.60 209.00 Q120.16 209.00 120.30 209.60 Z" fill="#3d9b2c"/>
<path d="M123.90 209.60 Q124.11 207.60 124.95 207.60 Q125.79 207.60 126.00 209.60 Z" fill="#3d9b2c"/>
<path d="M131.70 209.60 Q131.89 208.10 132.65 208.10 Q133.41 208.10 133.60 209.60 Z" fill="#3d9b2c"/>
<path d="M134.80 209.60 Q135.28 205.90 137.20 205.90 Q139.12 205.90 139.60 209.60 Z" fill="#3d9b2c"/>
<path d="M140.60 209.60 L141.62 205.55 L142.13 200.60 L142.71 205.10 L144.00 209.60 Z" fill="#3d9b2c"/>
<path d="M153.80 209.60 L153.99 207.40 L156.01 207.40 L156.20 209.60 Z" fill="#3d9b2c"/>
<path d="M157.00 209.60 L157.90 206.85 L158.35 203.50 L158.86 206.55 L160.00 209.60 Z" fill="#3d9b2c"/>
<path d="M204.50 209.60 Q204.95 208.40 206.75 208.40 Q208.55 208.40 209.00 209.60 Z" fill="#3d9b2c"/>
<path d="M239.60 209.60 L240.20 205.78 L240.50 201.10 L240.84 205.35 L241.60 209.60 Z" fill="#3d9b2c"/>
<path d="M318.00 209.60 Q318.50 209.20 320.50 209.20 Q322.50 209.20 323.00 209.60 Z" fill="#3d9b2c"/>
<path d="M330.00 209.60 Q330.30 208.00 331.50 208.00 Q332.70 208.00 333.00 209.60 Z" fill="#3d9b2c"/>
<path d="M338.60 209.60 L339.28 204.60 L346.42 204.60 L347.10 209.60 Z" fill="#3d9b2c"/>
<path d="M338.80 209.60 L339.61 206.50 L340.01 202.70 L340.47 206.15 L341.50 209.60 Z" fill="#3d9b2c"/>
<path d="M344.20 209.60 L345.04 206.50 L345.46 202.70 L345.94 206.15 L347.00 209.60 Z" fill="#3d9b2c"/>
<path d="M107.00 220.80 L107.16 217.20 L108.84 217.20 L109.00 220.80 Z" fill="#f0585c"/>
<path d="M119.00 220.80 Q119.14 219.60 119.70 219.60 Q120.26 219.60 120.40 220.80 Z" fill="#f0585c"/>
<path d="M124.60 220.80 Q124.89 217.90 126.05 217.90 Q127.21 217.90 127.50 220.80 Z" fill="#f0585c"/>
<path d="M132.00 220.80 Q132.18 220.00 132.90 220.00 Q133.62 220.00 133.80 220.80 Z" fill="#f0585c"/>
<path d="M135.80 220.80 L135.99 218.50 L138.01 218.50 L138.20 220.80 Z" fill="#f0585c"/>
<path d="M140.60 220.80 L141.56 218.55 L142.04 215.80 L142.58 218.30 L143.80 220.80 Z" fill="#f0585c"/>
<path d="M157.70 220.80 L157.89 219.30 L159.91 219.30 L160.10 220.80 Z" fill="#f0585c"/>
<path d="M204.50 220.80 Q204.70 219.80 205.50 219.80 Q206.30 219.80 206.50 220.80 Z" fill="#f0585c"/>
<path d="M207.50 220.80 Q207.70 219.80 208.50 219.80 Q209.30 219.80 209.50 220.80 Z" fill="#f0585c"/>
<path d="M239.00 220.80 Q239.30 219.80 240.50 219.80 Q241.70 219.80 242.00 220.80 Z" fill="#f0585c"/>
<path d="M245.00 220.80 Q245.20 220.20 246.00 220.20 Q246.80 220.20 247.00 220.80 Z" fill="#f0585c"/>
<path d="M339.50 220.80 Q339.70 219.80 340.50 219.80 Q341.30 219.80 341.50 220.80 Z" fill="#f0585c"/>
<path d="M342.00 220.80 Q342.20 220.30 343.00 220.30 Q343.80 220.30 344.00 220.80 Z" fill="#f0585c"/>
<path d="M101.00 231.50 Q101.10 231.00 101.50 231.00 Q101.90 231.00 102.00 231.50 Z" fill="#f2a8b0"/>
<path d="M114.50 231.50 Q114.65 230.70 115.25 230.70 Q115.85 230.70 116.00 231.50 Z" fill="#f2a8b0"/>
<path d="M119.00 231.50 Q119.15 231.00 119.75 231.00 Q120.35 231.00 120.50 231.50 Z" fill="#f2a8b0"/>
<path d="M126.00 231.50 Q126.15 230.60 126.75 230.60 Q127.35 230.60 127.50 231.50 Z" fill="#f2a8b0"/>
<path d="M141.20 231.50 L141.32 229.50 L142.58 229.50 L142.70 231.50 Z" fill="#f2a8b0"/>
<path d="M157.70 231.50 Q157.90 230.50 158.70 230.50 Q159.50 230.50 159.70 231.50 Z" fill="#f2a8b0"/>
<path d="M205.00 231.50 Q205.20 230.70 206.00 230.70 Q206.80 230.70 207.00 231.50 Z" fill="#f2a8b0"/>
<path d="M239.70 231.50 L240.06 230.78 L240.24 229.90 L240.44 230.70 L240.90 231.50 Z" fill="#f2a8b0"/>
<path d="M339.50 231.50 Q339.75 230.20 340.75 230.20 Q341.75 230.20 342.00 231.50 Z" fill="#f2a8b0"/>
<path d="M342.00 231.50 Q342.25 229.70 343.25 229.70 Q344.25 229.70 344.50 231.50 Z" fill="#f2a8b0"/>
<path d="M344.50 231.50 L345.10 230.33 L345.40 228.90 L345.74 230.20 L346.50 231.50 Z" fill="#f2a8b0"/>
<path d="M97.50 242.70 Q97.68 241.90 98.40 241.90 Q99.12 241.90 99.30 242.70 Z" fill="#3a7ccf"/>
<path d="M103.20 242.70 Q103.44 238.80 104.40 238.80 Q105.36 238.80 105.60 242.70 Z" fill="#3a7ccf"/>
<path d="M105.20 242.70 Q105.44 239.10 106.40 239.10 Q107.36 239.10 107.60 242.70 Z" fill="#3a7ccf"/>
<path d="M116.00 242.70 Q116.15 241.40 116.75 241.40 Q117.35 241.40 117.50 242.70 Z" fill="#3a7ccf"/>
<path d="M124.80 242.70 Q125.15 241.00 126.55 241.00 Q127.95 241.00 128.30 242.70 Z" fill="#3a7ccf"/>
<path d="M131.70 242.70 Q132.11 240.10 133.75 240.10 Q135.39 240.10 135.80 242.70 Z" fill="#3a7ccf"/>
<path d="M135.50 242.70 Q135.93 239.50 137.65 239.50 Q139.37 239.50 139.80 242.70 Z" fill="#3a7ccf"/>
<path d="M140.80 242.70 L141.70 240.09 L142.15 236.90 L142.66 239.80 L143.80 242.70 Z" fill="#3a7ccf"/>
<path d="M153.80 242.70 L153.98 240.50 L155.82 240.50 L156.00 242.70 Z" fill="#3a7ccf"/>
<path d="M157.00 242.70 L157.90 239.46 L158.35 235.50 L158.86 239.10 L160.00 242.70 Z" fill="#3a7ccf"/>
<path d="M205.50 242.70 L206.40 241.49 L206.85 240.00 L207.36 241.35 L208.50 242.70 Z" fill="#3a7ccf"/>
<path d="M239.40 242.70 L240.24 239.10 L240.66 234.70 L241.14 238.70 L242.20 242.70 Z" fill="#3a7ccf"/>
<path d="M241.50 242.70 Q241.75 240.20 242.75 240.20 Q243.75 240.20 244.00 242.70 Z" fill="#3a7ccf"/>
<path d="M249.50 242.70 Q249.65 242.30 250.25 242.30 Q250.85 242.30 251.00 242.70 Z" fill="#3a7ccf"/>
<path d="M329.50 242.70 Q329.80 240.70 331.00 240.70 Q332.20 240.70 332.50 242.70 Z" fill="#3a7ccf"/>
<path d="M333.00 242.70 Q333.15 242.10 333.75 242.10 Q334.35 242.10 334.50 242.70 Z" fill="#3a7ccf"/>
<path d="M338.50 242.70 L339.85 239.42 L340.52 235.40 L341.29 239.05 L343.00 242.70 Z" fill="#3a7ccf"/>
<path d="M343.80 242.70 L344.70 240.90 L345.15 238.70 L345.66 240.70 L346.80 242.70 Z" fill="#3a7ccf"/>
<path d="M124.90 253.90 L125.11 250.50 L127.29 250.50 L127.50 253.90 Z" fill="#5aaeea"/>
<path d="M127.50 253.90 L127.76 252.70 L130.44 252.70 L130.70 253.90 Z" fill="#5aaeea"/>
<path d="M132.60 253.90 L133.26 251.06 L133.59 247.60 L133.96 250.75 L134.80 253.90 Z" fill="#5aaeea"/>
<path d="M141.20 253.90 L141.40 250.50 L143.50 250.50 L143.70 253.90 Z" fill="#5aaeea"/>
<path d="M153.80 253.90 Q153.97 253.40 154.65 253.40 Q155.33 253.40 155.50 253.90 Z" fill="#5aaeea"/>
<path d="M157.20 253.90 L157.92 252.78 L158.28 251.40 L158.69 252.65 L159.60 253.90 Z" fill="#5aaeea"/>
<path d="M175.00 253.90 Q175.15 252.40 175.75 252.40 Q176.35 252.40 176.50 253.90 Z" fill="#5aaeea"/>
<path d="M204.20 253.90 Q204.44 252.90 205.40 252.90 Q206.36 252.90 206.60 253.90 Z" fill="#5aaeea"/>
<path d="M207.20 253.90 Q207.46 252.90 208.50 252.90 Q209.54 252.90 209.80 253.90 Z" fill="#5aaeea"/>
<path d="M239.60 253.90 L240.26 252.91 L240.59 251.70 L240.96 252.80 L241.80 253.90 Z" fill="#5aaeea"/>
<path d="M340.00 253.90 Q340.20 253.20 341.00 253.20 Q341.80 253.20 342.00 253.90 Z" fill="#5aaeea"/>
<path d="M344.50 253.90 L344.62 251.40 L345.88 251.40 L346.00 253.90 Z" fill="#5aaeea"/>
<rect x="280.00" y="241.60" width="86.20" height="1.40" fill="#cfe0f2"/>
<line x1="96.00" y1="257.10" x2="160.00" y2="257.10" stroke="#1c1ce6" stroke-width="0.9"/>
<rect x="98.00" y="255.50" width="7.60" height="3.20" fill="#1c1ce6" rx="0.5"/>
<rect x="109.20" y="255.40" width="0.80" height="3.40" fill="#1c1ce6" rx="0.5"/>
<rect x="113.60" y="255.40" width="4.10" height="3.40" fill="#1c1ce6" rx="0.5"/>
<rect x="126.90" y="255.40" width="0.80" height="3.40" fill="#1c1ce6" rx="0.5"/>
<rect x="133.10" y="255.40" width="1.00" height="3.40" fill="#1c1ce6" rx="0.5"/>
<rect x="141.00" y="255.40" width="2.70" height="3.40" fill="#1c1ce6" rx="0.5"/>
<rect x="152.30" y="255.40" width="0.90" height="3.40" fill="#1c1ce6" rx="0.5"/>
<rect x="154.30" y="255.40" width="1.40" height="3.40" fill="#1c1ce6" rx="0.5"/>
<rect x="157.60" y="255.40" width="1.60" height="3.40" fill="#1c1ce6" rx="0.5"/>
<path d="M96.4 257.1 L98.4 255.5 L98.4 258.7 Z" fill="#1c1ce6"/>
<path d="M112.6 257.1 L114.0 255.4 L114.0 258.8 Z" fill="#1c1ce6"/>
<path d="M159.0 255.4 L160.6 257.1 L159.0 258.8 Z" fill="#1c1ce6"/>
<path d="M107.8 256.3 L106.8 257.1 L107.8 257.9" fill="none" stroke="#1c1ce6" stroke-width="0.6"/>
<path d="M122.0 256.3 L121.0 257.1 L122.0 257.9" fill="none" stroke="#1c1ce6" stroke-width="0.6"/>
<path d="M131.0 256.3 L130.0 257.1 L131.0 257.9" fill="none" stroke="#1c1ce6" stroke-width="0.6"/>
<path d="M138.0 256.3 L137.0 257.1 L138.0 257.9" fill="none" stroke="#1c1ce6" stroke-width="0.6"/>
<path d="M148.0 256.3 L147.0 257.1 L148.0 257.9" fill="none" stroke="#1c1ce6" stroke-width="0.6"/>
<line x1="204.50" y1="257.40" x2="258.80" y2="257.40" stroke="#1c1ce6" stroke-width="0.7"/>
<rect x="204.30" y="256.00" width="3.60" height="2.80" fill="#1c1ce6"/>
<rect x="238.80" y="255.90" width="20.00" height="3.00" fill="#1c1ce6"/>
<path d="M214.5 256.7 L213.5 257.4 L214.5 258.1" fill="none" stroke="#1c1ce6" stroke-width="0.5"/>
<path d="M222.5 256.7 L221.5 257.4 L222.5 258.1" fill="none" stroke="#1c1ce6" stroke-width="0.5"/>
<path d="M230.5 256.7 L229.5 257.4 L230.5 258.1" fill="none" stroke="#1c1ce6" stroke-width="0.5"/>
<line x1="301.40" y1="258.00" x2="344.50" y2="258.00" stroke="#1c1ce6" stroke-width="0.5" stroke-dasharray="1.5 1.2"/>
<rect x="330.10" y="256.40" width="2.90" height="3.40" fill="#1c1ce6" rx="0.6"/>
<rect x="338.90" y="256.20" width="5.80" height="3.60" fill="#1c1ce6" rx="0.6"/>
<text x="132.00" y="272.20" font-size="9.4" text-anchor="middle" fill="#000" stroke="#000" font-weight="bold"><tspan font-style="italic">Pcolce</tspan></text>
<text x="232.00" y="272.20" font-size="9.4" text-anchor="middle" fill="#000" stroke="#000" font-weight="bold"><tspan font-style="italic">Gng11</tspan></text>
<text x="321.70" y="272.20" font-size="9.4" text-anchor="middle" fill="#000" stroke="#000" font-weight="bold"><tspan font-style="italic">Rfpl4a</tspan></text>
<text x="10.50" y="308.10" font-size="14.2" text-anchor="start" fill="#000" stroke="#000" font-weight="bold">D</text>
<text x="92.20" y="310.20" font-size="9.35" text-anchor="middle" fill="#ff1a0c" stroke="#ff1a0c" font-weight="bold">m6A down-regulated</text>
<text x="92.20" y="321.30" font-size="9.35" text-anchor="middle" fill="#ff1a0c" stroke="#ff1a0c" font-weight="bold">Cluster 1</text>
<line x1="30.80" y1="333.20" x2="30.80" y2="434.90" stroke="#000" stroke-width="2"/>
<line x1="29.80" y1="433.90" x2="147.00" y2="433.90" stroke="#000" stroke-width="2"/>
<line x1="27.60" y1="335.90" x2="30.80" y2="335.90" stroke="#000" stroke-width="1.9"/>
<text x="25.80" y="339.00" font-size="9.3" text-anchor="end" fill="#000" stroke="#000" font-weight="bold">50</text>
<line x1="27.60" y1="354.00" x2="30.80" y2="354.00" stroke="#000" stroke-width="1.9"/>
<text x="25.80" y="357.10" font-size="9.3" text-anchor="end" fill="#000" stroke="#000" font-weight="bold">40</text>
<line x1="27.60" y1="372.10" x2="30.80" y2="372.10" stroke="#000" stroke-width="1.9"/>
<text x="25.80" y="375.20" font-size="9.3" text-anchor="end" fill="#000" stroke="#000" font-weight="bold">30</text>
<line x1="27.60" y1="390.20" x2="30.80" y2="390.20" stroke="#000" stroke-width="1.9"/>
<text x="25.80" y="393.30" font-size="9.3" text-anchor="end" fill="#000" stroke="#000" font-weight="bold">20</text>
<line x1="27.60" y1="408.30" x2="30.80" y2="408.30" stroke="#000" stroke-width="1.9"/>
<text x="25.80" y="411.40" font-size="9.3" text-anchor="end" fill="#000" stroke="#000" font-weight="bold">10</text>
<line x1="27.60" y1="426.40" x2="30.80" y2="426.40" stroke="#000" stroke-width="1.9"/>
<text x="25.80" y="429.50" font-size="9.3" text-anchor="end" fill="#000" stroke="#000" font-weight="bold">0</text>
<text x="12.40" y="385.50" font-size="9.3" text-anchor="middle" fill="#000" stroke="#000" font-weight="bold" transform="rotate(-90 12.4 385.5)">mRNA half-life (h)</text>
<line x1="47.20" y1="433.90" x2="47.20" y2="436.50" stroke="#000" stroke-width="1.8"/>
<line x1="47.20" y1="367.10" x2="47.20" y2="398.00" stroke="#333" stroke-width="1.3"/>
<line x1="47.20" y1="420.30" x2="47.20" y2="426.00" stroke="#333" stroke-width="1.3"/>
<line x1="43.00" y1="367.10" x2="51.40" y2="367.10" stroke="#333" stroke-width="1.5"/>
<line x1="43.00" y1="426.00" x2="51.40" y2="426.00" stroke="#333" stroke-width="1.5"/>
<rect x="36.50" y="398.00" width="21.40" height="22.30" fill="#2f8a22" stroke="#333" stroke-width="1.5"/>
<line x1="37.10" y1="413.10" x2="57.30" y2="413.10" stroke="#333" stroke-width="2.6"/>
<text x="53.20" y="443.30" font-size="9" text-anchor="end" fill="#000" stroke="#000" font-weight="bold" transform="rotate(-50 53.2 443.3)">WT</text>
<line x1="75.00" y1="433.90" x2="75.00" y2="436.50" stroke="#000" stroke-width="1.8"/>
<line x1="75.00" y1="395.50" x2="75.00" y2="411.60" stroke="#333" stroke-width="1.3"/>
<line x1="75.00" y1="423.60" x2="75.00" y2="426.00" stroke="#333" stroke-width="1.3"/>
<line x1="70.80" y1="395.50" x2="79.20" y2="395.50" stroke="#333" stroke-width="1.5"/>
<line x1="70.80" y1="426.00" x2="79.20" y2="426.00" stroke="#333" stroke-width="1.5"/>
<rect x="64.30" y="411.60" width="21.40" height="12.00" fill="#f2626a" stroke="#333" stroke-width="1.5"/>
<line x1="64.90" y1="419.30" x2="85.10" y2="419.30" stroke="#333" stroke-width="2.6"/>
<text x="81.00" y="443.30" font-size="9" text-anchor="end" fill="#000" stroke="#000" font-weight="bold" transform="rotate(-50 81 443.3)"><tspan font-style="italic">Mat2b</tspan> KO</text>
<line x1="102.80" y1="433.90" x2="102.80" y2="436.50" stroke="#000" stroke-width="1.8"/>
<line x1="102.80" y1="392.00" x2="102.80" y2="408.40" stroke="#333" stroke-width="1.3"/>
<line x1="102.80" y1="421.90" x2="102.80" y2="426.60" stroke="#333" stroke-width="1.3"/>
<line x1="98.60" y1="392.00" x2="107.00" y2="392.00" stroke="#333" stroke-width="1.5"/>
<line x1="98.60" y1="426.60" x2="107.00" y2="426.60" stroke="#333" stroke-width="1.5"/>
<rect x="92.10" y="408.40" width="21.40" height="13.50" fill="#3b78cc" stroke="#333" stroke-width="1.5"/>
<line x1="92.70" y1="416.00" x2="112.90" y2="416.00" stroke="#333" stroke-width="2.6"/>
<text x="108.80" y="443.30" font-size="9" text-anchor="end" fill="#000" stroke="#000" font-weight="bold" transform="rotate(-50 108.8 443.3)">KO + MAT2B</text>
<line x1="130.60" y1="433.90" x2="130.60" y2="436.50" stroke="#000" stroke-width="1.8"/>
<line x1="130.60" y1="398.80" x2="130.60" y2="411.40" stroke="#333" stroke-width="1.3"/>
<line x1="130.60" y1="423.60" x2="130.60" y2="426.60" stroke="#333" stroke-width="1.3"/>
<line x1="126.40" y1="398.80" x2="134.80" y2="398.80" stroke="#333" stroke-width="1.5"/>
<line x1="126.40" y1="426.60" x2="134.80" y2="426.60" stroke="#333" stroke-width="1.5"/>
<rect x="119.90" y="411.40" width="21.40" height="12.20" fill="#4ea5ea" stroke="#333" stroke-width="1.5"/>
<line x1="120.50" y1="420.70" x2="140.70" y2="420.70" stroke="#333" stroke-width="2.6"/>
<text x="136.60" y="443.30" font-size="9" text-anchor="end" fill="#000" stroke="#000" font-weight="bold" transform="rotate(-50 136.6 443.3)">KO + MAT2B&#916;35-41</text>
<path d="M47.20 346.90 L47.20 341.50 L130.60 341.50 L130.60 346.90" fill="none" stroke="#222" stroke-width="1.2"/>
<text x="91.60" y="339.00" font-size="7.3" text-anchor="middle" fill="#000" stroke="#000" font-weight="bold"><tspan font-style="italic">p</tspan> = 0.0038</text>
<path d="M47.20 355.70 L47.20 350.30 L102.80 350.30 L102.80 355.70" fill="none" stroke="#222" stroke-width="1.2"/>
<text x="77.00" y="348.90" font-size="7.3" text-anchor="middle" fill="#000" stroke="#000" font-weight="bold"><tspan font-style="italic">p</tspan> = 0.64</text>
<path d="M47.20 364.10 L47.20 358.70 L75.00 358.70 L75.00 364.10" fill="none" stroke="#222" stroke-width="1.2"/>
<text x="69.20" y="357.30" font-size="7.3" text-anchor="middle" fill="#000" stroke="#000" font-weight="bold"><tspan font-style="italic">p</tspan> = 6.7e-05</text>
<text x="351.20" y="308.10" font-size="14.2" text-anchor="start" fill="#000" stroke="#000" font-weight="bold">F</text>
<text x="432.70" y="310.20" font-size="9.35" text-anchor="middle" fill="#ff1a0c" stroke="#ff1a0c" font-weight="bold">m6A up-regulated</text>
<text x="432.70" y="321.30" font-size="9.35" text-anchor="middle" fill="#ff1a0c" stroke="#ff1a0c" font-weight="bold">Cluster 3</text>
<line x1="376.20" y1="331.70" x2="376.20" y2="436.60" stroke="#000" stroke-width="2"/>
<line x1="375.20" y1="435.60" x2="495.30" y2="435.60" stroke="#000" stroke-width="2"/>
<line x1="373.00" y1="348.20" x2="376.20" y2="348.20" stroke="#000" stroke-width="1.9"/>
<text x="371.20" y="351.30" font-size="9.3" text-anchor="end" fill="#000" stroke="#000" font-weight="bold">40</text>
<line x1="373.00" y1="368.20" x2="376.20" y2="368.20" stroke="#000" stroke-width="1.9"/>
<text x="371.20" y="371.30" font-size="9.3" text-anchor="end" fill="#000" stroke="#000" font-weight="bold">30</text>
<line x1="373.00" y1="388.20" x2="376.20" y2="388.20" stroke="#000" stroke-width="1.9"/>
<text x="371.20" y="391.30" font-size="9.3" text-anchor="end" fill="#000" stroke="#000" font-weight="bold">20</text>
<line x1="373.00" y1="408.20" x2="376.20" y2="408.20" stroke="#000" stroke-width="1.9"/>
<text x="371.20" y="411.30" font-size="9.3" text-anchor="end" fill="#000" stroke="#000" font-weight="bold">10</text>
<line x1="373.00" y1="428.20" x2="376.20" y2="428.20" stroke="#000" stroke-width="1.9"/>
<text x="371.20" y="431.30" font-size="9.3" text-anchor="end" fill="#000" stroke="#000" font-weight="bold">0</text>
<text x="356.90" y="388.40" font-size="9.3" text-anchor="middle" fill="#000" stroke="#000" font-weight="bold" transform="rotate(-90 356.9 388.4)">mRNA half-life (h)</text>
<line x1="393.70" y1="435.60" x2="393.70" y2="438.20" stroke="#000" stroke-width="1.8"/>
<line x1="393.70" y1="397.80" x2="393.70" y2="413.00" stroke="#333" stroke-width="1.3"/>
<line x1="393.70" y1="423.50" x2="393.70" y2="427.50" stroke="#333" stroke-width="1.3"/>
<line x1="389.50" y1="397.80" x2="397.90" y2="397.80" stroke="#333" stroke-width="1.5"/>
<line x1="389.50" y1="427.50" x2="397.90" y2="427.50" stroke="#333" stroke-width="1.5"/>
<rect x="382.95" y="413.00" width="21.50" height="10.50" fill="#2f8a22" stroke="#333" stroke-width="1.5"/>
<line x1="383.55" y1="420.00" x2="403.85" y2="420.00" stroke="#333" stroke-width="2.6"/>
<text x="396.50" y="445.40" font-size="9" text-anchor="end" fill="#000" stroke="#000" font-weight="bold" transform="rotate(-50 396.5 445.4)">WT</text>
<line x1="421.80" y1="435.60" x2="421.80" y2="438.20" stroke="#000" stroke-width="1.8"/>
<line x1="421.80" y1="398.30" x2="421.80" y2="413.90" stroke="#333" stroke-width="1.3"/>
<line x1="421.80" y1="424.60" x2="421.80" y2="428.20" stroke="#333" stroke-width="1.3"/>
<line x1="417.60" y1="398.30" x2="426.00" y2="398.30" stroke="#333" stroke-width="1.5"/>
<line x1="417.60" y1="428.20" x2="426.00" y2="428.20" stroke="#333" stroke-width="1.5"/>
<rect x="411.05" y="413.90" width="21.50" height="10.70" fill="#f2626a" stroke="#333" stroke-width="1.5"/>
<line x1="411.65" y1="420.00" x2="431.95" y2="420.00" stroke="#333" stroke-width="2.6"/>
<text x="424.60" y="445.40" font-size="9" text-anchor="end" fill="#000" stroke="#000" font-weight="bold" transform="rotate(-50 424.6 445.4)"><tspan font-style="italic">Mat2b</tspan> KO</text>
<line x1="451.00" y1="435.60" x2="451.00" y2="438.20" stroke="#000" stroke-width="1.8"/>
<line x1="451.00" y1="381.90" x2="451.00" y2="406.00" stroke="#333" stroke-width="1.3"/>
<line x1="451.00" y1="422.80" x2="451.00" y2="428.20" stroke="#333" stroke-width="1.3"/>
<line x1="446.80" y1="381.90" x2="455.20" y2="381.90" stroke="#333" stroke-width="1.5"/>
<line x1="446.80" y1="428.20" x2="455.20" y2="428.20" stroke="#333" stroke-width="1.5"/>
<rect x="440.25" y="406.00" width="21.50" height="16.80" fill="#3b78cc" stroke="#333" stroke-width="1.5"/>
<line x1="440.85" y1="415.80" x2="461.15" y2="415.80" stroke="#333" stroke-width="2.6"/>
<text x="453.80" y="445.40" font-size="9" text-anchor="end" fill="#000" stroke="#000" font-weight="bold" transform="rotate(-50 453.8 445.4)">KO + MAT2B</text>
<line x1="479.70" y1="435.60" x2="479.70" y2="438.20" stroke="#000" stroke-width="1.8"/>
<line x1="479.70" y1="366.70" x2="479.70" y2="399.40" stroke="#333" stroke-width="1.3"/>
<line x1="479.70" y1="424.40" x2="479.70" y2="428.20" stroke="#333" stroke-width="1.3"/>
<line x1="475.50" y1="366.70" x2="483.90" y2="366.70" stroke="#333" stroke-width="1.5"/>
<line x1="475.50" y1="428.20" x2="483.90" y2="428.20" stroke="#333" stroke-width="1.5"/>
<rect x="468.95" y="399.40" width="21.50" height="25.00" fill="#4ea5ea" stroke="#333" stroke-width="1.5"/>
<line x1="469.55" y1="418.80" x2="489.85" y2="418.80" stroke="#333" stroke-width="2.6"/>
<text x="482.50" y="445.40" font-size="9" text-anchor="end" fill="#000" stroke="#000" font-weight="bold" transform="rotate(-50 482.5 445.4)">KO + MAT2B&#916;35-41</text>
<path d="M393.70 346.20 L393.70 340.60 L479.70 340.60 L479.70 346.20" fill="none" stroke="#222" stroke-width="1.2"/>
<text x="437.00" y="337.70" font-size="7.3" text-anchor="middle" fill="#000" stroke="#000" font-weight="bold"><tspan font-style="italic">p</tspan> = 0.037</text>
<path d="M393.70 354.60 L393.70 349.20 L451.00 349.20 L451.00 354.60" fill="none" stroke="#222" stroke-width="1.2"/>
<text x="421.80" y="347.70" font-size="7.3" text-anchor="middle" fill="#000" stroke="#000" font-weight="bold"><tspan font-style="italic">p</tspan> = 0.011</text>
<path d="M393.70 363.20 L393.70 357.80 L421.80 357.80 L421.80 363.20" fill="none" stroke="#222" stroke-width="1.2"/>
<text x="407.70" y="355.90" font-size="7.3" text-anchor="middle" fill="#000" stroke="#000" font-weight="bold"><tspan font-style="italic">p</tspan> = 0.75</text>
<text x="181.20" y="308.10" font-size="14.2" text-anchor="start" fill="#000" stroke="#000" font-weight="bold">E</text>
<text x="265.30" y="310.00" font-size="9.35" text-anchor="middle" fill="#ff1a0c" stroke="#ff1a0c" font-weight="bold">m6A down-regulated</text>
<text x="265.30" y="321.40" font-size="9.35" text-anchor="middle" fill="#ff1a0c" stroke="#ff1a0c" font-weight="bold">Cluster 1</text>
<polyline points="203.62,432.10 209.26,432.10 210.48,428.39 212.70,407.35 214.80,393.33 216.90,385.90 221.11,376.00 225.32,368.58 229.52,363.62 236.61,359.50 242.25,357.44 249.23,355.38 263.29,353.31 280.00,351.25 294.95,349.60" fill="none" stroke="#4fe02a" stroke-width="1.2" stroke-linejoin="round"/>
<polyline points="203.62,432.10 209.04,432.10 212.03,393.33 214.13,380.95 216.90,371.05 221.11,361.98 225.32,358.10 232.29,354.55 242.25,352.08 263.95,350.43 277.23,349.60" fill="none" stroke="#f0585e" stroke-width="1.2" stroke-linejoin="round"/>
<polyline points="203.62,432.10 209.26,432.10 210.81,419.73 212.70,403.23 215.46,389.20 218.34,379.30 222.55,371.05 228.08,363.62 235.17,360.33 242.25,357.85 249.23,355.79 263.29,353.73 280.00,351.66 300.48,349.60" fill="none" stroke="#2f6fcf" stroke-width="1.2" stroke-linejoin="round"/>
<polyline points="203.62,432.10 209.15,432.10 209.93,415.60 211.26,389.20 214.13,377.65 218.34,372.70 222.55,366.51 228.08,361.56 235.17,357.03 242.25,353.31 256.20,351.25 286.09,349.60 324.83,349.60" fill="none" stroke="#74c8f8" stroke-width="1.2" stroke-linejoin="round"/>
<line x1="203.30" y1="346.70" x2="203.30" y2="436.80" stroke="#000" stroke-width="2"/>
<line x1="202.30" y1="435.80" x2="324.50" y2="435.80" stroke="#000" stroke-width="2"/>
<line x1="200.10" y1="349.60" x2="203.30" y2="349.60" stroke="#000" stroke-width="1.9"/>
<text x="197.50" y="352.70" font-size="9.3" text-anchor="end" fill="#000" stroke="#000" font-weight="bold">1.00</text>
<line x1="200.10" y1="370.23" x2="203.30" y2="370.23" stroke="#000" stroke-width="1.9"/>
<text x="197.50" y="373.33" font-size="9.3" text-anchor="end" fill="#000" stroke="#000" font-weight="bold">0.75</text>
<line x1="200.10" y1="390.85" x2="203.30" y2="390.85" stroke="#000" stroke-width="1.9"/>
<text x="197.50" y="393.95" font-size="9.3" text-anchor="end" fill="#000" stroke="#000" font-weight="bold">0.50</text>
<line x1="200.10" y1="411.48" x2="203.30" y2="411.48" stroke="#000" stroke-width="1.9"/>
<text x="197.50" y="414.58" font-size="9.3" text-anchor="end" fill="#000" stroke="#000" font-weight="bold">0.25</text>
<line x1="200.10" y1="432.10" x2="203.30" y2="432.10" stroke="#000" stroke-width="1.9"/>
<text x="197.50" y="435.20" font-size="9.3" text-anchor="end" fill="#000" stroke="#000" font-weight="bold">0.00</text>
<line x1="208.60" y1="435.80" x2="208.60" y2="438.40" stroke="#000" stroke-width="1.8"/>
<text x="208.60" y="447.00" font-size="9.3" text-anchor="middle" fill="#000" stroke="#000" font-weight="bold">0</text>
<line x1="236.28" y1="435.80" x2="236.28" y2="438.40" stroke="#000" stroke-width="1.8"/>
<text x="236.28" y="447.00" font-size="9.3" text-anchor="middle" fill="#000" stroke="#000" font-weight="bold">25</text>
<line x1="263.95" y1="435.80" x2="263.95" y2="438.40" stroke="#000" stroke-width="1.8"/>
<text x="263.95" y="447.00" font-size="9.3" text-anchor="middle" fill="#000" stroke="#000" font-weight="bold">50</text>
<line x1="291.62" y1="435.80" x2="291.62" y2="438.40" stroke="#000" stroke-width="1.8"/>
<text x="291.62" y="447.00" font-size="9.3" text-anchor="middle" fill="#000" stroke="#000" font-weight="bold">75</text>
<line x1="319.30" y1="435.80" x2="319.30" y2="438.40" stroke="#000" stroke-width="1.8"/>
<text x="319.30" y="447.00" font-size="9.3" text-anchor="middle" fill="#000" stroke="#000" font-weight="bold">100</text>
<text x="269.30" y="458.20" font-size="9.3" text-anchor="middle" fill="#000" stroke="#000" font-weight="bold">mRNA half-life (h)</text>
<text x="175.60" y="391.40" font-size="9.3" text-anchor="middle" fill="#000" stroke="#000" font-weight="bold" transform="rotate(-90 175.6 391.4)">Cumulative fraction</text>
<line x1="245.20" y1="379.90" x2="254.10" y2="379.90" stroke="#4fe02a" stroke-width="2.2"/>
<text x="255.40" y="382.70" font-size="8" text-anchor="start" fill="#000" stroke="#000" font-weight="bold">WT</text>
<line x1="245.20" y1="389.70" x2="254.10" y2="389.70" stroke="#f0585e" stroke-width="2.2"/>
<text x="255.40" y="392.50" font-size="8" text-anchor="start" fill="#000" stroke="#000" font-weight="bold"><tspan font-style="italic">Mat2b</tspan> KO</text>
<line x1="245.20" y1="399.80" x2="254.10" y2="399.80" stroke="#2f6fcf" stroke-width="2.2"/>
<text x="255.40" y="402.60" font-size="8" text-anchor="start" fill="#000" stroke="#000" font-weight="bold">KO + MAT2B</text>
<line x1="245.20" y1="409.30" x2="254.10" y2="409.30" stroke="#74c8f8" stroke-width="2.2"/>
<text x="255.40" y="412.10" font-size="8" text-anchor="start" fill="#000" stroke="#000" font-weight="bold">KO + MAT2B&#916;35-41</text>
<text x="520.80" y="308.10" font-size="14.2" text-anchor="start" fill="#000" stroke="#000" font-weight="bold">G</text>
<text x="611.50" y="310.00" font-size="9.35" text-anchor="middle" fill="#ff1a0c" stroke="#ff1a0c" font-weight="bold">m6A up-regulated</text>
<text x="611.50" y="321.40" font-size="9.35" text-anchor="middle" fill="#ff1a0c" stroke="#ff1a0c" font-weight="bold">Cluster 3</text>
<polyline points="549.49,433.10 555.28,433.10 557.32,413.11 560.05,391.45 562.89,372.29 567.09,361.46 571.28,356.88 578.32,354.30 588.20,352.97 595.23,351.63 609.31,350.63 624.97,349.80" fill="none" stroke="#4fe02a" stroke-width="1.2" stroke-linejoin="round"/>
<polyline points="549.49,433.10 555.05,433.10 557.32,410.61 560.05,389.78 562.89,372.29 567.09,362.71 571.28,358.13 578.32,354.63 588.20,353.30 595.23,352.13 609.31,351.05 648.81,349.80" fill="none" stroke="#f0585e" stroke-width="1.2" stroke-linejoin="round"/>
<polyline points="549.49,433.10 555.28,433.10 557.32,417.27 560.05,397.28 562.89,382.29 567.09,368.96 574.12,362.30 581.16,358.96 588.20,356.05 595.23,354.80 609.31,352.30 626.11,351.05 647.67,349.80" fill="none" stroke="#2f6fcf" stroke-width="1.2" stroke-linejoin="round"/>
<polyline points="549.49,433.10 555.39,433.10 557.32,419.77 560.05,399.78 562.89,386.45 567.09,374.79 574.12,363.96 581.16,359.80 588.20,356.88 595.23,355.21 609.31,352.72 626.11,351.47 651.08,350.63 671.50,349.80" fill="none" stroke="#74c8f8" stroke-width="1.2" stroke-linejoin="round"/>
<line x1="549.50" y1="346.40" x2="549.50" y2="437.90" stroke="#000" stroke-width="2"/>
<line x1="548.50" y1="436.90" x2="672.90" y2="436.90" stroke="#000" stroke-width="2"/>
<line x1="546.30" y1="349.80" x2="549.50" y2="349.80" stroke="#000" stroke-width="1.9"/>
<text x="542.90" y="352.90" font-size="9.3" text-anchor="end" fill="#000" stroke="#000" font-weight="bold">1.00</text>
<line x1="546.30" y1="370.62" x2="549.50" y2="370.62" stroke="#000" stroke-width="1.9"/>
<text x="542.90" y="373.73" font-size="9.3" text-anchor="end" fill="#000" stroke="#000" font-weight="bold">0.75</text>
<line x1="546.30" y1="391.45" x2="549.50" y2="391.45" stroke="#000" stroke-width="1.9"/>
<text x="542.90" y="394.55" font-size="9.3" text-anchor="end" fill="#000" stroke="#000" font-weight="bold">0.50</text>
<line x1="546.30" y1="412.28" x2="549.50" y2="412.28" stroke="#000" stroke-width="1.9"/>
<text x="542.90" y="415.38" font-size="9.3" text-anchor="end" fill="#000" stroke="#000" font-weight="bold">0.25</text>
<line x1="546.30" y1="433.10" x2="549.50" y2="433.10" stroke="#000" stroke-width="1.9"/>
<text x="542.90" y="436.20" font-size="9.3" text-anchor="end" fill="#000" stroke="#000" font-weight="bold">0.00</text>
<line x1="554.60" y1="436.90" x2="554.60" y2="439.50" stroke="#000" stroke-width="1.8"/>
<text x="554.60" y="448.20" font-size="9.3" text-anchor="middle" fill="#000" stroke="#000" font-weight="bold">0</text>
<line x1="582.98" y1="436.90" x2="582.98" y2="439.50" stroke="#000" stroke-width="1.8"/>
<text x="582.98" y="448.20" font-size="9.3" text-anchor="middle" fill="#000" stroke="#000" font-weight="bold">25</text>
<line x1="611.35" y1="436.90" x2="611.35" y2="439.50" stroke="#000" stroke-width="1.8"/>
<text x="611.35" y="448.20" font-size="9.3" text-anchor="middle" fill="#000" stroke="#000" font-weight="bold">50</text>
<line x1="639.73" y1="436.90" x2="639.73" y2="439.50" stroke="#000" stroke-width="1.8"/>
<text x="639.73" y="448.20" font-size="9.3" text-anchor="middle" fill="#000" stroke="#000" font-weight="bold">75</text>
<line x1="668.10" y1="436.90" x2="668.10" y2="439.50" stroke="#000" stroke-width="1.8"/>
<text x="668.10" y="448.20" font-size="9.3" text-anchor="middle" fill="#000" stroke="#000" font-weight="bold">100</text>
<text x="617.20" y="458.20" font-size="9.3" text-anchor="middle" fill="#000" stroke="#000" font-weight="bold">mRNA half-life (h)</text>
<text x="521.60" y="390.45" font-size="9.3" text-anchor="middle" fill="#000" stroke="#000" font-weight="bold" transform="rotate(-90 521.6 390.45)">Cumulative fraction</text>
<line x1="591.80" y1="380.00" x2="600.70" y2="380.00" stroke="#4fe02a" stroke-width="2.2"/>
<text x="602.00" y="382.80" font-size="8" text-anchor="start" fill="#000" stroke="#000" font-weight="bold">WT</text>
<line x1="591.80" y1="390.30" x2="600.70" y2="390.30" stroke="#f0585e" stroke-width="2.2"/>
<text x="602.00" y="393.10" font-size="8" text-anchor="start" fill="#000" stroke="#000" font-weight="bold"><tspan font-style="italic">Mat2b</tspan> KO</text>
<line x1="591.80" y1="400.60" x2="600.70" y2="400.60" stroke="#2f6fcf" stroke-width="2.2"/>
<text x="602.00" y="403.40" font-size="8" text-anchor="start" fill="#000" stroke="#000" font-weight="bold">KO + MAT2B</text>
<line x1="591.80" y1="410.60" x2="600.70" y2="410.60" stroke="#74c8f8" stroke-width="2.2"/>
<text x="602.00" y="413.40" font-size="8" text-anchor="start" fill="#000" stroke="#000" font-weight="bold">KO + MAT2B&#916;35-41</text>
<text x="10.20" y="530.50" font-size="14.2" text-anchor="start" fill="#000" stroke="#000" font-weight="bold">H</text>
<text x="96.50" y="528.10" font-size="9.35" text-anchor="middle" fill="#ff1a0c" stroke="#ff1a0c" font-weight="bold">m6A down-regulated</text>
<text x="96.50" y="539.20" font-size="9.35" text-anchor="middle" fill="#ff1a0c" stroke="#ff1a0c" font-weight="bold">Cluster 1</text>
<text x="86.80" y="551.30" font-size="9.3" text-anchor="middle" fill="#000" stroke="#000" font-weight="bold">R = 0.28, <tspan font-style="italic">p</tspan> = 0.032</text>
<circle cx="44.60" cy="616.97" r="2.25" fill="#ec7482" fill-opacity="0.6"/>
<circle cx="44.96" cy="642.15" r="2.25" fill="#ec7482" fill-opacity="0.6"/>
<circle cx="46.79" cy="640.33" r="2.25" fill="#ec7482" fill-opacity="0.6"/>
<circle cx="52.81" cy="649.45" r="2.25" fill="#ec7482" fill-opacity="0.6"/>
<circle cx="55.18" cy="629.93" r="2.25" fill="#ec7482" fill-opacity="0.6"/>
<circle cx="63.76" cy="631.75" r="2.25" fill="#ec7482" fill-opacity="0.6"/>
<circle cx="68.32" cy="609.67" r="2.25" fill="#ec7482" fill-opacity="0.6"/>
<circle cx="69.23" cy="610.22" r="2.25" fill="#ec7482" fill-opacity="0.6"/>
<circle cx="70.15" cy="635.77" r="2.25" fill="#ec7482" fill-opacity="0.6"/>
<circle cx="74.34" cy="614.23" r="2.25" fill="#ec7482" fill-opacity="0.6"/>
<circle cx="75.26" cy="634.31" r="2.25" fill="#ec7482" fill-opacity="0.6"/>
<circle cx="87.48" cy="632.48" r="2.25" fill="#ec7482" fill-opacity="0.6"/>
<circle cx="88.94" cy="602.55" r="2.25" fill="#ec7482" fill-opacity="0.6"/>
<circle cx="89.85" cy="624.45" r="2.25" fill="#ec7482" fill-opacity="0.6"/>
<circle cx="94.42" cy="603.83" r="2.25" fill="#ec7482" fill-opacity="0.6"/>
<circle cx="96.24" cy="609.85" r="2.25" fill="#ec7482" fill-opacity="0.6"/>
<circle cx="98.07" cy="625.73" r="2.25" fill="#ec7482" fill-opacity="0.6"/>
<circle cx="101.72" cy="613.50" r="2.25" fill="#ec7482" fill-opacity="0.6"/>
<circle cx="103.91" cy="604.20" r="2.25" fill="#ec7482" fill-opacity="0.6"/>
<circle cx="104.82" cy="597.08" r="2.25" fill="#ec7482" fill-opacity="0.6"/>
<circle cx="105.36" cy="602.01" r="2.25" fill="#ec7482" fill-opacity="0.6"/>
<circle cx="105.36" cy="635.77" r="2.25" fill="#ec7482" fill-opacity="0.6"/>
<circle cx="105.73" cy="621.72" r="2.25" fill="#ec7482" fill-opacity="0.6"/>
<circle cx="108.47" cy="606.57" r="2.25" fill="#ec7482" fill-opacity="0.6"/>
<circle cx="109.01" cy="612.04" r="2.25" fill="#ec7482" fill-opacity="0.6"/>
<circle cx="109.38" cy="631.75" r="2.25" fill="#ec7482" fill-opacity="0.6"/>
<circle cx="110.66" cy="608.03" r="2.25" fill="#ec7482" fill-opacity="0.6"/>
<circle cx="114.85" cy="581.39" r="2.25" fill="#ec7482" fill-opacity="0.6"/>
<circle cx="115.77" cy="642.15" r="2.25" fill="#ec7482" fill-opacity="0.6"/>
<circle cx="115.77" cy="602.55" r="2.25" fill="#ec7482" fill-opacity="0.6"/>
<circle cx="118.14" cy="626.64" r="2.25" fill="#ec7482" fill-opacity="0.6"/>
<circle cx="118.50" cy="619.71" r="2.25" fill="#ec7482" fill-opacity="0.6"/>
<circle cx="119.42" cy="603.47" r="2.25" fill="#ec7482" fill-opacity="0.6"/>
<circle cx="121.79" cy="618.43" r="2.25" fill="#ec7482" fill-opacity="0.6"/>
<circle cx="122.15" cy="622.99" r="2.25" fill="#ec7482" fill-opacity="0.6"/>
<circle cx="122.70" cy="595.62" r="2.25" fill="#ec7482" fill-opacity="0.6"/>
<circle cx="123.61" cy="618.98" r="2.25" fill="#ec7482" fill-opacity="0.6"/>
<circle cx="124.53" cy="642.15" r="2.25" fill="#ec7482" fill-opacity="0.6"/>
<circle cx="125.80" cy="605.66" r="2.25" fill="#ec7482" fill-opacity="0.6"/>
<circle cx="126.17" cy="631.75" r="2.25" fill="#ec7482" fill-opacity="0.6"/>
<circle cx="126.17" cy="625.73" r="2.25" fill="#ec7482" fill-opacity="0.6"/>
<circle cx="126.72" cy="617.52" r="2.25" fill="#ec7482" fill-opacity="0.6"/>
<circle cx="128.18" cy="569.71" r="2.25" fill="#ec7482" fill-opacity="0.6"/>
<circle cx="128.54" cy="642.15" r="2.25" fill="#ec7482" fill-opacity="0.6"/>
<circle cx="130.00" cy="611.13" r="2.25" fill="#ec7482" fill-opacity="0.6"/>
<circle cx="134.01" cy="639.78" r="2.25" fill="#ec7482" fill-opacity="0.6"/>
<circle cx="135.47" cy="635.77" r="2.25" fill="#ec7482" fill-opacity="0.6"/>
<circle cx="135.84" cy="561.86" r="2.25" fill="#ec7482" fill-opacity="0.6"/>
<circle cx="136.39" cy="623.91" r="2.25" fill="#ec7482" fill-opacity="0.6"/>
<circle cx="138.03" cy="617.15" r="2.25" fill="#ec7482" fill-opacity="0.6"/>
<circle cx="139.49" cy="643.98" r="2.25" fill="#ec7482" fill-opacity="0.6"/>
<circle cx="139.49" cy="632.48" r="2.25" fill="#ec7482" fill-opacity="0.6"/>
<circle cx="140.95" cy="574.27" r="2.25" fill="#ec7482" fill-opacity="0.6"/>
<circle cx="142.23" cy="615.33" r="2.25" fill="#ec7482" fill-opacity="0.6"/>
<circle cx="142.77" cy="590.15" r="2.25" fill="#ec7482" fill-opacity="0.6"/>
<circle cx="144.05" cy="595.62" r="2.25" fill="#ec7482" fill-opacity="0.6"/>
<circle cx="144.96" cy="630.29" r="2.25" fill="#ec7482" fill-opacity="0.6"/>
<circle cx="104.82" cy="636.13" r="2.25" fill="#ec7482" fill-opacity="0.6"/>
<line x1="44.96" y1="629.93" x2="145.33" y2="610.22" stroke="#000" stroke-width="2"/>
<line x1="39.80" y1="558.20" x2="39.80" y2="654.60" stroke="#000" stroke-width="2"/>
<line x1="38.80" y1="653.60" x2="149.50" y2="653.60" stroke="#000" stroke-width="2"/>
<line x1="36.60" y1="577.00" x2="39.80" y2="577.00" stroke="#000" stroke-width="1.9"/>
<text x="35.40" y="580.10" font-size="9.3" text-anchor="end" fill="#000" stroke="#000" font-weight="bold">4</text>
<line x1="36.60" y1="597.00" x2="39.80" y2="597.00" stroke="#000" stroke-width="1.9"/>
<text x="35.40" y="600.10" font-size="9.3" text-anchor="end" fill="#000" stroke="#000" font-weight="bold">2</text>
<line x1="36.60" y1="617.00" x2="39.80" y2="617.00" stroke="#000" stroke-width="1.9"/>
<text x="35.40" y="620.10" font-size="9.3" text-anchor="end" fill="#000" stroke="#000" font-weight="bold">0</text>
<line x1="36.60" y1="637.00" x2="39.80" y2="637.00" stroke="#000" stroke-width="1.9"/>
<text x="35.40" y="640.10" font-size="9.3" text-anchor="end" fill="#000" stroke="#000" font-weight="bold">-2</text>
<line x1="66.90" y1="653.60" x2="66.90" y2="656.20" stroke="#000" stroke-width="1.8"/>
<text x="66.90" y="664.00" font-size="9.3" text-anchor="middle" fill="#000" stroke="#000" font-weight="bold">-1.2</text>
<line x1="96.21" y1="653.60" x2="96.21" y2="656.20" stroke="#000" stroke-width="1.8"/>
<text x="96.21" y="664.00" font-size="9.3" text-anchor="middle" fill="#000" stroke="#000" font-weight="bold">-0.9</text>
<line x1="125.52" y1="653.60" x2="125.52" y2="656.20" stroke="#000" stroke-width="1.8"/>
<text x="125.52" y="664.00" font-size="9.3" text-anchor="middle" fill="#000" stroke="#000" font-weight="bold">-0.6</text>
<text x="21.60" y="606.10" font-size="9.3" text-anchor="middle" fill="#000" stroke="#000" font-weight="bold" transform="rotate(-90 21.6 606.1)">Log<tspan font-size="6.8" dy="2.5">2</tspan><tspan dy="-2.5">Half-life (KO / WT)</tspan></text>
<text x="93.00" y="680.40" font-size="9.3" text-anchor="middle" fill="#000" stroke="#000" font-weight="bold">Log<tspan font-size="6.8" dy="2.5">2</tspan><tspan dy="-2.5">FC m<tspan font-size="6.8" dy="-3.5">6</tspan><tspan dy="3.5">A (KO / WT)</tspan></tspan></text>
<text x="174.10" y="530.50" font-size="14.2" text-anchor="start" fill="#000" stroke="#000" font-weight="bold">I</text>
<text x="273.80" y="528.10" font-size="9.35" text-anchor="middle" fill="#ff1a0c" stroke="#ff1a0c" font-weight="bold">m6A down-regulated</text>
<text x="273.80" y="539.20" font-size="9.35" text-anchor="middle" fill="#ff1a0c" stroke="#ff1a0c" font-weight="bold">Cluster 1</text>
<text x="263.00" y="551.30" font-size="9.3" text-anchor="middle" fill="#000" stroke="#000" font-weight="bold">R = 0.33, <tspan font-style="italic">p</tspan> = 0.039</text>
<circle cx="223.28" cy="622.63" r="2.25" fill="#4e9ad6" fill-opacity="0.6"/>
<circle cx="233.87" cy="649.45" r="2.25" fill="#4e9ad6" fill-opacity="0.6"/>
<circle cx="237.88" cy="612.04" r="2.25" fill="#4e9ad6" fill-opacity="0.6"/>
<circle cx="238.80" cy="611.13" r="2.25" fill="#4e9ad6" fill-opacity="0.6"/>
<circle cx="240.99" cy="631.20" r="2.25" fill="#4e9ad6" fill-opacity="0.6"/>
<circle cx="242.08" cy="610.22" r="2.25" fill="#4e9ad6" fill-opacity="0.6"/>
<circle cx="242.45" cy="623.36" r="2.25" fill="#4e9ad6" fill-opacity="0.6"/>
<circle cx="243.36" cy="610.22" r="2.25" fill="#4e9ad6" fill-opacity="0.6"/>
<circle cx="243.91" cy="601.09" r="2.25" fill="#4e9ad6" fill-opacity="0.6"/>
<circle cx="244.64" cy="580.47" r="2.25" fill="#4e9ad6" fill-opacity="0.6"/>
<circle cx="247.92" cy="622.45" r="2.25" fill="#4e9ad6" fill-opacity="0.6"/>
<circle cx="249.01" cy="610.58" r="2.25" fill="#4e9ad6" fill-opacity="0.6"/>
<circle cx="249.74" cy="614.78" r="2.25" fill="#4e9ad6" fill-opacity="0.6"/>
<circle cx="252.12" cy="630.29" r="2.25" fill="#4e9ad6" fill-opacity="0.6"/>
<circle cx="252.48" cy="630.29" r="2.25" fill="#4e9ad6" fill-opacity="0.6"/>
<circle cx="253.76" cy="611.13" r="2.25" fill="#4e9ad6" fill-opacity="0.6"/>
<circle cx="254.85" cy="592.70" r="2.25" fill="#4e9ad6" fill-opacity="0.6"/>
<circle cx="256.13" cy="605.66" r="2.25" fill="#4e9ad6" fill-opacity="0.6"/>
<circle cx="257.04" cy="629.93" r="2.25" fill="#4e9ad6" fill-opacity="0.6"/>
<circle cx="258.50" cy="600.18" r="2.25" fill="#4e9ad6" fill-opacity="0.6"/>
<circle cx="258.87" cy="561.86" r="2.25" fill="#4e9ad6" fill-opacity="0.6"/>
<circle cx="259.78" cy="623.91" r="2.25" fill="#4e9ad6" fill-opacity="0.6"/>
<circle cx="260.15" cy="642.15" r="2.25" fill="#4e9ad6" fill-opacity="0.6"/>
<circle cx="261.61" cy="622.99" r="2.25" fill="#4e9ad6" fill-opacity="0.6"/>
<circle cx="261.97" cy="583.76" r="2.25" fill="#4e9ad6" fill-opacity="0.6"/>
<circle cx="263.43" cy="615.69" r="2.25" fill="#4e9ad6" fill-opacity="0.6"/>
<circle cx="264.71" cy="590.88" r="2.25" fill="#4e9ad6" fill-opacity="0.6"/>
<circle cx="266.17" cy="603.47" r="2.25" fill="#4e9ad6" fill-opacity="0.6"/>
<circle cx="268.91" cy="612.59" r="2.25" fill="#4e9ad6" fill-opacity="0.6"/>
<circle cx="272.01" cy="609.31" r="2.25" fill="#4e9ad6" fill-opacity="0.6"/>
<circle cx="274.38" cy="594.71" r="2.25" fill="#4e9ad6" fill-opacity="0.6"/>
<circle cx="277.12" cy="572.63" r="2.25" fill="#4e9ad6" fill-opacity="0.6"/>
<circle cx="278.58" cy="623.91" r="2.25" fill="#4e9ad6" fill-opacity="0.6"/>
<circle cx="289.53" cy="614.23" r="2.25" fill="#4e9ad6" fill-opacity="0.6"/>
<circle cx="289.53" cy="617.88" r="2.25" fill="#4e9ad6" fill-opacity="0.6"/>
<circle cx="289.89" cy="604.74" r="2.25" fill="#4e9ad6" fill-opacity="0.6"/>
<circle cx="290.26" cy="576.64" r="2.25" fill="#4e9ad6" fill-opacity="0.6"/>
<circle cx="299.56" cy="597.45" r="2.25" fill="#4e9ad6" fill-opacity="0.6"/>
<circle cx="314.53" cy="599.27" r="2.25" fill="#4e9ad6" fill-opacity="0.6"/>
<circle cx="238.07" cy="612.04" r="2.25" fill="#4e9ad6" fill-opacity="0.6"/>
<line x1="223.28" y1="621.17" x2="314.53" y2="592.52" stroke="#000" stroke-width="2"/>
<line x1="218.40" y1="558.20" x2="218.40" y2="655.00" stroke="#000" stroke-width="2"/>
<line x1="217.40" y1="654.00" x2="319.00" y2="654.00" stroke="#000" stroke-width="2"/>
<line x1="215.20" y1="560.75" x2="218.40" y2="560.75" stroke="#000" stroke-width="1.9"/>
<text x="214.00" y="563.85" font-size="9.3" text-anchor="end" fill="#000" stroke="#000" font-weight="bold">5.0</text>
<line x1="215.20" y1="583.93" x2="218.40" y2="583.93" stroke="#000" stroke-width="1.9"/>
<text x="214.00" y="587.03" font-size="9.3" text-anchor="end" fill="#000" stroke="#000" font-weight="bold">2.5</text>
<line x1="215.20" y1="607.10" x2="218.40" y2="607.10" stroke="#000" stroke-width="1.9"/>
<text x="214.00" y="610.20" font-size="9.3" text-anchor="end" fill="#000" stroke="#000" font-weight="bold">0.0</text>
<line x1="215.20" y1="630.27" x2="218.40" y2="630.27" stroke="#000" stroke-width="1.9"/>
<text x="214.00" y="633.38" font-size="9.3" text-anchor="end" fill="#000" stroke="#000" font-weight="bold">-2.5</text>
<line x1="215.20" y1="653.45" x2="218.40" y2="653.45" stroke="#000" stroke-width="1.9"/>
<text x="214.00" y="656.55" font-size="9.3" text-anchor="end" fill="#000" stroke="#000" font-weight="bold">-5.0</text>
<line x1="251.40" y1="654.00" x2="251.40" y2="656.60" stroke="#000" stroke-width="1.8"/>
<text x="251.40" y="664.00" font-size="9.3" text-anchor="middle" fill="#000" stroke="#000" font-weight="bold">0.5</text>
<line x1="286.10" y1="654.00" x2="286.10" y2="656.60" stroke="#000" stroke-width="1.8"/>
<text x="286.10" y="664.00" font-size="9.3" text-anchor="middle" fill="#000" stroke="#000" font-weight="bold">1.0</text>
<text x="191.20" y="604.70" font-size="9.3" text-anchor="middle" fill="#000" stroke="#000" font-weight="bold" transform="rotate(-90 191.2 604.7)">Log<tspan font-size="6.8" dy="2.5">2</tspan><tspan dy="-2.5">Half-life (KO + MAT2B / KO)</tspan></text>
<text x="268.50" y="680.40" font-size="9.3" text-anchor="middle" fill="#000" stroke="#000" font-weight="bold">Log<tspan font-size="6.8" dy="2.5">2</tspan><tspan dy="-2.5">FC m<tspan font-size="6.8" dy="-3.5">6</tspan><tspan dy="3.5">A (KO + MAT2B / KO)</tspan></tspan></text>
<text x="354.90" y="530.50" font-size="14.2" text-anchor="start" fill="#000" stroke="#000" font-weight="bold">J</text>
<text x="442.50" y="528.10" font-size="9.35" text-anchor="middle" fill="#ff1a0c" stroke="#ff1a0c" font-weight="bold">m6A up-regulated</text>
<text x="442.50" y="539.20" font-size="9.35" text-anchor="middle" fill="#ff1a0c" stroke="#ff1a0c" font-weight="bold">Cluster 3</text>
<text x="434.20" y="551.30" font-size="9.3" text-anchor="middle" fill="#000" stroke="#000" font-weight="bold">R = 0.12, <tspan font-style="italic">p</tspan> = 0.231</text>
<circle cx="396.46" cy="593.43" r="2.25" fill="#ec7482" fill-opacity="0.6"/>
<circle cx="396.09" cy="605.11" r="2.25" fill="#ec7482" fill-opacity="0.6"/>
<circle cx="397.01" cy="615.69" r="2.25" fill="#ec7482" fill-opacity="0.6"/>
<circle cx="396.46" cy="624.82" r="2.25" fill="#ec7482" fill-opacity="0.6"/>
<circle cx="397.92" cy="583.21" r="2.25" fill="#ec7482" fill-opacity="0.6"/>
<circle cx="400.11" cy="594.71" r="2.25" fill="#ec7482" fill-opacity="0.6"/>
<circle cx="402.85" cy="614.23" r="2.25" fill="#ec7482" fill-opacity="0.6"/>
<circle cx="403.76" cy="597.08" r="2.25" fill="#ec7482" fill-opacity="0.6"/>
<circle cx="403.76" cy="622.63" r="2.25" fill="#ec7482" fill-opacity="0.6"/>
<circle cx="404.31" cy="604.38" r="2.25" fill="#ec7482" fill-opacity="0.6"/>
<circle cx="404.67" cy="636.68" r="2.25" fill="#ec7482" fill-opacity="0.6"/>
<circle cx="405.04" cy="617.52" r="2.25" fill="#ec7482" fill-opacity="0.6"/>
<circle cx="405.58" cy="608.76" r="2.25" fill="#ec7482" fill-opacity="0.6"/>
<circle cx="405.58" cy="588.32" r="2.25" fill="#ec7482" fill-opacity="0.6"/>
<circle cx="406.13" cy="577.01" r="2.25" fill="#ec7482" fill-opacity="0.6"/>
<circle cx="406.50" cy="584.31" r="2.25" fill="#ec7482" fill-opacity="0.6"/>
<circle cx="406.50" cy="596.53" r="2.25" fill="#ec7482" fill-opacity="0.6"/>
<circle cx="406.86" cy="564.60" r="2.25" fill="#ec7482" fill-opacity="0.6"/>
<circle cx="407.41" cy="588.69" r="2.25" fill="#ec7482" fill-opacity="0.6"/>
<circle cx="408.32" cy="589.78" r="2.25" fill="#ec7482" fill-opacity="0.6"/>
<circle cx="408.87" cy="598.91" r="2.25" fill="#ec7482" fill-opacity="0.6"/>
<circle cx="409.23" cy="564.23" r="2.25" fill="#ec7482" fill-opacity="0.6"/>
<circle cx="409.78" cy="564.60" r="2.25" fill="#ec7482" fill-opacity="0.6"/>
<circle cx="410.51" cy="582.48" r="2.25" fill="#ec7482" fill-opacity="0.6"/>
<circle cx="411.06" cy="605.66" r="2.25" fill="#ec7482" fill-opacity="0.6"/>
<circle cx="411.06" cy="622.08" r="2.25" fill="#ec7482" fill-opacity="0.6"/>
<circle cx="411.61" cy="648.54" r="2.25" fill="#ec7482" fill-opacity="0.6"/>
<circle cx="411.97" cy="606.93" r="2.25" fill="#ec7482" fill-opacity="0.6"/>
<circle cx="411.97" cy="597.81" r="2.25" fill="#ec7482" fill-opacity="0.6"/>
<circle cx="412.52" cy="592.88" r="2.25" fill="#ec7482" fill-opacity="0.6"/>
<circle cx="412.88" cy="595.26" r="2.25" fill="#ec7482" fill-opacity="0.6"/>
<circle cx="413.25" cy="593.80" r="2.25" fill="#ec7482" fill-opacity="0.6"/>
<circle cx="413.80" cy="597.08" r="2.25" fill="#ec7482" fill-opacity="0.6"/>
<circle cx="414.34" cy="589.78" r="2.25" fill="#ec7482" fill-opacity="0.6"/>
<circle cx="414.34" cy="604.74" r="2.25" fill="#ec7482" fill-opacity="0.6"/>
<circle cx="414.71" cy="602.92" r="2.25" fill="#ec7482" fill-opacity="0.6"/>
<circle cx="415.26" cy="588.69" r="2.25" fill="#ec7482" fill-opacity="0.6"/>
<circle cx="415.62" cy="597.81" r="2.25" fill="#ec7482" fill-opacity="0.6"/>
<circle cx="416.53" cy="563.69" r="2.25" fill="#ec7482" fill-opacity="0.6"/>
<circle cx="417.08" cy="568.25" r="2.25" fill="#ec7482" fill-opacity="0.6"/>
<circle cx="417.08" cy="577.74" r="2.25" fill="#ec7482" fill-opacity="0.6"/>
<circle cx="417.08" cy="581.02" r="2.25" fill="#ec7482" fill-opacity="0.6"/>
<circle cx="417.45" cy="564.23" r="2.25" fill="#ec7482" fill-opacity="0.6"/>
<circle cx="417.81" cy="602.01" r="2.25" fill="#ec7482" fill-opacity="0.6"/>
<circle cx="418.36" cy="587.41" r="2.25" fill="#ec7482" fill-opacity="0.6"/>
<circle cx="418.36" cy="622.08" r="2.25" fill="#ec7482" fill-opacity="0.6"/>
<circle cx="421.09" cy="592.88" r="2.25" fill="#ec7482" fill-opacity="0.6"/>
<circle cx="422.55" cy="633.58" r="2.25" fill="#ec7482" fill-opacity="0.6"/>
<circle cx="422.92" cy="604.74" r="2.25" fill="#ec7482" fill-opacity="0.6"/>
<circle cx="423.83" cy="611.68" r="2.25" fill="#ec7482" fill-opacity="0.6"/>
<circle cx="424.20" cy="595.26" r="2.25" fill="#ec7482" fill-opacity="0.6"/>
<circle cx="425.29" cy="588.32" r="2.25" fill="#ec7482" fill-opacity="0.6"/>
<circle cx="426.02" cy="619.71" r="2.25" fill="#ec7482" fill-opacity="0.6"/>
<circle cx="426.57" cy="605.11" r="2.25" fill="#ec7482" fill-opacity="0.6"/>
<circle cx="428.76" cy="567.70" r="2.25" fill="#ec7482" fill-opacity="0.6"/>
<circle cx="428.94" cy="599.27" r="2.25" fill="#ec7482" fill-opacity="0.6"/>
<circle cx="429.67" cy="606.93" r="2.25" fill="#ec7482" fill-opacity="0.6"/>
<circle cx="431.13" cy="561.31" r="2.25" fill="#ec7482" fill-opacity="0.6"/>
<circle cx="432.04" cy="605.66" r="2.25" fill="#ec7482" fill-opacity="0.6"/>
<circle cx="432.96" cy="602.01" r="2.25" fill="#ec7482" fill-opacity="0.6"/>
<circle cx="433.32" cy="577.74" r="2.25" fill="#ec7482" fill-opacity="0.6"/>
<circle cx="433.87" cy="579.20" r="2.25" fill="#ec7482" fill-opacity="0.6"/>
<circle cx="434.23" cy="592.88" r="2.25" fill="#ec7482" fill-opacity="0.6"/>
<circle cx="434.42" cy="593.43" r="2.25" fill="#ec7482" fill-opacity="0.6"/>
<circle cx="434.78" cy="578.83" r="2.25" fill="#ec7482" fill-opacity="0.6"/>
<circle cx="435.15" cy="597.45" r="2.25" fill="#ec7482" fill-opacity="0.6"/>
<circle cx="439.34" cy="600.73" r="2.25" fill="#ec7482" fill-opacity="0.6"/>
<circle cx="439.34" cy="591.06" r="2.25" fill="#ec7482" fill-opacity="0.6"/>
<circle cx="441.17" cy="615.69" r="2.25" fill="#ec7482" fill-opacity="0.6"/>
<circle cx="442.99" cy="602.01" r="2.25" fill="#ec7482" fill-opacity="0.6"/>
<circle cx="443.91" cy="595.26" r="2.25" fill="#ec7482" fill-opacity="0.6"/>
<circle cx="444.27" cy="609.85" r="2.25" fill="#ec7482" fill-opacity="0.6"/>
<circle cx="444.82" cy="582.85" r="2.25" fill="#ec7482" fill-opacity="0.6"/>
<circle cx="446.09" cy="578.28" r="2.25" fill="#ec7482" fill-opacity="0.6"/>
<circle cx="447.55" cy="590.15" r="2.25" fill="#ec7482" fill-opacity="0.6"/>
<circle cx="448.10" cy="613.87" r="2.25" fill="#ec7482" fill-opacity="0.6"/>
<circle cx="449.74" cy="609.85" r="2.25" fill="#ec7482" fill-opacity="0.6"/>
<circle cx="452.12" cy="595.62" r="2.25" fill="#ec7482" fill-opacity="0.6"/>
<circle cx="454.49" cy="582.48" r="2.25" fill="#ec7482" fill-opacity="0.6"/>
<circle cx="456.68" cy="608.39" r="2.25" fill="#ec7482" fill-opacity="0.6"/>
<circle cx="459.42" cy="583.39" r="2.25" fill="#ec7482" fill-opacity="0.6"/>
<circle cx="461.79" cy="608.76" r="2.25" fill="#ec7482" fill-opacity="0.6"/>
<circle cx="463.43" cy="584.67" r="2.25" fill="#ec7482" fill-opacity="0.6"/>
<circle cx="463.98" cy="592.88" r="2.25" fill="#ec7482" fill-opacity="0.6"/>
<circle cx="477.66" cy="601.09" r="2.25" fill="#ec7482" fill-opacity="0.6"/>
<circle cx="487.15" cy="585.04" r="2.25" fill="#ec7482" fill-opacity="0.6"/>
<circle cx="403.94" cy="595.99" r="2.25" fill="#ec7482" fill-opacity="0.6"/>
<circle cx="407.77" cy="589.96" r="2.25" fill="#ec7482" fill-opacity="0.6"/>
<circle cx="413.07" cy="594.34" r="2.25" fill="#ec7482" fill-opacity="0.6"/>
<circle cx="413.98" cy="595.07" r="2.25" fill="#ec7482" fill-opacity="0.6"/>
<circle cx="404.31" cy="601.28" r="2.25" fill="#ec7482" fill-opacity="0.6"/>
<circle cx="411.24" cy="606.57" r="2.25" fill="#ec7482" fill-opacity="0.6"/>
<circle cx="403.39" cy="597.81" r="2.25" fill="#ec7482" fill-opacity="0.6"/>
<circle cx="400.84" cy="594.71" r="2.25" fill="#ec7482" fill-opacity="0.6"/>
<line x1="396.46" y1="598.91" x2="486.79" y2="589.78" stroke="#000" stroke-width="2"/>
<line x1="391.40" y1="557.30" x2="391.40" y2="654.60" stroke="#000" stroke-width="2"/>
<line x1="390.40" y1="653.60" x2="491.40" y2="653.60" stroke="#000" stroke-width="2"/>
<line x1="388.20" y1="576.40" x2="391.40" y2="576.40" stroke="#000" stroke-width="1.9"/>
<text x="387.00" y="579.50" font-size="9.3" text-anchor="end" fill="#000" stroke="#000" font-weight="bold">2.5</text>
<line x1="388.20" y1="600.40" x2="391.40" y2="600.40" stroke="#000" stroke-width="1.9"/>
<text x="387.00" y="603.50" font-size="9.3" text-anchor="end" fill="#000" stroke="#000" font-weight="bold">0.0</text>
<line x1="388.20" y1="624.40" x2="391.40" y2="624.40" stroke="#000" stroke-width="1.9"/>
<text x="387.00" y="627.50" font-size="9.3" text-anchor="end" fill="#000" stroke="#000" font-weight="bold">-2.5</text>
<line x1="388.20" y1="648.40" x2="391.40" y2="648.40" stroke="#000" stroke-width="1.9"/>
<text x="387.00" y="651.50" font-size="9.3" text-anchor="end" fill="#000" stroke="#000" font-weight="bold">-5.0</text>
<line x1="414.30" y1="653.60" x2="414.30" y2="656.20" stroke="#000" stroke-width="1.8"/>
<text x="414.30" y="664.00" font-size="9.3" text-anchor="middle" fill="#000" stroke="#000" font-weight="bold">0.5</text>
<line x1="444.30" y1="653.60" x2="444.30" y2="656.20" stroke="#000" stroke-width="1.8"/>
<text x="444.30" y="664.00" font-size="9.3" text-anchor="middle" fill="#000" stroke="#000" font-weight="bold">1.0</text>
<line x1="474.30" y1="653.60" x2="474.30" y2="656.20" stroke="#000" stroke-width="1.8"/>
<text x="474.30" y="664.00" font-size="9.3" text-anchor="middle" fill="#000" stroke="#000" font-weight="bold">1.5</text>
<text x="367.00" y="606.10" font-size="9.3" text-anchor="middle" fill="#000" stroke="#000" font-weight="bold" transform="rotate(-90 367 606.1)">Log<tspan font-size="6.8" dy="2.5">2</tspan><tspan dy="-2.5">Half-life (KO / WT)</tspan></text>
<text x="441.50" y="680.40" font-size="9.3" text-anchor="middle" fill="#000" stroke="#000" font-weight="bold">Log<tspan font-size="6.8" dy="2.5">2</tspan><tspan dy="-2.5">FC m<tspan font-size="6.8" dy="-3.5">6</tspan><tspan dy="3.5">A (KO / WT)</tspan></tspan></text>
<text x="507.80" y="530.50" font-size="14.2" text-anchor="start" fill="#000" stroke="#000" font-weight="bold">K</text>
<text x="608.60" y="528.10" font-size="9.35" text-anchor="middle" fill="#ff1a0c" stroke="#ff1a0c" font-weight="bold">m6A up-regulated</text>
<text x="608.60" y="539.20" font-size="9.35" text-anchor="middle" fill="#ff1a0c" stroke="#ff1a0c" font-weight="bold">Cluster 3</text>
<text x="600.00" y="551.30" font-size="9.3" text-anchor="middle" fill="#000" stroke="#000" font-weight="bold">R = 0.26, <tspan font-style="italic">p</tspan> = 0.018</text>
<circle cx="562.70" cy="618.98" r="2.25" fill="#4e9ad6" fill-opacity="0.6"/>
<circle cx="582.96" cy="630.66" r="2.25" fill="#4e9ad6" fill-opacity="0.6"/>
<circle cx="586.97" cy="617.15" r="2.25" fill="#4e9ad6" fill-opacity="0.6"/>
<circle cx="593.91" cy="620.26" r="2.25" fill="#4e9ad6" fill-opacity="0.6"/>
<circle cx="596.46" cy="611.68" r="2.25" fill="#4e9ad6" fill-opacity="0.6"/>
<circle cx="603.03" cy="595.99" r="2.25" fill="#4e9ad6" fill-opacity="0.6"/>
<circle cx="612.52" cy="614.78" r="2.25" fill="#4e9ad6" fill-opacity="0.6"/>
<circle cx="613.43" cy="611.13" r="2.25" fill="#4e9ad6" fill-opacity="0.6"/>
<circle cx="614.89" cy="619.89" r="2.25" fill="#4e9ad6" fill-opacity="0.6"/>
<circle cx="615.80" cy="608.39" r="2.25" fill="#4e9ad6" fill-opacity="0.6"/>
<circle cx="616.17" cy="579.56" r="2.25" fill="#4e9ad6" fill-opacity="0.6"/>
<circle cx="618.36" cy="632.12" r="2.25" fill="#4e9ad6" fill-opacity="0.6"/>
<circle cx="618.91" cy="648.91" r="2.25" fill="#4e9ad6" fill-opacity="0.6"/>
<circle cx="621.28" cy="571.53" r="2.25" fill="#4e9ad6" fill-opacity="0.6"/>
<circle cx="622.19" cy="620.26" r="2.25" fill="#4e9ad6" fill-opacity="0.6"/>
<circle cx="623.10" cy="615.69" r="2.25" fill="#4e9ad6" fill-opacity="0.6"/>
<circle cx="624.38" cy="609.85" r="2.25" fill="#4e9ad6" fill-opacity="0.6"/>
<circle cx="626.20" cy="612.96" r="2.25" fill="#4e9ad6" fill-opacity="0.6"/>
<circle cx="627.48" cy="608.39" r="2.25" fill="#4e9ad6" fill-opacity="0.6"/>
<circle cx="629.31" cy="617.52" r="2.25" fill="#4e9ad6" fill-opacity="0.6"/>
<circle cx="629.49" cy="561.31" r="2.25" fill="#4e9ad6" fill-opacity="0.6"/>
<circle cx="630.77" cy="620.26" r="2.25" fill="#4e9ad6" fill-opacity="0.6"/>
<circle cx="631.68" cy="604.20" r="2.25" fill="#4e9ad6" fill-opacity="0.6"/>
<circle cx="631.86" cy="630.66" r="2.25" fill="#4e9ad6" fill-opacity="0.6"/>
<circle cx="632.59" cy="613.87" r="2.25" fill="#4e9ad6" fill-opacity="0.6"/>
<circle cx="633.14" cy="595.99" r="2.25" fill="#4e9ad6" fill-opacity="0.6"/>
<circle cx="633.50" cy="609.31" r="2.25" fill="#4e9ad6" fill-opacity="0.6"/>
<circle cx="634.05" cy="624.82" r="2.25" fill="#4e9ad6" fill-opacity="0.6"/>
<circle cx="634.42" cy="600.73" r="2.25" fill="#4e9ad6" fill-opacity="0.6"/>
<circle cx="634.96" cy="630.66" r="2.25" fill="#4e9ad6" fill-opacity="0.6"/>
<circle cx="635.33" cy="612.96" r="2.25" fill="#4e9ad6" fill-opacity="0.6"/>
<circle cx="636.24" cy="605.66" r="2.25" fill="#4e9ad6" fill-opacity="0.6"/>
<circle cx="637.15" cy="614.78" r="2.25" fill="#4e9ad6" fill-opacity="0.6"/>
<circle cx="638.07" cy="605.11" r="2.25" fill="#4e9ad6" fill-opacity="0.6"/>
<circle cx="638.98" cy="611.13" r="2.25" fill="#4e9ad6" fill-opacity="0.6"/>
<circle cx="640.44" cy="580.11" r="2.25" fill="#4e9ad6" fill-opacity="0.6"/>
<circle cx="641.72" cy="592.34" r="2.25" fill="#4e9ad6" fill-opacity="0.6"/>
<circle cx="642.63" cy="610.22" r="2.25" fill="#4e9ad6" fill-opacity="0.6"/>
<circle cx="643.18" cy="604.74" r="2.25" fill="#4e9ad6" fill-opacity="0.6"/>
<circle cx="643.54" cy="618.98" r="2.25" fill="#4e9ad6" fill-opacity="0.6"/>
<circle cx="643.91" cy="603.28" r="2.25" fill="#4e9ad6" fill-opacity="0.6"/>
<circle cx="644.09" cy="633.94" r="2.25" fill="#4e9ad6" fill-opacity="0.6"/>
<circle cx="644.45" cy="596.53" r="2.25" fill="#4e9ad6" fill-opacity="0.6"/>
<circle cx="645.00" cy="608.39" r="2.25" fill="#4e9ad6" fill-opacity="0.6"/>
<circle cx="645.36" cy="602.92" r="2.25" fill="#4e9ad6" fill-opacity="0.6"/>
<circle cx="645.73" cy="610.22" r="2.25" fill="#4e9ad6" fill-opacity="0.6"/>
<circle cx="646.28" cy="598.91" r="2.25" fill="#4e9ad6" fill-opacity="0.6"/>
<circle cx="646.82" cy="604.74" r="2.25" fill="#4e9ad6" fill-opacity="0.6"/>
<circle cx="647.19" cy="609.31" r="2.25" fill="#4e9ad6" fill-opacity="0.6"/>
<circle cx="647.55" cy="602.92" r="2.25" fill="#4e9ad6" fill-opacity="0.6"/>
<circle cx="648.10" cy="566.06" r="2.25" fill="#4e9ad6" fill-opacity="0.6"/>
<circle cx="648.10" cy="596.53" r="2.25" fill="#4e9ad6" fill-opacity="0.6"/>
<circle cx="648.65" cy="606.93" r="2.25" fill="#4e9ad6" fill-opacity="0.6"/>
<circle cx="649.01" cy="594.71" r="2.25" fill="#4e9ad6" fill-opacity="0.6"/>
<circle cx="649.93" cy="612.04" r="2.25" fill="#4e9ad6" fill-opacity="0.6"/>
<circle cx="651.75" cy="591.06" r="2.25" fill="#4e9ad6" fill-opacity="0.6"/>
<circle cx="652.66" cy="606.93" r="2.25" fill="#4e9ad6" fill-opacity="0.6"/>
<circle cx="653.58" cy="600.73" r="2.25" fill="#4e9ad6" fill-opacity="0.6"/>
<circle cx="654.12" cy="616.61" r="2.25" fill="#4e9ad6" fill-opacity="0.6"/>
<circle cx="654.49" cy="601.46" r="2.25" fill="#4e9ad6" fill-opacity="0.6"/>
<circle cx="657.23" cy="612.04" r="2.25" fill="#4e9ad6" fill-opacity="0.6"/>
<circle cx="657.77" cy="620.26" r="2.25" fill="#4e9ad6" fill-opacity="0.6"/>
<circle cx="658.14" cy="616.61" r="2.25" fill="#4e9ad6" fill-opacity="0.6"/>
<circle cx="659.05" cy="591.06" r="2.25" fill="#4e9ad6" fill-opacity="0.6"/>
<circle cx="663.25" cy="604.38" r="2.25" fill="#4e9ad6" fill-opacity="0.6"/>
<circle cx="617.99" cy="632.12" r="2.25" fill="#4e9ad6" fill-opacity="0.6"/>
<circle cx="634.05" cy="625.18" r="2.25" fill="#4e9ad6" fill-opacity="0.6"/>
<line x1="562.70" y1="623.36" x2="663.25" y2="602.92" stroke="#000" stroke-width="2"/>
<line x1="557.40" y1="557.30" x2="557.40" y2="654.10" stroke="#000" stroke-width="2"/>
<line x1="556.40" y1="653.10" x2="667.80" y2="653.10" stroke="#000" stroke-width="2"/>
<line x1="554.20" y1="558.80" x2="557.40" y2="558.80" stroke="#000" stroke-width="1.9"/>
<text x="553.00" y="561.90" font-size="9.3" text-anchor="end" fill="#000" stroke="#000" font-weight="bold">6</text>
<line x1="554.20" y1="576.60" x2="557.40" y2="576.60" stroke="#000" stroke-width="1.9"/>
<text x="553.00" y="579.70" font-size="9.3" text-anchor="end" fill="#000" stroke="#000" font-weight="bold">4</text>
<line x1="554.20" y1="594.40" x2="557.40" y2="594.40" stroke="#000" stroke-width="1.9"/>
<text x="553.00" y="597.50" font-size="9.3" text-anchor="end" fill="#000" stroke="#000" font-weight="bold">2</text>
<line x1="554.20" y1="612.20" x2="557.40" y2="612.20" stroke="#000" stroke-width="1.9"/>
<text x="553.00" y="615.30" font-size="9.3" text-anchor="end" fill="#000" stroke="#000" font-weight="bold">0</text>
<line x1="554.20" y1="630.00" x2="557.40" y2="630.00" stroke="#000" stroke-width="1.9"/>
<text x="553.00" y="633.10" font-size="9.3" text-anchor="end" fill="#000" stroke="#000" font-weight="bold">-2</text>
<line x1="554.20" y1="647.80" x2="557.40" y2="647.80" stroke="#000" stroke-width="1.9"/>
<text x="553.00" y="650.90" font-size="9.3" text-anchor="end" fill="#000" stroke="#000" font-weight="bold">-4</text>
<line x1="578.35" y1="653.10" x2="578.35" y2="655.70" stroke="#000" stroke-width="1.8"/>
<text x="578.35" y="664.00" font-size="9.3" text-anchor="middle" fill="#000" stroke="#000" font-weight="bold">-1.5</text>
<line x1="607.50" y1="653.10" x2="607.50" y2="655.70" stroke="#000" stroke-width="1.8"/>
<text x="607.50" y="664.00" font-size="9.3" text-anchor="middle" fill="#000" stroke="#000" font-weight="bold">-1.0</text>
<line x1="636.65" y1="653.10" x2="636.65" y2="655.70" stroke="#000" stroke-width="1.8"/>
<text x="636.65" y="664.00" font-size="9.3" text-anchor="middle" fill="#000" stroke="#000" font-weight="bold">-0.5</text>
<line x1="665.80" y1="653.10" x2="665.80" y2="655.70" stroke="#000" stroke-width="1.8"/>
<text x="665.80" y="664.00" font-size="9.3" text-anchor="middle" fill="#000" stroke="#000" font-weight="bold">0.0</text>
<text x="535.90" y="602.10" font-size="9.3" text-anchor="middle" fill="#000" stroke="#000" font-weight="bold" transform="rotate(-90 535.9 602.1)">Log<tspan font-size="6.8" dy="2.5">2</tspan><tspan dy="-2.5">Half-life (KO + MAT2B / KO)</tspan></text>
<text x="612.60" y="680.40" font-size="9.3" text-anchor="middle" fill="#000" stroke="#000" font-weight="bold">Log<tspan font-size="6.8" dy="2.5">2</tspan><tspan dy="-2.5">FC m<tspan font-size="6.8" dy="-3.5">6</tspan><tspan dy="3.5">A (KO + MAT2B / KO)</tspan></tspan></text>
</svg></body></html>
